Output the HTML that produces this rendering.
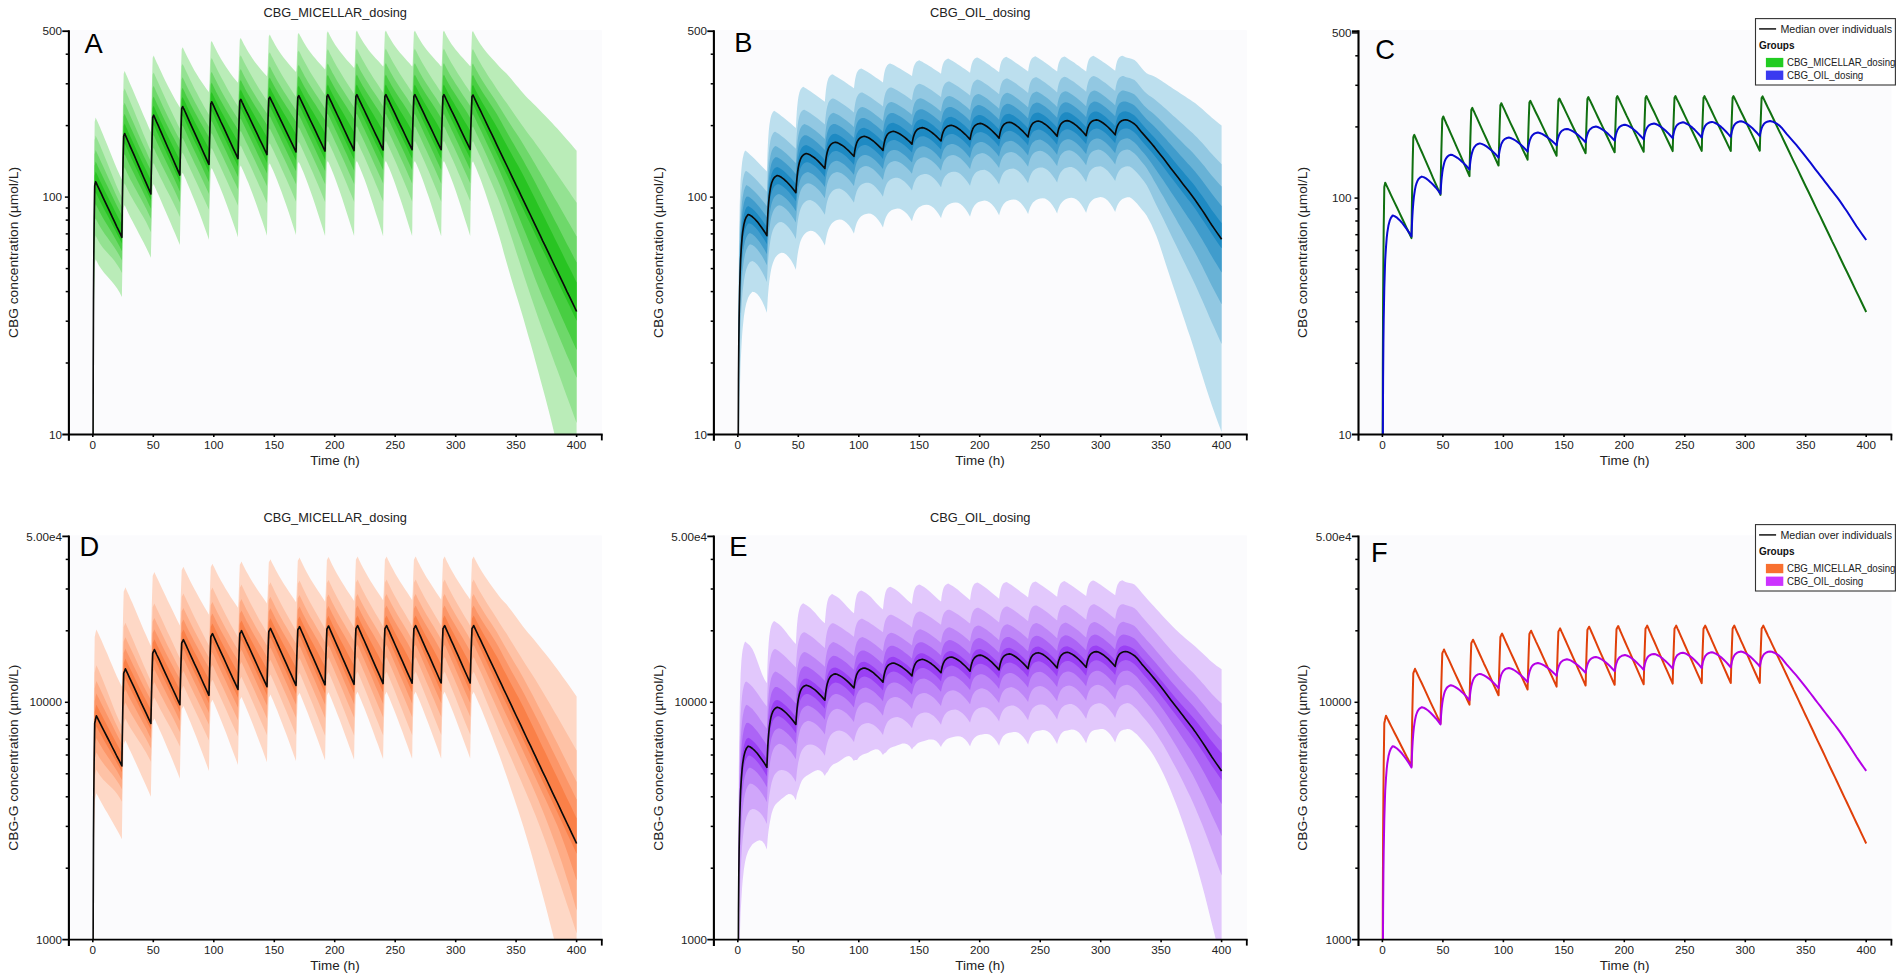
<!DOCTYPE html>
<html><head><meta charset="utf-8"><title>CBG dosing simulation</title>
<style>html,body{margin:0;padding:0;background:#fff;}body{width:1902px;height:979px;overflow:hidden;font-family:"Liberation Sans", sans-serif;}svg{display:block}</style>
</head><body>
<svg width="1902" height="979" viewBox="0 0 1902 979" font-family='"Liberation Sans", sans-serif'>
<g transform="translate(0,0)">
<rect x="68.9" y="30.2" width="532.9" height="404.3" fill="#fbfbfd"/>
<clipPath id="cp00"><rect x="68.9" y="30.2" width="533.9" height="404.3"/></clipPath>
<g clip-path="url(#cp00)">
<path d="M92.9,548.5 L93,386 L93.2,298 L93.5,234.2 L93.8,193.3 L94.1,163.6 L94.7,121.8 L95.3,119.2 L95.6,117.6 L96.4,119.2 L97.1,120.7 L97.7,122.1 L98.9,124.8 L100.1,127.6 L101.3,130.4 L103.1,134.8 L104.9,139.2 L107.4,145.2 L109.8,151.3 L112.2,157.3 L114.6,163.2 L117,169 L119.5,174.5 L121.9,179.8 L121.9,179.8 L122,167.8 L122.2,151.7 L122.5,129.5 L122.8,112.3 L123.1,97.7 L123.7,73.7 L124.3,72 L124.7,71 L125.4,72.7 L126.1,74.4 L126.7,75.8 L127.9,78.6 L129.1,81.4 L130.3,84.2 L132.2,88.4 L134,92.7 L136.4,98.4 L138.8,104 L141.2,109.7 L143.6,115.4 L146.1,121 L148.5,126.7 L150.9,132.2 L150.9,132.2 L151,125.4 L151.2,116 L151.5,102 L151.8,89.1 L152.1,77.6 L152.7,57.8 L153.3,56.4 L153.7,55.6 L154.4,57.2 L155.1,58.9 L155.7,60.2 L156.9,62.9 L158.2,65.6 L159.4,68.2 L161.2,72.1 L163,76 L165.4,80.9 L167.8,85.8 L170.3,90.5 L172.7,95 L175.1,99.4 L177.5,103.6 L179.9,107.6 L179.9,107.6 L180,103.4 L180.2,97.6 L180.5,88.2 L180.8,77.2 L181.1,67 L181.7,49.2 L182.3,48 L182.7,47.2 L183.4,48.8 L184.2,50.4 L184.8,51.7 L186,54.2 L187.2,56.7 L188.4,59.1 L190.2,62.6 L192,66 L194.4,70.4 L196.9,74.5 L199.3,78.4 L201.7,82.1 L204.1,85.6 L206.5,88.9 L208.9,92 L209,92 L209.1,89.2 L209.3,85.5 L209.6,78.6 L209.9,68.8 L210.2,59.4 L210.8,42.8 L211.4,41.6 L211.7,40.9 L212.5,42.5 L213.2,44 L213.8,45.2 L215,47.7 L216.2,50.1 L217.4,52.4 L219.2,55.7 L221,58.9 L223.5,62.9 L225.9,66.7 L228.3,70.3 L230.7,73.7 L233.1,76.9 L235.6,79.9 L238,82.8 L238,82.8 L238.1,80.9 L238.3,78.6 L238.6,73.6 L238.9,64.4 L239.2,55.5 L239.8,39.7 L240.4,38.5 L240.8,37.9 L241.5,39.4 L242.2,40.8 L242.8,42.1 L244,44.4 L245.2,46.6 L246.4,48.8 L248.3,51.9 L250.1,54.8 L252.5,58.5 L254.9,61.9 L257.3,65.1 L259.7,68.1 L262.2,70.9 L264.6,73.7 L267,76.3 L267,76.3 L267.1,74.9 L267.3,73.4 L267.6,69.3 L267.9,60.5 L268.2,51.8 L268.8,36.4 L269.4,35.3 L269.8,34.6 L270.5,36.1 L271.2,37.6 L271.8,38.8 L273.1,41.1 L274.3,43.3 L275.5,45.4 L277.3,48.4 L279.1,51.2 L281.5,54.7 L283.9,58 L286.4,61.1 L288.8,64 L291.2,66.7 L293.6,69.4 L296,72 L296,72 L296.2,71.1 L296.3,70.2 L296.6,66.9 L296.9,58.3 L297.2,49.8 L297.8,34.6 L298.4,33.5 L298.8,32.9 L299.5,34.4 L300.3,35.9 L300.9,37 L302.1,39.3 L303.3,41.5 L304.5,43.6 L306.3,46.5 L308.1,49.2 L310.5,52.6 L313,55.7 L315.4,58.6 L317.8,61.4 L320.2,64.1 L322.6,66.8 L325,69.4 L325.1,69.4 L325.2,68.7 L325.4,68.2 L325.7,65.2 L326,56.7 L326.3,48.2 L326.9,33 L327.5,31.9 L327.8,31.2 L328.6,32.8 L329.3,34.2 L329.9,35.4 L331.1,37.7 L332.3,39.9 L333.5,42 L335.3,44.9 L337.1,47.6 L339.6,51 L342,54.1 L344.4,57 L346.8,59.9 L349.2,62.6 L351.7,65.3 L354.1,68.1 L354.1,68.1 L354.2,67.5 L354.4,67.1 L354.7,64.3 L355,55.9 L355.3,47.4 L355.9,32.3 L356.5,31.3 L356.9,30.6 L357.6,32.1 L358.3,33.6 L358.9,34.7 L360.1,37 L361.3,39.1 L362.5,41.1 L364.4,44 L366.2,46.6 L368.6,49.9 L371,52.9 L373.4,55.7 L375.8,58.4 L378.3,61.1 L380.7,63.8 L383.1,66.6 L383.1,66.6 L383.2,66.2 L383.4,66.2 L383.7,63.9 L384,55.6 L384.3,47.3 L384.9,32.3 L385.5,31.2 L385.9,30.6 L386.6,32.1 L387.3,33.5 L387.9,34.7 L389.2,37 L390.4,39.1 L391.6,41.1 L393.4,43.9 L395.2,46.5 L397.6,49.8 L400,52.7 L402.5,55.6 L404.9,58.3 L407.3,60.9 L409.7,63.6 L412.1,66.4 L412.1,66.4 L412.3,66.1 L412.4,66 L412.7,63.8 L413,55.6 L413.3,47.2 L413.9,32.3 L414.6,31.2 L414.9,30.6 L415.6,32.1 L416.4,33.5 L417,34.7 L418.2,37 L419.4,39.1 L420.6,41.1 L422.4,43.9 L424.2,46.5 L426.6,49.8 L429.1,52.7 L431.5,55.6 L433.9,58.3 L436.3,60.9 L438.7,63.6 L441.1,66.4 L441.2,66.4 L441.3,66.1 L441.5,66 L441.8,63.8 L442.1,55.6 L442.4,47.2 L443,32.3 L443.6,31.2 L443.9,30.6 L444.7,32.1 L445.4,33.5 L446,34.7 L447.2,36.9 L448.4,39 L449.6,41 L451.4,43.9 L453.3,46.5 L455.7,49.7 L458.1,52.6 L460.5,55.4 L462.9,58.1 L465.3,60.7 L467.8,63.4 L470.2,66.2 L470.2,66.2 L470.3,65.9 L470.5,65.9 L470.8,63.8 L471.1,55.7 L471.4,47.4 L472,32.6 L472.6,31.5 L473,30.9 L473.7,32.4 L474.4,33.8 L475,35 L476.2,37.2 L477.4,39.3 L478.6,41.3 L480.5,44.2 L482.3,46.8 L484.7,50 L487.1,52.9 L489.5,55.7 L492,58.4 L494.4,61.1 L496.8,63.7 L499.2,66.5 L501.6,69 L504,71.2 L506.5,73.6 L508.9,76.3 L511.3,79.1 L513.7,82 L516.1,84.9 L518.6,87.8 L521,90.7 L523.4,93.5 L525.8,96.2 L528.2,98.7 L530.7,101.1 L533.1,103.4 L535.5,105.8 L537.9,108.3 L540.3,110.8 L542.7,113.2 L545.2,115.7 L547.6,118.2 L550,120.8 L552.4,123.3 L554.8,126 L557.3,128.6 L559.7,131.3 L562.1,134 L564.5,136.7 L566.9,139.5 L569.4,142.3 L571.8,145.1 L574.2,147.9 L576.6,150.8 L576.6,541.8 L574.2,528.7 L571.8,516 L569.4,503.5 L566.9,491.3 L564.5,479.5 L562.1,467.9 L559.7,456.8 L557.3,446 L554.8,435.5 L552.4,425.5 L550,415.8 L547.6,406.4 L545.2,397.2 L542.7,388.1 L540.3,379.2 L537.9,370.3 L535.5,361.4 L533.1,352.6 L530.7,343.9 L528.2,335.4 L525.8,326.9 L523.4,318.6 L521,310.5 L518.6,302.5 L516.1,294.6 L513.7,286.7 L511.3,278.7 L508.9,270.6 L506.5,262.3 L504,253.5 L501.6,244.5 L499.2,236.2 L496.8,228.5 L494.4,220.8 L492,213.2 L489.5,205.6 L487.1,198.3 L484.7,191.1 L482.3,184.2 L480.5,179.2 L478.6,174.5 L477.4,171.5 L476.2,168.5 L475,165.7 L474.4,164.4 L473.7,162.8 L473,161.2 L472.6,161.9 L472,162.9 L471.4,177.7 L471.1,186 L470.8,195.9 L470.5,213.8 L470.3,227 L470.2,235.9 L470.2,235.9 L467.8,228.2 L465.3,220.5 L462.9,212.9 L460.5,205.3 L458.1,197.9 L455.7,190.8 L453.3,183.9 L451.4,178.9 L449.6,174.2 L448.4,171.2 L447.2,168.2 L446,165.4 L445.4,164.1 L444.7,162.5 L443.9,160.9 L443.6,161.6 L443,162.7 L442.4,177.5 L442.1,185.9 L441.8,195.9 L441.5,213.9 L441.3,227.1 L441.2,236.1 L441.1,236.1 L438.7,228.4 L436.3,220.7 L433.9,213 L431.5,205.5 L429.1,198.1 L426.6,190.9 L424.2,184 L422.4,179 L420.6,174.2 L419.4,171.2 L418.2,168.3 L417,165.4 L416.4,164.1 L415.6,162.5 L414.9,160.9 L414.6,161.6 L413.9,162.7 L413.3,177.5 L413,185.9 L412.7,195.9 L412.4,213.9 L412.3,227.1 L412.1,236.1 L412.1,236.1 L409.7,228.4 L407.3,220.7 L404.9,213 L402.5,205.5 L400,198.1 L397.6,190.9 L395.2,184 L393.4,179 L391.6,174.2 L390.4,171.2 L389.2,168.3 L387.9,165.4 L387.3,164.1 L386.6,162.5 L385.9,160.9 L385.5,161.6 L384.9,162.7 L384.3,177.6 L384,186 L383.7,196 L383.4,214.1 L383.2,227.3 L383.1,236.3 L383.1,236.3 L380.7,228.6 L378.3,220.8 L375.8,213.2 L373.4,205.6 L371,198.2 L368.6,191 L366.2,184 L364.4,179 L362.5,174.3 L361.3,171.2 L360.1,168.3 L358.9,165.5 L358.3,164.1 L357.6,162.5 L356.9,160.9 L356.5,161.6 L355.9,162.7 L355.3,177.8 L355,186.2 L354.7,196.3 L354.4,214.2 L354.2,227.3 L354.1,236.1 L354.1,236.1 L351.7,228.4 L349.2,220.6 L346.8,212.9 L344.4,205.4 L342,198 L339.6,190.9 L337.1,184 L335.3,179.1 L333.5,174.3 L332.3,171.3 L331.1,168.3 L329.9,165.5 L329.3,164.1 L328.6,162.5 L327.8,160.9 L327.5,161.6 L326.9,162.7 L326.3,177.9 L326,186.4 L325.7,196.6 L325.4,214.2 L325.2,227 L325.1,235.8 L325,235.7 L322.6,228.1 L320.2,220.4 L317.8,212.9 L315.4,205.5 L313,198.3 L310.5,191.3 L308.1,184.6 L306.3,179.8 L304.5,175.1 L303.3,172.1 L302.1,169.2 L300.9,166.4 L300.3,165.1 L299.5,163.5 L298.8,161.9 L298.4,162.6 L297.8,163.7 L297.2,178.9 L296.9,187.4 L296.6,197.4 L296.3,214.3 L296.2,226.6 L296,235 L296,234.9 L293.6,227.4 L291.2,219.9 L288.8,212.6 L286.4,205.5 L283.9,198.5 L281.5,191.8 L279.1,185.4 L277.3,180.7 L275.5,176.2 L274.3,173.3 L273.1,170.5 L271.8,167.8 L271.2,166.4 L270.5,164.9 L269.8,163.3 L269.4,164 L268.8,165.1 L268.2,180.6 L267.9,189.3 L267.6,199.4 L267.3,215.9 L267.1,227.7 L267,235.8 L267,235.8 L264.6,228.3 L262.2,221 L259.7,213.9 L257.3,206.9 L254.9,200.2 L252.5,193.7 L250.1,187.4 L248.3,182.8 L246.4,178.4 L245.2,175.6 L244,172.8 L242.8,170.1 L242.2,168.7 L241.5,167.2 L240.8,165.6 L240.4,166.3 L239.8,167.5 L239.2,183.3 L238.9,192.2 L238.6,202.5 L238.3,218.3 L238.1,229.5 L238,237.2 L238,237.2 L235.6,229.9 L233.1,222.7 L230.7,215.7 L228.3,208.9 L225.9,202.4 L223.5,196 L221,189.8 L219.2,185.3 L217.4,180.9 L216.2,178.1 L215,175.3 L213.8,172.6 L213.2,171.2 L212.5,169.6 L211.7,168 L211.4,168.7 L210.8,169.9 L210.2,186.5 L209.9,195.9 L209.6,206.7 L209.3,221.8 L209.1,232.3 L209,239.7 L208.9,239.6 L206.5,232.7 L204.1,225.9 L201.7,219.2 L199.3,212.8 L196.9,206.5 L194.4,200.3 L192,194.4 L190.2,190 L188.4,185.7 L187.2,182.9 L186,180.1 L184.8,177.3 L184.2,176 L183.4,174.3 L182.7,172.7 L182.3,173.5 L181.7,174.8 L181.1,192.6 L180.8,202.8 L180.5,214.3 L180.2,228.5 L180,238.2 L179.9,245.1 L179.9,245.1 L177.5,239.3 L175.1,233.6 L172.7,227.9 L170.3,222.3 L167.8,216.6 L165.4,211 L163,205.4 L161.2,201.3 L159.4,197.1 L158.2,194.3 L156.9,191.5 L155.7,188.8 L155.1,187.4 L154.4,185.7 L153.7,184.1 L153.3,184.9 L152.7,186.3 L152.1,206.1 L151.8,217.6 L151.5,230.4 L151.2,243.2 L151,251.6 L150.9,257.8 L150.9,257.8 L148.5,252.5 L146.1,247.4 L143.6,242.6 L141.2,237.9 L138.8,233.4 L136.4,228.8 L134,224.3 L132.2,220.8 L130.3,217.2 L129.1,214.7 L127.9,212.2 L126.7,209.6 L126.1,208.3 L125.4,206.7 L124.7,205 L124.3,206 L123.7,207.7 L123.1,231.8 L122.8,246.3 L122.5,262.7 L122.2,278.3 L122,288.7 L121.9,296.9 L121.9,296.9 L119.5,292.2 L117,288.3 L114.6,284.9 L112.2,281.9 L109.8,279.2 L107.4,276.5 L104.9,273.8 L103.1,271.5 L101.3,269.1 L100.1,267.3 L98.9,265.4 L97.7,263.2 L97.1,262.1 L96.4,260.7 L95.6,259.2 L95.3,260.8 L94.7,263.4 L94.1,305.2 L93.8,334.9 L93.5,377.1 L93.2,452.1 L93,549.6 L92.9,700Z" fill="#baecb8"/>
<path d="M92.9,574.3 L93,410.4 L93.2,319.6 L93.5,252.6 L93.8,211.3 L94.1,181.7 L94.7,139.9 L95.3,137.2 L95.6,135.6 L96.4,137.2 L97.1,138.8 L97.7,140.1 L98.9,142.8 L100.1,145.6 L101.3,148.5 L103.1,152.8 L104.9,157.3 L107.4,163.3 L109.8,169.3 L112.2,175.3 L114.6,181.2 L117,187 L119.5,192.5 L121.9,197.8 L121.9,197.8 L122,185.8 L122.2,169.5 L122.5,147.1 L122.8,129.9 L123.1,115.3 L123.7,91.2 L124.3,89.6 L124.7,88.6 L125.4,90.3 L126.1,92 L126.7,93.4 L127.9,96.2 L129.1,99.1 L130.3,102 L132.2,106.4 L134,110.8 L136.4,116.7 L138.8,122.6 L141.2,128.5 L143.6,134.4 L146.1,140.2 L148.5,145.9 L150.9,151.5 L150.9,151.6 L151,144.2 L151.2,133.9 L151.5,118.9 L151.8,105.9 L152.1,94.4 L152.7,74.6 L153.3,73.2 L153.7,72.4 L154.4,74 L155.1,75.7 L155.7,77 L156.9,79.8 L158.2,82.5 L159.4,85.2 L161.2,89.2 L163,93.3 L165.4,98.5 L167.8,103.8 L170.3,108.9 L172.7,114 L175.1,119 L177.5,123.9 L179.9,128.7 L179.9,128.8 L180,123.5 L180.2,116.3 L180.5,105.1 L180.8,93.9 L181.1,83.7 L181.7,65.9 L182.3,64.7 L182.7,63.9 L183.4,65.5 L184.2,67.1 L184.8,68.4 L186,71 L187.2,73.6 L188.4,76.1 L190.2,79.9 L192,83.6 L194.4,88.4 L196.9,93.1 L199.3,97.7 L201.7,102.1 L204.1,106.4 L206.5,110.6 L208.9,114.7 L209,114.7 L209.1,110.7 L209.3,105.1 L209.6,96 L209.9,85.9 L210.2,76.5 L210.8,59.9 L211.4,58.8 L211.7,58 L212.5,59.6 L213.2,61.2 L213.8,62.4 L215,65 L216.2,67.5 L217.4,69.9 L219.2,73.5 L221,77.1 L223.5,81.6 L225.9,86.1 L228.3,90.4 L230.7,94.6 L233.1,98.7 L235.6,102.7 L238,106.5 L238,106.5 L238.1,103.3 L238.3,98.8 L238.6,91.2 L238.9,81.8 L239.2,72.8 L239.8,57 L240.4,55.9 L240.8,55.2 L241.5,56.7 L242.2,58.2 L242.8,59.4 L244,61.9 L245.2,64.2 L246.4,66.6 L248.3,70 L250.1,73.3 L252.5,77.6 L254.9,81.8 L257.3,85.8 L259.7,89.7 L262.2,93.5 L264.6,97.2 L267,100.8 L267,100.8 L267.1,98 L267.3,94.1 L267.6,87.2 L267.9,78.1 L268.2,69.4 L268.8,54 L269.4,52.9 L269.8,52.2 L270.5,53.7 L271.2,55.2 L271.8,56.4 L273.1,58.8 L274.3,61.2 L275.5,63.5 L277.3,66.8 L279.1,70.1 L281.5,74.3 L283.9,78.3 L286.4,82.2 L288.8,86.1 L291.2,89.8 L293.6,93.5 L296,97.1 L296,97.1 L296.2,94.5 L296.3,91.2 L296.6,84.9 L296.9,76 L297.2,67.5 L297.8,52.3 L298.4,51.2 L298.8,50.6 L299.5,52.1 L300.3,53.6 L300.9,54.8 L302.1,57.2 L303.3,59.5 L304.5,61.8 L306.3,65.1 L308.1,68.3 L310.5,72.5 L313,76.4 L315.4,80.3 L317.8,84 L320.2,87.7 L322.6,91.4 L325,95 L325.1,95 L325.2,92.6 L325.4,89.5 L325.7,83.4 L326,74.6 L326.3,66.1 L326.9,50.9 L327.5,49.8 L327.8,49.1 L328.6,50.6 L329.3,52.1 L329.9,53.4 L331.1,55.8 L332.3,58.1 L333.5,60.4 L335.3,63.8 L337.1,67 L339.6,71.1 L342,75.1 L344.4,79 L346.8,82.8 L349.2,86.5 L351.7,90.2 L354.1,93.9 L354.1,94 L354.2,91.6 L354.4,88.6 L354.7,82.7 L355,73.9 L355.3,65.5 L355.9,50.4 L356.5,49.3 L356.9,48.6 L357.6,50.2 L358.3,51.6 L358.9,52.9 L360.1,55.2 L361.3,57.5 L362.5,59.8 L364.4,63 L366.2,66.2 L368.6,70.2 L371,74.1 L373.4,77.9 L375.8,81.6 L378.3,85.3 L380.7,89 L383.1,92.7 L383.1,92.7 L383.2,90.6 L383.4,87.8 L383.7,82.3 L384,73.7 L384.3,65.3 L384.9,50.4 L385.5,49.3 L385.9,48.6 L386.6,50.2 L387.3,51.6 L387.9,52.8 L389.2,55.2 L390.4,57.5 L391.6,59.7 L393.4,63 L395.2,66.1 L397.6,70.1 L400,74 L402.5,77.8 L404.9,81.5 L407.3,85.1 L409.7,88.8 L412.1,92.5 L412.1,92.5 L412.3,90.4 L412.4,87.7 L412.7,82.2 L413,73.6 L413.3,65.3 L413.9,50.4 L414.6,49.3 L414.9,48.6 L415.6,50.2 L416.4,51.6 L417,52.8 L418.2,55.2 L419.4,57.5 L420.6,59.7 L422.4,63 L424.2,66.1 L426.6,70.1 L429.1,74 L431.5,77.8 L433.9,81.5 L436.3,85.1 L438.7,88.8 L441.1,92.5 L441.2,92.5 L441.3,90.4 L441.5,87.7 L441.8,82.2 L442.1,73.6 L442.4,65.3 L443,50.4 L443.6,49.3 L443.9,48.6 L444.7,50.1 L445.4,51.6 L446,52.8 L447.2,55.2 L448.4,57.5 L449.6,59.7 L451.4,62.9 L453.3,66 L455.7,70 L458.1,73.9 L460.5,77.6 L462.9,81.3 L465.3,85 L467.8,88.6 L470.2,92.3 L470.2,92.3 L470.3,90.2 L470.5,87.6 L470.8,82.2 L471.1,73.7 L471.4,65.4 L472,50.7 L472.6,49.6 L473,48.9 L473.7,50.4 L474.4,51.9 L475,53.1 L476.2,55.5 L477.4,57.8 L478.6,60 L480.5,63.2 L482.3,66.4 L484.7,70.3 L487.1,74.2 L489.5,77.9 L492,81.6 L494.4,85.3 L496.8,88.9 L499.2,92.6 L501.6,96.1 L504,99.4 L506.5,102.8 L508.9,106.2 L511.3,109.7 L513.7,113.2 L516.1,116.7 L518.6,120.2 L521,123.7 L523.4,127.1 L525.8,130.5 L528.2,133.7 L530.7,136.9 L533.1,140.1 L535.5,143.4 L537.9,146.7 L540.3,150.1 L542.7,153.6 L545.2,157.1 L547.6,160.5 L550,164.1 L552.4,167.6 L554.8,171.1 L557.3,174.6 L559.7,178.1 L562.1,181.6 L564.5,185.1 L566.9,188.6 L569.4,192.1 L571.8,195.7 L574.2,199.2 L576.6,202.8 L576.6,423.1 L574.2,416.4 L571.8,409.8 L569.4,403.2 L566.9,396.5 L564.5,389.9 L562.1,383.3 L559.7,376.6 L557.3,370 L554.8,363.4 L552.4,356.8 L550,350.2 L547.6,343.6 L545.2,337.1 L542.7,330.5 L540.3,323.8 L537.9,317 L535.5,310.1 L533.1,303.1 L530.7,295.9 L528.2,288.6 L525.8,281.3 L523.4,274 L521,266.6 L518.6,259.1 L516.1,251.6 L513.7,244.1 L511.3,236.7 L508.9,229.4 L506.5,222.2 L504,215 L501.6,208 L499.2,201.6 L496.8,195.6 L494.4,189.7 L492,183.9 L489.5,178.2 L487.1,172.5 L484.7,166.9 L482.3,161.3 L480.5,157.3 L478.6,153.3 L477.4,150.6 L476.2,148 L475,145.4 L474.4,144.1 L473.7,142.6 L473,141.1 L472.6,141.7 L472,142.8 L471.4,157.5 L471.1,165.8 L470.8,175.1 L470.5,187.2 L470.3,195.5 L470.2,201.3 L470.2,201.2 L467.8,195.3 L465.3,189.4 L462.9,183.6 L460.5,177.8 L458.1,172.2 L455.7,166.6 L453.3,161 L451.4,157 L449.6,152.9 L448.4,150.3 L447.2,147.7 L446,145.1 L445.4,143.8 L444.7,142.3 L443.9,140.8 L443.6,141.4 L443,142.5 L442.4,157.4 L442.1,165.7 L441.8,175 L441.5,187.3 L441.3,195.7 L441.2,201.5 L441.1,201.4 L438.7,195.5 L436.3,189.6 L433.9,183.8 L431.5,178 L429.1,172.3 L426.6,166.6 L424.2,161.1 L422.4,157 L420.6,153 L419.4,150.3 L418.2,147.7 L417,145.1 L416.4,143.8 L415.6,142.3 L414.9,140.8 L414.6,141.4 L413.9,142.5 L413.3,157.4 L413,165.7 L412.7,175 L412.4,187.3 L412.3,195.7 L412.1,201.5 L412.1,201.4 L409.7,195.5 L407.3,189.6 L404.9,183.8 L402.5,178 L400,172.3 L397.6,166.6 L395.2,161.1 L393.4,157 L391.6,153 L390.4,150.3 L389.2,147.7 L387.9,145.1 L387.3,143.8 L386.6,142.3 L385.9,140.8 L385.5,141.4 L384.9,142.5 L384.3,157.4 L384,165.8 L383.7,175.2 L383.4,187.4 L383.2,195.8 L383.1,201.7 L383.1,201.6 L380.7,195.7 L378.3,189.8 L375.8,183.9 L373.4,178.1 L371,172.4 L368.6,166.7 L366.2,161.2 L364.4,157.1 L362.5,153 L361.3,150.4 L360.1,147.7 L358.9,145.1 L358.3,143.8 L357.6,142.3 L356.9,140.8 L356.5,141.4 L355.9,142.5 L355.3,157.6 L355,166.1 L354.7,175.5 L354.4,187.7 L354.2,196.1 L354.1,201.8 L354.1,201.8 L351.7,195.8 L349.2,189.9 L346.8,184 L344.4,178.2 L342,172.5 L339.6,166.9 L337.1,161.3 L335.3,157.2 L333.5,153.1 L332.3,150.5 L331.1,147.8 L329.9,145.2 L329.3,143.9 L328.6,142.3 L327.8,140.8 L327.5,141.4 L326.9,142.5 L326.3,157.7 L326,166.3 L325.7,175.8 L325.4,187.9 L325.2,196.1 L325.1,201.8 L325,201.8 L322.6,195.9 L320.2,190.1 L317.8,184.3 L315.4,178.7 L313,173 L310.5,167.5 L308.1,162 L306.3,158 L304.5,154 L303.3,151.3 L302.1,148.7 L300.9,146.1 L300.3,144.8 L299.5,143.3 L298.8,141.8 L298.4,142.4 L297.8,143.5 L297.2,158.7 L296.9,167.2 L296.6,176.7 L296.3,188.3 L296.2,196.2 L296,201.7 L296,201.7 L293.6,196 L291.2,190.3 L288.8,184.7 L286.4,179.2 L283.9,173.8 L281.5,168.4 L279.1,163.1 L277.3,159.1 L275.5,155.2 L274.3,152.6 L273.1,150 L271.8,147.5 L271.2,146.2 L270.5,144.7 L269.8,143.2 L269.4,143.8 L268.8,144.9 L268.2,160.4 L267.9,169.1 L267.6,178.7 L267.3,190.2 L267.1,197.9 L267,203.2 L267,203.2 L264.6,197.7 L262.2,192.1 L259.7,186.7 L257.3,181.3 L254.9,175.9 L252.5,170.6 L250.1,165.3 L248.3,161.4 L246.4,157.5 L245.2,154.9 L244,152.4 L242.8,149.8 L242.2,148.5 L241.5,147 L240.8,145.5 L240.4,146.1 L239.8,147.3 L239.2,163.1 L238.9,172 L238.6,181.8 L238.3,193.1 L238.1,200.5 L238,205.7 L238,205.7 L235.6,200.2 L233.1,194.8 L230.7,189.4 L228.3,184.1 L225.9,178.7 L223.5,173.4 L221,168.1 L219.2,164.1 L217.4,160.2 L216.2,157.6 L215,154.9 L213.8,152.3 L213.2,151 L212.5,149.4 L211.7,147.9 L211.4,148.6 L210.8,149.8 L210.2,166.3 L209.9,175.7 L209.6,186 L209.3,197.1 L209.1,204.4 L209,209.5 L208.9,209.5 L206.5,204.2 L204.1,198.9 L201.7,193.7 L199.3,188.5 L196.9,183.3 L194.4,178 L192,172.8 L190.2,168.9 L188.4,165 L187.2,162.4 L186,159.7 L184.8,157.1 L184.2,155.8 L183.4,154.2 L182.7,152.6 L182.3,153.3 L181.7,154.6 L181.1,172.4 L180.8,182.6 L180.5,193.7 L180.2,204.8 L180,211.9 L179.9,217 L179.9,217 L177.5,211.6 L175.1,206.5 L172.7,201.6 L170.3,196.8 L167.8,192.1 L165.4,187.4 L163,182.6 L161.2,179 L159.4,175.4 L158.2,172.8 L156.9,170.3 L155.7,167.7 L155.1,166.4 L154.4,164.7 L153.7,163.1 L153.3,163.9 L152.7,165.3 L152.1,185.1 L151.8,196.6 L151.5,209.2 L151.2,220.2 L151,227 L150.9,232.2 L150.9,232.2 L148.5,226.9 L146.1,222.1 L143.6,217.6 L141.2,213.4 L138.8,209.4 L136.4,205.4 L134,201.4 L132.2,198.2 L130.3,194.9 L129.1,192.7 L127.9,190.3 L126.7,187.8 L126.1,186.5 L125.4,184.9 L124.7,183.2 L124.3,184.2 L123.7,185.9 L123.1,210 L122.8,224.5 L122.5,240.8 L122.2,255.5 L122,265.2 L121.9,273 L121.9,273 L119.5,268.3 L117,264.4 L114.6,261 L112.2,258.1 L109.8,255.4 L107.4,252.8 L104.9,250.1 L103.1,247.9 L101.3,245.4 L100.1,243.7 L98.9,241.7 L97.7,239.6 L97.1,238.5 L96.4,237.1 L95.6,235.6 L95.3,237.1 L94.7,239.8 L94.1,281.6 L93.8,311.3 L93.5,353 L93.2,423.6 L93,517.3 L92.9,682.9Z" fill="#94e292"/>
<path d="M92.9,588.1 L93,424.3 L93.2,333.8 L93.5,267.1 L93.8,225.8 L94.1,196.1 L94.7,154.3 L95.3,151.7 L95.6,150.1 L96.4,151.7 L97.1,153.2 L97.7,154.5 L98.9,157.1 L100.1,159.7 L101.3,162.4 L103.1,166.3 L104.9,170.3 L107.4,175.7 L109.8,181 L112.2,186.3 L114.6,191.7 L117,196.9 L119.5,202.2 L121.9,207.3 L121.9,207.3 L122,196.3 L122.2,181.6 L122.5,161 L122.8,144 L123.1,129.5 L123.7,105.4 L124.3,103.7 L124.7,102.7 L125.4,104.4 L126.1,106.1 L126.7,107.4 L127.9,110.2 L129.1,113 L130.3,115.8 L132.2,119.9 L134,124 L136.4,129.5 L138.8,135 L141.2,140.4 L143.6,145.8 L146.1,151.1 L148.5,156.5 L150.9,161.7 L150.9,161.8 L151,155.1 L151.2,145.9 L151.5,132.2 L151.8,119.4 L152.1,107.8 L152.7,88.1 L153.3,86.7 L153.7,85.8 L154.4,87.5 L155.1,89.1 L155.7,90.5 L156.9,93.2 L158.2,95.9 L159.4,98.5 L161.2,102.5 L163,106.4 L165.4,111.5 L167.8,116.5 L170.3,121.4 L172.7,126.2 L175.1,130.9 L177.5,135.4 L179.9,139.9 L179.9,139.9 L180,135.2 L180.2,128.7 L180.5,118.4 L180.8,107.3 L181.1,97.1 L181.7,79.3 L182.3,78 L182.7,77.3 L183.4,78.9 L184.2,80.5 L184.8,81.8 L186,84.4 L187.2,86.9 L188.4,89.4 L190.2,93.1 L192,96.6 L194.4,101.3 L196.9,105.8 L199.3,110.2 L201.7,114.5 L204.1,118.7 L206.5,122.7 L208.9,126.7 L209,126.7 L209.1,123 L209.3,118.1 L209.6,109.7 L209.9,99.7 L210.2,90.3 L210.8,73.7 L211.4,72.5 L211.7,71.8 L212.5,73.4 L213.2,74.9 L213.8,76.2 L215,78.7 L216.2,81.1 L217.4,83.5 L219.2,87 L221,90.5 L223.5,94.9 L225.9,99.2 L228.3,103.3 L230.7,107.4 L233.1,111.3 L235.6,115.2 L238,119 L238,119.1 L238.1,116.1 L238.3,112.1 L238.6,105 L238.9,95.7 L239.2,86.7 L239.8,70.9 L240.4,69.8 L240.8,69.1 L241.5,70.6 L242.2,72.1 L242.8,73.3 L244,75.7 L245.2,78.1 L246.4,80.3 L248.3,83.7 L250.1,86.9 L252.5,91 L254.9,95 L257.3,98.9 L259.7,102.7 L262.2,106.4 L264.6,110.1 L267,113.7 L267,113.8 L267.1,111.2 L267.3,107.7 L267.6,101.3 L267.9,92.2 L268.2,83.5 L268.8,68.1 L269.4,67 L269.8,66.3 L270.5,67.8 L271.2,69.3 L271.8,70.5 L273.1,72.9 L274.3,75.2 L275.5,77.4 L277.3,80.7 L279.1,83.8 L281.5,87.8 L283.9,91.7 L286.4,95.5 L288.8,99.2 L291.2,102.9 L293.6,106.6 L296,110.3 L296,110.3 L296.2,108 L296.3,104.9 L296.6,99 L296.9,90.2 L297.2,81.7 L297.8,66.5 L298.4,65.4 L298.8,64.8 L299.5,66.3 L300.3,67.8 L300.9,69 L302.1,71.3 L303.3,73.6 L304.5,75.9 L306.3,79.1 L308.1,82.2 L310.5,86.1 L313,89.9 L315.4,93.7 L317.8,97.3 L320.2,101 L322.6,104.7 L325,108.5 L325.1,108.5 L325.2,106.3 L325.4,103.4 L325.7,97.7 L326,88.9 L326.3,80.4 L326.9,65.2 L327.5,64.1 L327.8,63.4 L328.6,65 L329.3,66.5 L329.9,67.7 L331.1,70.1 L332.3,72.4 L333.5,74.6 L335.3,77.8 L337.1,80.9 L339.6,84.9 L342,88.7 L344.4,92.5 L346.8,96.2 L349.2,99.9 L351.7,103.7 L354.1,107.6 L354.1,107.6 L354.2,105.5 L354.4,102.7 L354.7,97.1 L355,88.4 L355.3,80 L355.9,64.9 L356.5,63.8 L356.9,63.1 L357.6,64.6 L358.3,66.1 L358.9,67.3 L360.1,69.7 L361.3,71.9 L362.5,74.1 L364.4,77.2 L366.2,80.3 L368.6,84.1 L371,87.9 L373.4,91.5 L375.8,95.1 L378.3,98.8 L380.7,102.6 L383.1,106.4 L383.1,106.5 L383.2,104.5 L383.4,102 L383.7,96.7 L384,88.2 L384.3,79.8 L384.9,64.8 L385.5,63.8 L385.9,63.1 L386.6,64.6 L387.3,66.1 L387.9,67.3 L389.2,69.6 L390.4,71.9 L391.6,74 L393.4,77.2 L395.2,80.2 L397.6,84 L400,87.8 L402.5,91.4 L404.9,95 L407.3,98.6 L409.7,102.4 L412.1,106.2 L412.1,106.3 L412.3,104.3 L412.4,101.8 L412.7,96.6 L413,88.1 L413.3,79.7 L413.9,64.8 L414.6,63.8 L414.9,63.1 L415.6,64.6 L416.4,66.1 L417,67.3 L418.2,69.6 L419.4,71.9 L420.6,74 L422.4,77.2 L424.2,80.2 L426.6,84 L429.1,87.8 L431.5,91.4 L433.9,95 L436.3,98.6 L438.7,102.4 L441.1,106.2 L441.2,106.3 L441.3,104.3 L441.5,101.8 L441.8,96.6 L442.1,88.1 L442.4,79.7 L443,64.8 L443.6,63.8 L443.9,63.1 L444.7,64.6 L445.4,66.1 L446,67.3 L447.2,69.6 L448.4,71.8 L449.6,74 L451.4,77.1 L453.3,80.1 L455.7,83.9 L458.1,87.6 L460.5,91.3 L462.9,94.9 L465.3,98.5 L467.8,102.2 L470.2,106 L470.2,106.1 L470.3,104.2 L470.5,101.7 L470.8,96.6 L471.1,88.2 L471.4,79.9 L472,65.1 L472.6,64.1 L473,63.4 L473.7,64.9 L474.4,66.4 L475,67.6 L476.2,69.9 L477.4,72.1 L478.6,74.3 L480.5,77.4 L482.3,80.4 L484.7,84.3 L487.1,88 L489.5,91.6 L492,95.2 L494.4,98.8 L496.8,102.5 L499.2,106.4 L501.6,110.3 L504,114.3 L506.5,118.2 L508.9,122 L511.3,125.8 L513.7,129.4 L516.1,133.1 L518.6,136.8 L521,140.6 L523.4,144.4 L525.8,148.4 L528.2,152.4 L530.7,156.5 L533.1,160.7 L535.5,164.8 L537.9,169 L540.3,173.1 L542.7,177.3 L545.2,181.5 L547.6,185.7 L550,189.9 L552.4,194.2 L554.8,198.4 L557.3,202.6 L559.7,206.8 L562.1,211 L564.5,215.3 L566.9,219.5 L569.4,223.7 L571.8,228 L574.2,232.2 L576.6,236.5 L576.6,377.7 L574.2,372.1 L571.8,366.5 L569.4,360.8 L566.9,355.2 L564.5,349.5 L562.1,343.8 L559.7,338.1 L557.3,332.3 L554.8,326.6 L552.4,320.8 L550,315.1 L547.6,309.3 L545.2,303.5 L542.7,297.7 L540.3,291.8 L537.9,285.8 L535.5,279.7 L533.1,273.3 L530.7,266.8 L528.2,260.2 L525.8,253.6 L523.4,247.1 L521,240.6 L518.6,234 L516.1,227.5 L513.7,220.9 L511.3,214.5 L508.9,208.1 L506.5,201.8 L504,195.5 L501.6,189.3 L499.2,183.5 L496.8,178.1 L494.4,172.7 L492,167.3 L489.5,161.9 L487.1,156.6 L484.7,151.3 L482.3,146.1 L480.5,142.2 L478.6,138.3 L477.4,135.8 L476.2,133.2 L475,130.6 L474.4,129.4 L473.7,127.9 L473,126.3 L472.6,127 L472,128 L471.4,142.8 L471.1,151.1 L470.8,160.2 L470.5,171 L470.3,178.2 L470.2,183.2 L470.2,183.2 L467.8,177.8 L465.3,172.3 L462.9,167 L460.5,161.6 L458.1,156.3 L455.7,151 L453.3,145.8 L451.4,141.9 L449.6,138 L448.4,135.5 L447.2,132.9 L446,130.3 L445.4,129.1 L444.7,127.6 L443.9,126 L443.6,126.7 L443,127.8 L442.4,142.7 L442.1,151 L441.8,160.2 L441.5,171.1 L441.3,178.3 L441.2,183.4 L441.1,183.4 L438.7,177.9 L436.3,172.5 L433.9,167.1 L431.5,161.7 L429.1,156.4 L426.6,151.1 L424.2,145.9 L422.4,142 L420.6,138.1 L419.4,135.5 L418.2,132.9 L417,130.4 L416.4,129.1 L415.6,127.6 L414.9,126 L414.6,126.7 L413.9,127.8 L413.3,142.7 L413,151 L412.7,160.2 L412.4,171.1 L412.3,178.3 L412.1,183.4 L412.1,183.4 L409.7,177.9 L407.3,172.5 L404.9,167.1 L402.5,161.7 L400,156.4 L397.6,151.1 L395.2,145.9 L393.4,142 L391.6,138.1 L390.4,135.5 L389.2,132.9 L387.9,130.4 L387.3,129.1 L386.6,127.6 L385.9,126 L385.5,126.7 L384.9,127.8 L384.3,142.7 L384,151.1 L383.7,160.3 L383.4,171.2 L383.2,178.5 L383.1,183.6 L383.1,183.6 L380.7,178.1 L378.3,172.7 L375.8,167.3 L373.4,161.9 L371,156.5 L368.6,151.2 L366.2,145.9 L364.4,142 L362.5,138.1 L361.3,135.5 L360.1,132.9 L358.9,130.4 L358.3,129.1 L357.6,127.6 L356.9,126 L356.5,126.7 L355.9,127.8 L355.3,142.9 L355,151.3 L354.7,160.7 L354.4,171.6 L354.2,178.9 L354.1,184 L354.1,183.9 L351.7,178.5 L349.2,173 L346.8,167.6 L344.4,162.1 L342,156.8 L339.6,151.4 L337.1,146.1 L335.3,142.2 L333.5,138.2 L332.3,135.6 L331.1,133 L329.9,130.4 L329.3,129.1 L328.6,127.6 L327.8,126 L327.5,126.7 L326.9,127.8 L326.3,143 L326,151.5 L325.7,160.9 L325.4,171.8 L325.2,179.1 L325.1,184.1 L325,184.1 L322.6,178.7 L320.2,173.3 L317.8,168 L315.4,162.7 L313,157.4 L310.5,152.1 L308.1,146.9 L306.3,143 L304.5,139.1 L303.3,136.5 L302.1,134 L300.9,131.4 L300.3,130.1 L299.5,128.6 L298.8,127 L298.4,127.7 L297.8,128.8 L297.2,144 L296.9,152.5 L296.6,161.8 L296.3,172.5 L296.2,179.5 L296,184.4 L296,184.3 L293.6,179.1 L291.2,173.9 L288.8,168.7 L286.4,163.5 L283.9,158.3 L281.5,153.2 L279.1,148 L277.3,144.2 L275.5,140.4 L274.3,137.8 L273.1,135.3 L271.8,132.7 L271.2,131.5 L270.5,130 L269.8,128.4 L269.4,129.1 L268.8,130.2 L268.2,145.7 L267.9,154.4 L267.6,163.9 L267.3,174.5 L267.1,181.4 L267,186.3 L267,186.3 L264.6,181.1 L262.2,176 L259.7,170.8 L257.3,165.7 L254.9,160.6 L252.5,155.5 L250.1,150.4 L248.3,146.5 L246.4,142.7 L245.2,140.2 L244,137.6 L242.8,135.1 L242.2,133.8 L241.5,132.3 L240.8,130.7 L240.4,131.4 L239.8,132.6 L239.2,148.4 L238.9,157.3 L238.6,167 L238.3,177.6 L238.1,184.4 L238,189.3 L238,189.3 L235.6,184.1 L233.1,178.9 L230.7,173.7 L228.3,168.5 L225.9,163.4 L223.5,158.2 L221,153.1 L219.2,149.2 L217.4,145.4 L216.2,142.8 L215,140.2 L213.8,137.6 L213.2,136.3 L212.5,134.7 L211.7,133.1 L211.4,133.8 L210.8,135 L210.2,151.6 L209.9,161 L209.6,171.3 L209.3,182 L209.1,188.9 L209,193.8 L208.9,193.8 L206.5,188.5 L204.1,183.3 L201.7,178.2 L199.3,173.1 L196.9,168 L194.4,162.9 L192,157.8 L190.2,154 L188.4,150.2 L187.2,147.6 L186,145 L184.8,142.3 L184.2,141 L183.4,139.4 L182.7,137.8 L182.3,138.6 L181.7,139.9 L181.1,157.7 L180.8,167.9 L180.5,179 L180.2,190.1 L180,197.2 L179.9,202.4 L179.9,202.4 L177.5,197 L175.1,191.8 L172.7,186.8 L170.3,181.9 L167.8,177.1 L165.4,172.3 L163,167.5 L161.2,163.9 L159.4,160.1 L158.2,157.6 L156.9,155 L155.7,152.4 L155.1,151.1 L154.4,149.4 L153.7,147.8 L153.3,148.6 L152.7,150 L152.1,169.8 L151.8,181.3 L151.5,194 L151.2,205.7 L151,213.2 L150.9,218.8 L150.9,218.8 L148.5,213.5 L146.1,208.5 L143.6,203.8 L141.2,199.3 L138.8,194.9 L136.4,190.6 L134,186.2 L132.2,182.8 L130.3,179.4 L129.1,177 L127.9,174.5 L126.7,171.9 L126.1,170.6 L125.4,169 L124.7,167.3 L124.3,168.3 L123.7,170 L123.1,194.1 L122.8,208.6 L122.5,225.1 L122.2,241.2 L122,252 L121.9,260.6 L121.9,260.5 L119.5,255.8 L117,251.5 L114.6,247.7 L112.2,244.2 L109.8,240.9 L107.4,237.6 L104.9,234.2 L103.1,231.6 L101.3,228.8 L100.1,226.8 L98.9,224.7 L97.7,222.5 L97.1,221.3 L96.4,219.9 L95.6,218.4 L95.3,219.9 L94.7,222.6 L94.1,264.4 L93.8,294 L93.5,335.7 L93.2,406 L93,499.5 L92.9,664.9Z" fill="#6ed86a"/>
<path d="M92.9,600 L93,436 L93.2,345.4 L93.5,278.5 L93.8,237.2 L94.1,207.5 L94.7,165.7 L95.3,163.1 L95.6,161.5 L96.4,163.1 L97.1,164.6 L97.7,165.9 L98.9,168.4 L100.1,171 L101.3,173.5 L103.1,177.3 L104.9,181.1 L107.4,186.1 L109.8,191.1 L112.2,196.1 L114.6,201 L117,205.9 L119.5,210.7 L121.9,215.5 L121.9,215.5 L122,205.1 L122.2,191.4 L122.5,172 L122.8,155.1 L123.1,140.6 L123.7,116.5 L124.3,114.8 L124.7,113.8 L125.4,115.5 L126.1,117.2 L126.7,118.5 L127.9,121.3 L129.1,124 L130.3,126.8 L132.2,130.8 L134,134.8 L136.4,140.1 L138.8,145.4 L141.2,150.6 L143.6,155.7 L146.1,160.7 L148.5,165.7 L150.9,170.5 L150.9,170.5 L151,164.3 L151.2,155.7 L151.5,142.7 L151.8,130 L152.1,118.4 L152.7,98.7 L153.3,97.3 L153.7,96.4 L154.4,98.1 L155.1,99.7 L155.7,101.1 L156.9,103.8 L158.2,106.4 L159.4,109 L161.2,112.9 L163,116.7 L165.4,121.7 L167.8,126.6 L170.3,131.4 L172.7,136 L175.1,140.6 L177.5,145.1 L179.9,149.5 L179.9,149.5 L180,145 L180.2,138.8 L180.5,128.9 L180.8,117.9 L181.1,107.7 L181.7,89.9 L182.3,88.6 L182.7,87.8 L183.4,89.4 L184.2,91 L184.8,92.3 L186,94.9 L187.2,97.4 L188.4,99.8 L190.2,103.5 L192,107 L194.4,111.6 L196.9,116 L199.3,120.4 L201.7,124.6 L204.1,128.8 L206.5,132.9 L208.9,137 L209,137 L209.1,133.5 L209.3,128.7 L209.6,120.5 L209.9,110.5 L210.2,101.1 L210.8,84.5 L211.4,83.3 L211.7,82.6 L212.5,84.2 L213.2,85.7 L213.8,87 L215,89.5 L216.2,91.9 L217.4,94.3 L219.2,97.7 L221,101.1 L223.5,105.4 L225.9,109.7 L228.3,113.8 L230.7,117.8 L233.1,121.8 L235.6,125.8 L238,129.8 L238,129.9 L238.1,126.9 L238.3,123 L238.6,115.9 L238.9,106.6 L239.2,97.7 L239.8,81.8 L240.4,80.7 L240.8,80 L241.5,81.5 L242.2,83 L242.8,84.2 L244,86.6 L245.2,88.9 L246.4,91.2 L248.3,94.5 L250.1,97.6 L252.5,101.7 L254.9,105.7 L257.3,109.5 L259.7,113.3 L262.2,117.2 L264.6,121 L267,124.9 L267,124.9 L267.1,122.3 L267.3,118.8 L267.6,112.4 L267.9,103.3 L268.2,94.7 L268.8,79.2 L269.4,78.1 L269.8,77.4 L270.5,78.9 L271.2,80.4 L271.8,81.6 L273.1,84 L274.3,86.2 L275.5,88.4 L277.3,91.6 L279.1,94.7 L281.5,98.7 L283.9,102.6 L286.4,106.4 L288.8,110.1 L291.2,113.9 L293.6,117.7 L296,121.7 L296,121.7 L296.2,119.3 L296.3,116.2 L296.6,110.2 L296.9,101.4 L297.2,92.9 L297.8,77.7 L298.4,76.6 L298.8,75.9 L299.5,77.4 L300.3,78.9 L300.9,80.1 L302.1,82.5 L303.3,84.7 L304.5,86.9 L306.3,90.1 L308.1,93.2 L310.5,97.1 L313,100.9 L315.4,104.6 L317.8,108.4 L320.2,112.2 L322.6,116.1 L325,120.1 L325.1,120.2 L325.2,117.9 L325.4,114.9 L325.7,109 L326,100.2 L326.3,91.7 L326.9,76.5 L327.5,75.4 L327.8,74.7 L328.6,76.2 L329.3,77.7 L329.9,79 L331.1,81.3 L332.3,83.6 L333.5,85.8 L335.3,89 L337.1,92 L339.6,96 L342,99.8 L344.4,103.5 L346.8,107.3 L349.2,111.2 L351.7,115.1 L354.1,119.3 L354.1,119.3 L354.2,117.1 L354.4,114.3 L354.7,108.6 L355,99.8 L355.3,91.4 L355.9,76.3 L356.5,75.2 L356.9,74.5 L357.6,76 L358.3,77.5 L358.9,78.7 L360.1,81 L361.3,83.2 L362.5,85.4 L364.4,88.5 L366.2,91.5 L368.6,95.3 L371,99 L373.4,102.7 L375.8,106.4 L378.3,110.2 L380.7,114.1 L383.1,118.3 L383.1,118.3 L383.2,116.3 L383.4,113.6 L383.7,108.2 L384,99.6 L384.3,91.2 L384.9,76.2 L385.5,75.2 L385.9,74.5 L386.6,76 L387.3,77.5 L387.9,78.7 L389.2,81 L390.4,83.2 L391.6,85.4 L393.4,88.5 L395.2,91.4 L397.6,95.2 L400,98.9 L402.5,102.6 L404.9,106.2 L407.3,110 L409.7,114 L412.1,118.1 L412.1,118.1 L412.3,116.1 L412.4,113.4 L412.7,108 L413,99.5 L413.3,91.1 L413.9,76.2 L414.6,75.2 L414.9,74.5 L415.6,76 L416.4,77.5 L417,78.7 L418.2,81 L419.4,83.2 L420.6,85.4 L422.4,88.5 L424.2,91.4 L426.6,95.2 L429.1,98.9 L431.5,102.6 L433.9,106.2 L436.3,110 L438.7,114 L441.1,118.1 L441.2,118.1 L441.3,116.1 L441.5,113.4 L441.8,108 L442.1,99.5 L442.4,91.1 L443,76.2 L443.6,75.2 L443.9,74.5 L444.7,76 L445.4,77.5 L446,78.7 L447.2,81 L448.4,83.2 L449.6,85.3 L451.4,88.4 L453.3,91.3 L455.7,95.1 L458.1,98.8 L460.5,102.4 L462.9,106.1 L465.3,109.8 L467.8,113.8 L470.2,117.9 L470.2,117.9 L470.3,115.9 L470.5,113.4 L470.8,108.1 L471.1,99.6 L471.4,91.3 L472,76.5 L472.6,75.5 L473,74.8 L473.7,76.3 L474.4,77.8 L475,79 L476.2,81.3 L477.4,83.5 L478.6,85.6 L480.5,88.7 L482.3,91.7 L484.7,95.4 L487.1,99.1 L489.5,102.7 L492,106.4 L494.4,110.2 L496.8,114.1 L499.2,118.2 L501.6,122.6 L504,127.1 L506.5,131.5 L508.9,135.8 L511.3,140 L513.7,144.1 L516.1,148.2 L518.6,152.4 L521,156.6 L523.4,160.8 L525.8,165.2 L528.2,169.6 L530.7,174.1 L533.1,178.6 L535.5,183.1 L537.9,187.7 L540.3,192.3 L542.7,197 L545.2,201.7 L547.6,206.4 L550,211.1 L552.4,215.8 L554.8,220.4 L557.3,225.1 L559.7,229.8 L562.1,234.5 L564.5,239.2 L566.9,243.9 L569.4,248.5 L571.8,253.2 L574.2,257.9 L576.6,262.6 L576.6,350.1 L574.2,344.8 L571.8,339.4 L569.4,334.1 L566.9,328.7 L564.5,323.3 L562.1,317.9 L559.7,312.5 L557.3,307.1 L554.8,301.6 L552.4,296.2 L550,290.7 L547.6,285.2 L545.2,279.7 L542.7,274.2 L540.3,268.6 L537.9,263 L535.5,257.3 L533.1,251.5 L530.7,245.7 L528.2,239.7 L525.8,233.8 L523.4,227.9 L521,222 L518.6,216.1 L516.1,210.2 L513.7,204.3 L511.3,198.4 L508.9,192.6 L506.5,186.8 L504,181.1 L501.6,175.4 L499.2,170 L496.8,164.7 L494.4,159.5 L492,154.3 L489.5,149.1 L487.1,143.9 L484.7,138.7 L482.3,133.6 L480.5,129.8 L478.6,125.9 L477.4,123.4 L476.2,120.8 L475,118.3 L474.4,117 L473.7,115.5 L473,114 L472.6,114.6 L472,115.7 L471.4,130.5 L471.1,138.8 L470.8,147.8 L470.5,158.1 L470.3,164.9 L470.2,169.7 L470.2,169.7 L467.8,164.4 L465.3,159.2 L462.9,154 L460.5,148.8 L458.1,143.6 L455.7,138.4 L453.3,133.3 L451.4,129.5 L449.6,125.6 L448.4,123.1 L447.2,120.5 L446,118 L445.4,116.7 L444.7,115.2 L443.9,113.7 L443.6,114.3 L443,115.4 L442.4,130.3 L442.1,138.6 L441.8,147.8 L441.5,158.2 L441.3,165.1 L441.2,169.9 L441.1,169.9 L438.7,164.6 L436.3,159.4 L433.9,154.1 L431.5,148.9 L429.1,143.7 L426.6,138.5 L424.2,133.4 L422.4,129.5 L420.6,125.7 L419.4,123.1 L418.2,120.6 L417,118 L416.4,116.7 L415.6,115.2 L414.9,113.7 L414.6,114.3 L413.9,115.4 L413.3,130.3 L413,138.6 L412.7,147.8 L412.4,158.2 L412.3,165.1 L412.1,169.9 L412.1,169.9 L409.7,164.6 L407.3,159.4 L404.9,154.1 L402.5,148.9 L400,143.7 L397.6,138.5 L395.2,133.4 L393.4,129.5 L391.6,125.7 L390.4,123.1 L389.2,120.6 L387.9,118 L387.3,116.7 L386.6,115.2 L385.9,113.7 L385.5,114.3 L384.9,115.4 L384.3,130.4 L384,138.7 L383.7,147.9 L383.4,158.4 L383.2,165.2 L383.1,170.1 L383.1,170.1 L380.7,164.8 L378.3,159.5 L375.8,154.3 L373.4,149 L371,143.8 L368.6,138.6 L366.2,133.4 L364.4,129.6 L362.5,125.7 L361.3,123.1 L360.1,120.6 L358.9,118 L358.3,116.7 L357.6,115.2 L356.9,113.7 L356.5,114.3 L355.9,115.4 L355.3,130.5 L355,139 L354.7,148.3 L354.4,158.8 L354.2,165.7 L354.1,170.6 L354.1,170.6 L351.7,165.2 L349.2,159.9 L346.8,154.6 L344.4,149.4 L342,144.1 L339.6,138.9 L337.1,133.6 L335.3,129.7 L333.5,125.8 L332.3,123.3 L331.1,120.7 L329.9,118.1 L329.3,116.8 L328.6,115.2 L327.8,113.7 L327.5,114.3 L326.9,115.4 L326.3,130.7 L326,139.2 L325.7,148.5 L325.4,159.1 L325.2,166 L325.1,170.9 L325,170.8 L322.6,165.6 L320.2,160.4 L317.8,155.2 L315.4,150 L313,144.8 L310.5,139.6 L308.1,134.4 L306.3,130.6 L304.5,126.7 L303.3,124.2 L302.1,121.6 L300.9,119 L300.3,117.8 L299.5,116.2 L298.8,114.7 L298.4,115.3 L297.8,116.4 L297.2,131.6 L296.9,140.2 L296.6,149.5 L296.3,159.8 L296.2,166.6 L296,171.4 L296,171.3 L293.6,166.2 L291.2,161.1 L288.8,156 L286.4,150.9 L283.9,145.8 L281.5,140.7 L279.1,135.6 L277.3,131.8 L275.5,128 L274.3,125.5 L273.1,122.9 L271.8,120.4 L271.2,119.1 L270.5,117.6 L269.8,116.1 L269.4,116.8 L268.8,117.9 L268.2,133.3 L267.9,142 L267.6,151.5 L267.3,161.9 L267.1,168.8 L267,173.6 L267,173.5 L264.6,168.5 L262.2,163.4 L259.7,158.3 L257.3,153.2 L254.9,148.1 L252.5,143.1 L250.1,138 L248.3,134.2 L246.4,130.3 L245.2,127.8 L244,125.3 L242.8,122.7 L242.2,121.4 L241.5,119.9 L240.8,118.4 L240.4,119.1 L239.8,120.2 L239.2,136 L238.9,145 L238.6,154.7 L238.3,165.2 L238.1,172.1 L238,177 L238,176.9 L235.6,171.7 L233.1,166.5 L230.7,161.4 L228.3,156.2 L225.9,151.1 L223.5,145.9 L221,140.8 L219.2,136.9 L217.4,133 L216.2,130.4 L215,127.8 L213.8,125.2 L213.2,123.9 L212.5,122.4 L211.7,120.8 L211.4,121.5 L210.8,122.7 L210.2,139.3 L209.9,148.7 L209.6,159 L209.3,169.9 L209.1,177 L209,182.1 L208.9,182 L206.5,176.7 L204.1,171.5 L201.7,166.3 L199.3,161.1 L196.9,156 L194.4,150.8 L192,145.7 L190.2,141.8 L188.4,137.9 L187.2,135.3 L186,132.6 L184.8,130 L184.2,128.7 L183.4,127.1 L182.7,125.5 L182.3,126.2 L181.7,127.5 L181.1,145.3 L180.8,155.5 L180.5,166.7 L180.2,178.4 L180,186 L179.9,191.4 L179.9,191.4 L177.5,186 L175.1,180.7 L172.7,175.5 L170.3,170.4 L167.8,165.3 L165.4,160.3 L163,155.2 L161.2,151.4 L159.4,147.5 L158.2,144.9 L156.9,142.3 L155.7,139.6 L155.1,138.2 L154.4,136.6 L153.7,135 L153.3,135.8 L152.7,137.2 L152.1,157 L151.8,168.5 L151.5,181.2 L151.2,194.2 L151,202.6 L150.9,208.8 L150.9,208.8 L148.5,203.4 L146.1,198.2 L143.6,193.2 L141.2,188.3 L138.8,183.5 L136.4,178.7 L134,173.8 L132.2,170.2 L130.3,166.4 L129.1,163.9 L127.9,161.3 L126.7,158.6 L126.1,157.3 L125.4,155.7 L124.7,154 L124.3,155 L123.7,156.7 L123.1,180.8 L122.8,195.3 L122.5,211.9 L122.2,229.6 L122,241.8 L121.9,251.2 L121.9,251.2 L119.5,246.3 L117,241.7 L114.6,237.4 L112.2,233.3 L109.8,229.3 L107.4,225.3 L104.9,221.3 L103.1,218.2 L101.3,215 L100.1,212.8 L98.9,210.5 L97.7,208.1 L97.1,206.9 L96.4,205.4 L95.6,203.9 L95.3,205.5 L94.7,208.1 L94.1,249.9 L93.8,279.6 L93.5,321.3 L93.2,392 L93,485.7 L92.9,651.3Z" fill="#48ce42"/>
<path d="M92.9,612.9 L93,448.4 L93.2,356.7 L93.5,288.6 L93.8,247.2 L94.1,217.5 L94.7,175.7 L95.3,173.1 L95.6,171.5 L96.4,173 L97.1,174.6 L97.7,175.8 L98.9,178.4 L100.1,180.9 L101.3,183.4 L103.1,187.2 L104.9,190.9 L107.4,195.9 L109.8,200.8 L112.2,205.6 L114.6,210.4 L117,215.2 L119.5,219.9 L121.9,224.5 L121.9,224.5 L122,214.3 L122.2,200.8 L122.5,181.7 L122.8,164.8 L123.1,150.3 L123.7,126.2 L124.3,124.5 L124.7,123.5 L125.4,125.2 L126.1,126.9 L126.7,128.3 L127.9,131 L129.1,133.7 L130.3,136.5 L132.2,140.5 L134,144.5 L136.4,149.8 L138.8,155 L141.2,160.2 L143.6,165.3 L146.1,170.3 L148.5,175.3 L150.9,180.2 L150.9,180.2 L151,173.8 L151.2,165.2 L151.5,152 L151.8,139.2 L152.1,127.7 L152.7,107.9 L153.3,106.5 L153.7,105.7 L154.4,107.4 L155.1,109 L155.7,110.4 L156.9,113.1 L158.2,115.7 L159.4,118.4 L161.2,122.3 L163,126.1 L165.4,131.2 L167.8,136.2 L170.3,141.1 L172.7,145.9 L175.1,150.7 L177.5,155.4 L179.9,160.1 L179.9,160.1 L180,155.3 L180.2,148.7 L180.5,138.2 L180.8,127.1 L181.1,116.9 L181.7,99.1 L182.3,97.8 L182.7,97.1 L183.4,98.7 L184.2,100.2 L184.8,101.5 L186,104.1 L187.2,106.7 L188.4,109.2 L190.2,112.9 L192,116.5 L194.4,121.3 L196.9,125.9 L199.3,130.5 L201.7,135 L204.1,139.5 L206.5,144 L208.9,148.4 L209,148.4 L209.1,144.4 L209.3,139 L209.6,130 L209.9,120 L210.2,110.6 L210.8,94 L211.4,92.8 L211.7,92.1 L212.5,93.7 L213.2,95.2 L213.8,96.5 L215,99 L216.2,101.5 L217.4,103.9 L219.2,107.5 L221,111 L223.5,115.5 L225.9,120 L228.3,124.4 L230.7,128.7 L233.1,133.1 L235.6,137.4 L238,141.7 L238,141.7 L238.1,138.3 L238.3,133.6 L238.6,125.6 L238.9,116.2 L239.2,107.2 L239.8,91.4 L240.4,90.3 L240.8,89.6 L241.5,91.1 L242.2,92.6 L242.8,93.8 L244,96.3 L245.2,98.6 L246.4,101 L248.3,104.4 L250.1,107.7 L252.5,112.1 L254.9,116.3 L257.3,120.5 L259.7,124.6 L262.2,128.8 L264.6,133 L267,137.2 L267,137.2 L267.1,134 L267.3,129.7 L267.6,122.2 L267.9,113.1 L268.2,104.4 L268.8,88.9 L269.4,87.8 L269.8,87.1 L270.5,88.7 L271.2,90.1 L271.8,91.4 L273.1,93.8 L274.3,96.1 L275.5,98.4 L277.3,101.8 L279.1,105 L281.5,109.3 L283.9,113.5 L286.4,117.6 L288.8,121.7 L291.2,125.8 L293.6,130 L296,134.2 L296,134.2 L296.2,131.2 L296.3,127.2 L296.6,120.1 L296.9,111.2 L297.2,102.6 L297.8,87.4 L298.4,86.3 L298.8,85.7 L299.5,87.2 L300.3,88.7 L300.9,89.9 L302.1,92.3 L303.3,94.7 L304.5,97 L306.3,100.4 L308.1,103.6 L310.5,107.9 L313,112 L315.4,116.2 L317.8,120.3 L320.2,124.4 L322.6,128.6 L325,132.9 L325.1,133 L325.2,130 L325.4,126.1 L325.7,119 L326,110.1 L326.3,101.6 L326.9,86.3 L327.5,85.2 L327.8,84.6 L328.6,86.1 L329.3,87.6 L329.9,88.9 L331.1,91.3 L332.3,93.7 L333.5,96 L335.3,99.4 L337.1,102.6 L339.6,106.9 L342,111.1 L344.4,115.3 L346.8,119.4 L349.2,123.6 L351.7,127.9 L354.1,132.2 L354.1,132.3 L354.2,129.4 L354.4,125.5 L354.7,118.7 L355,109.8 L355.3,101.3 L355.9,86.2 L356.5,85.1 L356.9,84.5 L357.6,86 L358.3,87.5 L358.9,88.7 L360.1,91.1 L361.3,93.4 L362.5,95.7 L364.4,99 L366.2,102.2 L368.6,106.4 L371,110.5 L373.4,114.6 L375.8,118.7 L378.3,122.8 L380.7,127 L383.1,131.4 L383.1,131.4 L383.2,128.6 L383.4,124.9 L383.7,118.3 L384,109.5 L384.3,101.2 L384.9,86.2 L385.5,85.1 L385.9,84.5 L386.6,86 L387.3,87.5 L387.9,88.7 L389.2,91.1 L390.4,93.4 L391.6,95.7 L393.4,99 L395.2,102.2 L397.6,106.3 L400,110.4 L402.5,114.5 L404.9,118.5 L407.3,122.6 L409.7,126.8 L412.1,131.2 L412.1,131.2 L412.3,128.5 L412.4,124.8 L412.7,118.1 L413,109.4 L413.3,101.1 L413.9,86.2 L414.6,85.1 L414.9,84.5 L415.6,86 L416.4,87.5 L417,88.7 L418.2,91.1 L419.4,93.4 L420.6,95.7 L422.4,99 L424.2,102.2 L426.6,106.3 L429.1,110.4 L431.5,114.5 L433.9,118.5 L436.3,122.6 L438.7,126.8 L441.1,131.2 L441.2,131.2 L441.3,128.5 L441.5,124.8 L441.8,118.1 L442.1,109.4 L442.4,101.1 L443,86.2 L443.6,85.1 L443.9,84.5 L444.7,86 L445.4,87.5 L446,88.7 L447.2,91 L448.4,93.4 L449.6,95.6 L451.4,98.9 L453.3,102.1 L455.7,106.2 L458.1,110.3 L460.5,114.3 L462.9,118.4 L465.3,122.5 L467.8,126.6 L470.2,131 L470.2,131 L470.3,128.3 L470.5,124.7 L470.8,118.2 L471.1,109.6 L471.4,101.3 L472,86.5 L472.6,85.4 L473,84.8 L473.7,86.3 L474.4,87.8 L475,89 L476.2,91.4 L477.4,93.7 L478.6,95.9 L480.5,99.2 L482.3,102.4 L484.7,106.5 L487.1,110.6 L489.5,114.6 L492,118.7 L494.4,122.8 L496.8,127 L499.2,131.3 L501.6,135.8 L504,140.3 L506.5,144.8 L508.9,149.2 L511.3,153.6 L513.7,157.9 L516.1,162.2 L518.6,166.6 L521,171 L523.4,175.6 L525.8,180.3 L528.2,185.1 L530.7,189.9 L533.1,194.7 L535.5,199.6 L537.9,204.4 L540.3,209.3 L542.7,214.1 L545.2,219 L547.6,223.9 L550,228.7 L552.4,233.6 L554.8,238.5 L557.3,243.4 L559.7,248.2 L562.1,253.1 L564.5,258 L566.9,262.9 L569.4,267.8 L571.8,272.6 L574.2,277.5 L576.6,282.4 L576.6,320.8 L574.2,315.7 L571.8,310.7 L569.4,305.6 L566.9,300.5 L564.5,295.5 L562.1,290.4 L559.7,285.4 L557.3,280.3 L554.8,275.3 L552.4,270.2 L550,265.2 L547.6,260.1 L545.2,255.1 L542.7,250 L540.3,245 L537.9,239.9 L535.5,234.9 L533.1,229.8 L530.7,224.8 L528.2,219.7 L525.8,214.7 L523.4,209.6 L521,204.5 L518.6,199.4 L516.1,194.3 L513.7,189.2 L511.3,184.1 L508.9,179.1 L506.5,174 L504,168.9 L501.6,163.9 L499.2,158.8 L496.8,153.8 L494.4,148.7 L492,143.7 L489.5,138.6 L487.1,133.6 L484.7,128.5 L482.3,123.5 L480.5,119.7 L478.6,115.9 L477.4,113.4 L476.2,110.8 L475,108.3 L474.4,107.1 L473.7,105.5 L473,104 L472.6,104.7 L472,105.7 L471.4,120.5 L471.1,128.8 L470.8,137.8 L470.5,147.6 L470.3,154 L470.2,158.5 L470.2,158.5 L467.8,153.5 L465.3,148.4 L462.9,143.4 L460.5,138.3 L458.1,133.3 L455.7,128.2 L453.3,123.2 L451.4,119.4 L449.6,115.6 L448.4,113.1 L447.2,110.5 L446,108 L445.4,106.8 L444.7,105.2 L443.9,103.7 L443.6,104.4 L443,105.4 L442.4,120.3 L442.1,128.7 L441.8,137.8 L441.5,147.7 L441.3,154.2 L441.2,158.7 L441.1,158.7 L438.7,153.7 L436.3,148.6 L433.9,143.5 L431.5,138.4 L429.1,133.4 L426.6,128.3 L424.2,123.2 L422.4,119.4 L420.6,115.6 L419.4,113.1 L418.2,110.6 L417,108 L416.4,106.8 L415.6,105.2 L414.9,103.7 L414.6,104.4 L413.9,105.4 L413.3,120.3 L413,128.7 L412.7,137.8 L412.4,147.7 L412.3,154.2 L412.1,158.7 L412.1,158.7 L409.7,153.7 L407.3,148.6 L404.9,143.5 L402.5,138.4 L400,133.4 L397.6,128.3 L395.2,123.2 L393.4,119.4 L391.6,115.6 L390.4,113.1 L389.2,110.6 L387.9,108 L387.3,106.8 L386.6,105.2 L385.9,103.7 L385.5,104.4 L384.9,105.4 L384.3,120.4 L384,128.8 L383.7,137.9 L383.4,147.9 L383.2,154.4 L383.1,158.9 L383.1,158.9 L380.7,153.8 L378.3,148.7 L375.8,143.7 L373.4,138.6 L371,133.5 L368.6,128.4 L366.2,123.3 L364.4,119.5 L362.5,115.7 L361.3,113.1 L360.1,110.6 L358.9,108 L358.3,106.8 L357.6,105.2 L356.9,103.7 L356.5,104.4 L355.9,105.5 L355.3,120.6 L355,129 L354.7,138.2 L354.4,148.3 L354.2,154.9 L354.1,159.5 L354.1,159.5 L351.7,154.4 L349.2,149.2 L346.8,144.1 L344.4,139 L342,133.8 L339.6,128.7 L337.1,123.5 L335.3,119.7 L333.5,115.8 L332.3,113.2 L331.1,110.7 L329.9,108.1 L329.3,106.8 L328.6,105.3 L327.8,103.7 L327.5,104.4 L326.9,105.5 L326.3,120.7 L326,129.2 L325.7,138.5 L325.4,148.7 L325.2,155.3 L325.1,159.9 L325,159.9 L322.6,154.8 L320.2,149.7 L317.8,144.7 L315.4,139.6 L313,134.5 L310.5,129.4 L308.1,124.3 L306.3,120.5 L304.5,116.7 L303.3,114.2 L302.1,111.6 L300.9,109.1 L300.3,107.8 L299.5,106.3 L298.8,104.7 L298.4,105.4 L297.8,106.5 L297.2,121.7 L296.9,130.2 L296.6,139.5 L296.3,149.5 L296.2,156.1 L296,160.7 L296,160.6 L293.6,155.6 L291.2,150.6 L288.8,145.5 L286.4,140.5 L283.9,135.5 L281.5,130.5 L279.1,125.5 L277.3,121.7 L275.5,118 L274.3,115.5 L273.1,112.9 L271.8,110.4 L271.2,109.2 L270.5,107.6 L269.8,106.1 L269.4,106.8 L268.8,107.9 L268.2,123.4 L267.9,132 L267.6,141.5 L267.3,151.7 L267.1,158.4 L267,163.1 L267,163.1 L264.6,158 L262.2,153 L259.7,147.9 L257.3,142.9 L254.9,137.9 L252.5,132.9 L250.1,127.9 L248.3,124.1 L246.4,120.3 L245.2,117.8 L244,115.3 L242.8,112.7 L242.2,111.5 L241.5,109.9 L240.8,108.4 L240.4,109.1 L239.8,110.2 L239.2,126.1 L238.9,135 L238.6,144.7 L238.3,155.2 L238.1,162 L238,166.8 L238,166.8 L235.6,161.6 L233.1,156.4 L230.7,151.3 L228.3,146.1 L225.9,141 L223.5,135.9 L221,130.7 L219.2,126.9 L217.4,123 L216.2,120.4 L215,117.9 L213.8,115.3 L213.2,114 L212.5,112.4 L211.7,110.8 L211.4,111.5 L210.8,112.7 L210.2,129.3 L209.9,138.7 L209.6,149 L209.3,160 L209.1,167.2 L209,172.3 L208.9,172.3 L206.5,167 L204.1,161.8 L201.7,156.5 L199.3,151.3 L196.9,146.1 L194.4,141 L192,135.8 L190.2,131.9 L188.4,127.9 L187.2,125.3 L186,122.7 L184.8,120 L184.2,118.7 L183.4,117.1 L182.7,115.5 L182.3,116.3 L181.7,117.5 L181.1,135.3 L180.8,145.6 L180.5,156.8 L180.2,168.8 L180,176.7 L179.9,182.4 L179.9,182.4 L177.5,176.9 L175.1,171.6 L172.7,166.2 L170.3,161 L167.8,155.7 L165.4,150.5 L163,145.2 L161.2,141.3 L159.4,137.3 L158.2,134.6 L156.9,131.9 L155.7,129.2 L155.1,127.9 L154.4,126.2 L153.7,124.6 L153.3,125.4 L152.7,126.8 L152.1,146.6 L151.8,158.1 L151.5,171 L151.2,184.7 L151,193.9 L150.9,200.6 L150.9,200.5 L148.5,195.1 L146.1,189.7 L143.6,184.4 L141.2,179.3 L138.8,174.1 L136.4,169 L134,163.8 L132.2,159.9 L130.3,156 L129.1,153.3 L127.9,150.6 L126.7,147.9 L126.1,146.6 L125.4,144.9 L124.7,143.2 L124.3,144.2 L123.7,145.9 L123.1,170 L122.8,184.5 L122.5,201.3 L122.2,220.2 L122,233.4 L121.9,243.5 L121.9,243.5 L119.5,238.5 L117,233.7 L114.6,229 L112.2,224.4 L109.8,219.8 L107.4,215.3 L104.9,210.7 L103.1,207.3 L101.3,203.8 L100.1,201.4 L98.9,199 L97.7,196.5 L97.1,195.3 L96.4,193.8 L95.6,192.3 L95.3,193.8 L94.7,196.5 L94.1,238.3 L93.8,267.9 L93.5,309.7 L93.2,380.5 L93,474.5 L92.9,640.1Z" fill="#28c422"/>
<path d="M92.9,631 L93,465.1 L93.2,370.6 L93.5,299.2 L93.8,257.4 L94.1,227.7 L94.7,185.9 L95.3,183.3 L95.6,181.7 L96.4,183.2 L97.1,184.8 L97.7,186.1 L98.9,188.6 L100.1,191.2 L101.3,193.7 L103.1,197.6 L104.9,201.4 L107.4,206.6 L109.8,211.7 L112.2,216.8 L114.6,221.9 L117,227.1 L119.5,232.2 L121.9,237.3 L121.9,237.3 L122,226.4 L122.2,212 L122.5,191.7 L122.8,174.8 L123.1,160.2 L123.7,136.2 L124.3,134.5 L124.7,133.5 L125.4,135.2 L126.1,136.8 L126.7,138.2 L127.9,141 L129.1,143.8 L130.3,146.6 L132.2,150.8 L134,154.9 L136.4,160.5 L138.8,166.1 L141.2,171.6 L143.6,177.2 L146.1,182.8 L148.5,188.3 L150.9,193.9 L150.9,193.9 L151,186.6 L151.2,176.6 L151.5,161.7 L151.8,148.7 L152.1,137.2 L152.7,117.4 L153.3,116 L153.7,115.2 L154.4,116.9 L155.1,118.5 L155.7,119.9 L156.9,122.7 L158.2,125.4 L159.4,128.2 L161.2,132.3 L163,136.5 L165.4,142 L167.8,147.5 L170.3,153 L172.7,158.5 L175.1,164.1 L177.5,169.6 L179.9,175.1 L179.9,175.1 L180,169 L180.2,160.6 L180.5,147.9 L180.8,136.5 L181.1,126.3 L181.7,108.5 L182.3,107.3 L182.7,106.5 L183.4,108.1 L184.2,109.7 L184.8,111 L186,113.7 L187.2,116.4 L188.4,119.1 L190.2,123.1 L192,127.1 L194.4,132.4 L196.9,137.8 L199.3,143.1 L201.7,148.5 L204.1,153.8 L206.5,159.2 L208.9,164.5 L209,164.5 L209.1,159.1 L209.3,151.5 L209.6,140 L209.9,129.7 L210.2,120.3 L210.8,103.7 L211.4,102.5 L211.7,101.8 L212.5,103.4 L213.2,104.9 L213.8,106.2 L215,108.9 L216.2,111.5 L217.4,114.1 L219.2,118 L221,122 L223.5,127.2 L225.9,132.4 L228.3,137.7 L230.7,142.9 L233.1,148.1 L235.6,153.4 L238,158.6 L238,158.6 L238.1,153.6 L238.3,146.5 L238.6,135.7 L238.9,126 L239.2,117 L239.8,101.2 L240.4,100.1 L240.8,99.4 L241.5,100.9 L242.2,102.5 L242.8,103.7 L244,106.3 L245.2,108.8 L246.4,111.4 L248.3,115.2 L250.1,119 L252.5,124.1 L254.9,129.2 L257.3,134.2 L259.7,139.3 L262.2,144.4 L264.6,149.5 L267,154.6 L267,154.6 L267.1,149.8 L267.3,143 L267.6,132.5 L267.9,123 L268.2,114.3 L268.8,98.9 L269.4,97.8 L269.8,97.1 L270.5,98.6 L271.2,100.1 L271.8,101.4 L273.1,103.9 L274.3,106.5 L275.5,109 L277.3,112.8 L279.1,116.6 L281.5,121.6 L283.9,126.7 L286.4,131.8 L288.8,136.8 L291.2,141.9 L293.6,146.9 L296,152 L296,152 L296.2,147.3 L296.3,140.7 L296.6,130.5 L296.9,121.2 L297.2,112.6 L297.8,97.5 L298.4,96.4 L298.8,95.7 L299.5,97.2 L300.3,98.8 L300.9,100 L302.1,102.6 L303.3,105.1 L304.5,107.7 L306.3,111.5 L308.1,115.4 L310.5,120.5 L313,125.6 L315.4,130.7 L317.8,135.8 L320.2,140.9 L322.6,146 L325,151.1 L325.1,151.1 L325.2,146.4 L325.4,139.7 L325.7,129.5 L326,120.2 L326.3,111.7 L326.9,96.5 L327.5,95.4 L327.8,94.7 L328.6,96.2 L329.3,97.8 L329.9,99.1 L331.1,101.7 L332.3,104.2 L333.5,106.8 L335.3,110.7 L337.1,114.5 L339.6,119.7 L342,124.8 L344.4,130 L346.8,135.1 L349.2,140.3 L351.7,145.4 L354.1,150.6 L354.1,150.6 L354.2,146 L354.4,139.4 L354.7,129.2 L355,120 L355.3,111.5 L355.9,96.4 L356.5,95.3 L356.9,94.7 L357.6,96.2 L358.3,97.8 L358.9,99 L360.1,101.6 L361.3,104.1 L362.5,106.7 L364.4,110.5 L366.2,114.3 L368.6,119.4 L371,124.5 L373.4,129.5 L375.8,134.6 L378.3,139.7 L380.7,144.8 L383.1,149.9 L383.1,149.9 L383.2,145.3 L383.4,138.8 L383.7,128.8 L384,119.7 L384.3,111.4 L384.9,96.4 L385.5,95.3 L385.9,94.7 L386.6,96.2 L387.3,97.7 L387.9,99 L389.2,101.5 L390.4,104.1 L391.6,106.6 L393.4,110.4 L395.2,114.2 L397.6,119.3 L400,124.4 L402.5,129.4 L404.9,134.5 L407.3,139.6 L409.7,144.6 L412.1,149.7 L412.1,149.7 L412.3,145.2 L412.4,138.7 L412.7,128.7 L413,119.7 L413.3,111.3 L413.9,96.4 L414.6,95.3 L414.9,94.7 L415.6,96.2 L416.4,97.7 L417,99 L418.2,101.5 L419.4,104.1 L420.6,106.6 L422.4,110.4 L424.2,114.2 L426.6,119.3 L429.1,124.4 L431.5,129.4 L433.9,134.5 L436.3,139.6 L438.7,144.6 L441.1,149.7 L441.2,149.7 L441.3,145.2 L441.5,138.7 L441.8,128.7 L442.1,119.7 L442.4,111.3 L443,96.4 L443.6,95.3 L443.9,94.7 L444.7,96.2 L445.4,97.7 L446,99 L447.2,101.5 L448.4,104 L449.6,106.6 L451.4,110.4 L453.3,114.1 L455.7,119.2 L458.1,124.2 L460.5,129.3 L462.9,134.3 L465.3,139.4 L467.8,144.4 L470.2,149.5 L470.2,149.5 L470.3,145 L470.5,138.6 L470.8,128.8 L471.1,119.8 L471.4,111.5 L472,96.7 L472.6,95.6 L473,95 L473.7,96.5 L474.4,98 L475,99.3 L476.2,101.8 L477.4,104.3 L478.6,106.9 L480.5,110.7 L482.3,114.5 L484.7,119.5 L487.1,124.6 L489.5,129.6 L492,134.7 L494.4,139.7 L496.8,144.8 L499.2,149.8 L501.6,154.9 L504,159.9 L506.5,165 L508.9,170 L511.3,175.1 L513.7,180.1 L516.1,185.2 L518.6,190.2 L521,195.3 L523.4,200.3 L525.8,205.4 L528.2,210.4 L530.7,215.5 L533.1,220.6 L535.5,225.6 L537.9,230.7 L540.3,235.7 L542.7,240.8 L545.2,245.8 L547.6,250.9 L550,255.9 L552.4,261 L554.8,266 L557.3,271.1 L559.7,276.1 L562.1,281.2 L564.5,286.2 L566.9,291.3 L569.4,296.3 L571.8,301.4 L574.2,306.4 L576.6,311.5" fill="none" stroke="#0a0a0a" stroke-width="1.65" stroke-linejoin="round"/>
</g>
<line x1="68.9" y1="30.3" x2="68.9" y2="440.8" stroke="#000" stroke-width="2.1"/>
<line x1="62.3" y1="434.5" x2="602.7" y2="434.5" stroke="#000" stroke-width="1.8"/>
<line x1="601.8" y1="434.5" x2="601.8" y2="440.4" stroke="#000" stroke-width="1.8"/>
<line x1="62.3" y1="31.2" x2="68.9" y2="31.2" stroke="#000" stroke-width="1.8"/>
<line x1="65.7" y1="363" x2="68.9" y2="363" stroke="#000" stroke-width="1.5"/>
<line x1="65.7" y1="321.2" x2="68.9" y2="321.2" stroke="#000" stroke-width="1.5"/>
<line x1="65.7" y1="291.6" x2="68.9" y2="291.6" stroke="#000" stroke-width="1.5"/>
<line x1="65.7" y1="268.6" x2="68.9" y2="268.6" stroke="#000" stroke-width="1.5"/>
<line x1="65.7" y1="249.8" x2="68.9" y2="249.8" stroke="#000" stroke-width="1.5"/>
<line x1="65.7" y1="233.9" x2="68.9" y2="233.9" stroke="#000" stroke-width="1.5"/>
<line x1="65.7" y1="220.1" x2="68.9" y2="220.1" stroke="#000" stroke-width="1.5"/>
<line x1="65.7" y1="208" x2="68.9" y2="208" stroke="#000" stroke-width="1.5"/>
<line x1="64.9" y1="197.1" x2="68.9" y2="197.1" stroke="#000" stroke-width="1.5"/>
<line x1="65.7" y1="125.6" x2="68.9" y2="125.6" stroke="#000" stroke-width="1.5"/>
<line x1="65.7" y1="83.8" x2="68.9" y2="83.8" stroke="#000" stroke-width="1.5"/>
<line x1="65.7" y1="54.2" x2="68.9" y2="54.2" stroke="#000" stroke-width="1.5"/>
<line x1="92.8" y1="434.5" x2="92.8" y2="437" stroke="#000" stroke-width="1.6"/>
<text x="92.8" y="449.2" font-size="11.7" text-anchor="middle" fill="#222">0</text>
<line x1="153.3" y1="434.5" x2="153.3" y2="437" stroke="#000" stroke-width="1.6"/>
<text x="153.3" y="449.2" font-size="11.7" text-anchor="middle" fill="#222">50</text>
<line x1="213.8" y1="434.5" x2="213.8" y2="437" stroke="#000" stroke-width="1.6"/>
<text x="213.8" y="449.2" font-size="11.7" text-anchor="middle" fill="#222">100</text>
<line x1="274.3" y1="434.5" x2="274.3" y2="437" stroke="#000" stroke-width="1.6"/>
<text x="274.3" y="449.2" font-size="11.7" text-anchor="middle" fill="#222">150</text>
<line x1="334.7" y1="434.5" x2="334.7" y2="437" stroke="#000" stroke-width="1.6"/>
<text x="334.7" y="449.2" font-size="11.7" text-anchor="middle" fill="#222">200</text>
<line x1="395.2" y1="434.5" x2="395.2" y2="437" stroke="#000" stroke-width="1.6"/>
<text x="395.2" y="449.2" font-size="11.7" text-anchor="middle" fill="#222">250</text>
<line x1="455.7" y1="434.5" x2="455.7" y2="437" stroke="#000" stroke-width="1.6"/>
<text x="455.7" y="449.2" font-size="11.7" text-anchor="middle" fill="#222">300</text>
<line x1="516.1" y1="434.5" x2="516.1" y2="437" stroke="#000" stroke-width="1.6"/>
<text x="516.1" y="449.2" font-size="11.7" text-anchor="middle" fill="#222">350</text>
<line x1="576.6" y1="434.5" x2="576.6" y2="437" stroke="#000" stroke-width="1.6"/>
<text x="576.6" y="449.2" font-size="11.7" text-anchor="middle" fill="#222">400</text>
<text x="61.9" y="35.4" font-size="11.7" text-anchor="end" fill="#222">500</text>
<text x="61.9" y="201.3" font-size="11.7" text-anchor="end" fill="#222">100</text>
<text x="61.9" y="438.7" font-size="11.7" text-anchor="end" fill="#222">10</text>
<text x="335" y="465" font-size="13.3" text-anchor="middle" fill="#222" textLength="49.5" lengthAdjust="spacingAndGlyphs">Time (h)</text>
<text transform="translate(17.8,252.5) rotate(-90)" font-size="13.5" text-anchor="middle" fill="#222" textLength="171" lengthAdjust="spacingAndGlyphs">CBG concentration (µmol/L)</text>
<text x="335.2" y="16.5" font-size="13.3" text-anchor="middle" fill="#222" textLength="143.6" lengthAdjust="spacingAndGlyphs">CBG_MICELLAR_dosing</text>
<text x="84.6" y="52.6" font-size="27.3" fill="#000">A</text>
</g>
<g transform="translate(645,0)">
<rect x="68.9" y="30.2" width="532.9" height="404.3" fill="#fbfbfd"/>
<clipPath id="cp10"><rect x="68.9" y="30.2" width="533.9" height="404.3"/></clipPath>
<g clip-path="url(#cp10)">
<path d="M92.9,611.2 L93,447.5 L93.2,357.3 L93.5,292.7 L93.8,257.7 L94.1,234.6 L94.7,205.4 L95.3,187.8 L95.6,180.3 L96.4,169.6 L97.1,162.6 L97.7,158.5 L98.9,153.3 L100.1,150.4 L101.3,151.3 L103.1,152.8 L104.9,154.5 L107.4,156.7 L109.8,159.1 L112.2,161.5 L114.6,164 L117,166.5 L119.5,169 L121.9,171.6 L121.9,171.6 L122,167.1 L122.2,161.1 L122.5,152.7 L122.8,145.9 L123.1,140.3 L123.7,131.8 L124.3,125.8 L124.7,123 L125.4,118.8 L126.1,116 L126.7,114.3 L127.9,112 L129.1,110.8 L130.3,111.5 L132.2,112.7 L134,114 L136.4,115.9 L138.8,117.8 L141.2,119.8 L143.6,121.8 L146.1,123.8 L148.5,125.9 L150.9,128 L150.9,128 L151,125.2 L151.2,121.5 L151.5,116.2 L151.8,111.7 L152.1,107.9 L152.7,101.9 L153.3,97.6 L153.7,95.6 L154.4,92.5 L155.1,90.5 L155.7,89.3 L156.9,87.7 L158.2,86.8 L159.4,87.5 L161.2,88.5 L163,89.7 L165.4,91.3 L167.8,93 L170.3,94.7 L172.7,96.4 L175.1,98.2 L177.5,100 L179.9,101.8 L179.9,101.8 L180,100.1 L180.2,97.7 L180.5,94.3 L180.8,91.3 L181.1,88.8 L181.7,84.8 L182.3,81.8 L182.7,80.4 L183.4,78.3 L184.2,76.9 L184.8,76 L186,74.9 L187.2,74.3 L188.4,74.8 L190.2,75.9 L192,77 L194.4,78.5 L196.9,80 L199.3,81.6 L201.7,83.3 L204.1,85 L206.5,86.6 L208.9,88.3 L209,88.4 L209.1,87.1 L209.3,85.4 L209.6,82.9 L209.9,80.8 L210.2,79 L210.8,76.2 L211.4,74 L211.7,73 L212.5,71.5 L213.2,70.4 L213.8,69.7 L215,68.9 L216.2,68.4 L217.4,68.9 L219.2,70 L221,71.1 L223.5,72.6 L225.9,74.1 L228.3,75.7 L230.7,77.4 L233.1,79.1 L235.6,80.7 L238,82.4 L238,82.5 L238.1,81.3 L238.3,79.7 L238.6,77.3 L238.9,75.3 L239.2,73.6 L239.8,70.8 L240.4,68.8 L240.8,67.8 L241.5,66.4 L242.2,65.3 L242.8,64.7 L244,63.8 L245.2,63.4 L246.4,63.9 L248.3,64.8 L250.1,65.8 L252.5,67.2 L254.9,68.6 L257.3,70.1 L259.7,71.6 L262.2,73.1 L264.6,74.6 L267,76.1 L267,76.2 L267.1,75.2 L267.3,73.8 L267.6,71.9 L267.9,70.2 L268.2,68.8 L268.8,66.6 L269.4,64.9 L269.8,64.2 L270.5,62.9 L271.2,62 L271.8,61.5 L273.1,60.7 L274.3,60.3 L275.5,60.9 L277.3,61.8 L279.1,62.9 L281.5,64.3 L283.9,65.8 L286.4,67.3 L288.8,68.9 L291.2,70.5 L293.6,72.1 L296,73.7 L296,73.7 L296.2,72.8 L296.3,71.5 L296.6,69.7 L296.9,68.1 L297.2,66.8 L297.8,64.6 L298.4,63.1 L298.8,62.3 L299.5,61.1 L300.3,60.3 L300.9,59.7 L302.1,59 L303.3,58.6 L304.5,59.2 L306.3,60.2 L308.1,61.3 L310.5,62.8 L313,64.4 L315.4,66 L317.8,67.7 L320.2,69.3 L322.6,71 L325,72.7 L325.1,72.7 L325.2,71.8 L325.4,70.5 L325.7,68.6 L326,67 L326.3,65.6 L326.9,63.5 L327.5,61.9 L327.8,61.1 L328.6,59.9 L329.3,59 L329.9,58.5 L331.1,57.8 L332.3,57.4 L333.5,58 L335.3,59.1 L337.1,60.2 L339.6,61.8 L342,63.4 L344.4,65.1 L346.8,66.9 L349.2,68.6 L351.7,70.4 L354.1,72.2 L354.1,72.2 L354.2,71.2 L354.4,69.9 L354.7,68.1 L355,66.5 L355.3,65.1 L355.9,62.9 L356.5,61.3 L356.9,60.6 L357.6,59.4 L358.3,58.5 L358.9,57.9 L360.1,57.2 L361.3,56.8 L362.5,57.4 L364.4,58.5 L366.2,59.6 L368.6,61.2 L371,62.9 L373.4,64.6 L375.8,66.3 L378.3,68 L380.7,69.8 L383.1,71.6 L383.1,71.6 L383.2,70.7 L383.4,69.4 L383.7,67.5 L384,65.9 L384.3,64.5 L384.9,62.4 L385.5,60.8 L385.9,60 L386.6,58.8 L387.3,57.9 L387.9,57.4 L389.2,56.7 L390.4,56.3 L391.6,56.9 L393.4,58 L395.2,59.2 L397.6,60.8 L400,62.5 L402.5,64.3 L404.9,66.1 L407.3,67.9 L409.7,69.7 L412.1,71.6 L412.1,71.6 L412.3,70.6 L412.4,69.4 L412.7,67.5 L413,66 L413.3,64.6 L413.9,62.5 L414.6,60.9 L414.9,60.2 L415.6,59 L416.4,58.1 L417,57.6 L418.2,56.9 L419.4,56.5 L420.6,57.1 L422.4,58.2 L424.2,59.4 L426.6,61 L429.1,62.6 L431.5,64.4 L433.9,66.1 L436.3,67.9 L438.7,69.7 L441.1,71.5 L441.2,71.5 L441.3,70.6 L441.5,69.2 L441.8,67.3 L442.1,65.7 L442.4,64.3 L443,62 L443.6,60.3 L443.9,59.5 L444.7,58.3 L445.4,57.4 L446,56.9 L447.2,56.2 L448.4,55.8 L449.6,56.4 L451.4,57.5 L453.3,58.7 L455.7,60.3 L458.1,61.9 L460.5,63.6 L462.9,65.3 L465.3,67.1 L467.8,68.9 L470.2,70.7 L470.2,70.7 L470.3,69.8 L470.5,68.6 L470.8,66.7 L471.1,65.1 L471.4,63.8 L472,61.6 L472.6,60 L473,59.3 L473.7,58.1 L474.4,57.3 L475,56.8 L476.2,56.1 L477.4,55.7 L478.6,56.3 L480.5,57.3 L482.3,57.8 L484.7,58.3 L487.1,59 L489.5,59.9 L492,62.3 L494.4,65.3 L496.8,68.3 L499.2,71 L501.6,73.2 L504,74.4 L506.5,75.3 L508.9,76.3 L511.3,77.6 L513.7,79.1 L516.1,80.6 L518.6,82.2 L521,83.8 L523.4,85.5 L525.8,87.1 L528.2,88.7 L530.7,90.3 L533.1,91.8 L535.5,93.4 L537.9,95 L540.3,96.6 L542.7,98.2 L545.2,99.8 L547.6,101.4 L550,103.1 L552.4,105 L554.8,107 L557.3,109 L559.7,111.2 L562.1,113.4 L564.5,115.6 L566.9,117.8 L569.4,119.8 L571.8,121.8 L574.2,123.7 L576.6,125.5 L576.6,432 L574.2,425.7 L571.8,419.2 L569.4,412.5 L566.9,405.5 L564.5,398.3 L562.1,390.9 L559.7,383.4 L557.3,375.7 L554.8,367.9 L552.4,359.9 L550,352.1 L547.6,344.4 L545.2,337.1 L542.7,329.9 L540.3,322.6 L537.9,315.4 L535.5,308.2 L533.1,301 L530.7,293.7 L528.2,286.5 L525.8,279.2 L523.4,272 L521,264.7 L518.6,257.2 L516.1,249.5 L513.7,242.2 L511.3,235.7 L508.9,230.2 L506.5,224.8 L504,219.9 L501.6,215.6 L499.2,212.3 L496.8,209.5 L494.4,206.5 L492,203.6 L489.5,201.1 L487.1,198.8 L484.7,197.3 L482.3,197.2 L480.5,197.7 L478.6,198.5 L477.4,199.1 L476.2,200 L475,201.2 L474.4,201.9 L473.7,203 L473,204.2 L472.6,204.9 L472,206.3 L471.4,207.9 L471.1,208.8 L470.8,209.8 L470.5,210.8 L470.3,211.5 L470.2,212 L470.2,211.9 L467.8,207.4 L465.3,203.7 L462.9,200.8 L460.5,198.7 L458.1,197.5 L455.7,197.1 L453.3,197.4 L451.4,197.9 L449.6,198.6 L448.4,199.3 L447.2,200.2 L446,201.5 L445.4,202.2 L444.7,203.3 L443.9,204.6 L443.6,205.4 L443,206.8 L442.4,208.5 L442.1,209.4 L441.8,210.4 L441.5,211.6 L441.3,212.3 L441.2,212.8 L441.1,212.7 L438.7,208.2 L436.3,204.4 L433.9,201.5 L431.5,199.4 L429.1,198.2 L426.6,197.8 L424.2,198.1 L422.4,198.6 L420.6,199.3 L419.4,200 L418.2,200.9 L417,202.2 L416.4,202.9 L415.6,204 L414.9,205.3 L414.6,206.1 L413.9,207.5 L413.3,209.2 L413,210.1 L412.7,211.1 L412.4,212.3 L412.3,213 L412.1,213.5 L412.1,213.4 L409.7,208.8 L407.3,205 L404.9,202 L402.5,199.9 L400,198.6 L397.6,198.2 L395.2,198.5 L393.4,199 L391.6,199.7 L390.4,200.4 L389.2,201.4 L387.9,202.6 L387.3,203.4 L386.6,204.5 L385.9,205.9 L385.5,206.6 L384.9,208.1 L384.3,209.8 L384,210.8 L383.7,211.8 L383.4,212.9 L383.2,213.7 L383.1,214.2 L383.1,214.1 L380.7,209.6 L378.3,205.9 L375.8,203.1 L373.4,201 L371,199.8 L368.6,199.4 L366.2,199.7 L364.4,200.2 L362.5,200.9 L361.3,201.6 L360.1,202.6 L358.9,203.8 L358.3,204.6 L357.6,205.7 L356.9,207.1 L356.5,207.8 L355.9,209.3 L355.3,211 L355,212 L354.7,213 L354.4,214.1 L354.2,214.9 L354.1,215.4 L354.1,215.3 L351.7,210.8 L349.2,207.1 L346.8,204.3 L344.4,202.2 L342,201 L339.6,200.6 L337.1,200.9 L335.3,201.4 L333.5,202.1 L332.3,202.8 L331.1,203.8 L329.9,205 L329.3,205.8 L328.6,206.9 L327.8,208.3 L327.5,209 L326.9,210.5 L326.3,212.2 L326,213.2 L325.7,214.2 L325.4,215.3 L325.2,216.1 L325.1,216.6 L325,216.5 L322.6,212.2 L320.2,208.7 L317.8,206 L315.4,204 L313,202.8 L310.5,202.5 L308.1,202.8 L306.3,203.3 L304.5,204 L303.3,204.7 L302.1,205.6 L300.9,206.9 L300.3,207.6 L299.5,208.7 L298.8,210 L298.4,210.8 L297.8,212.2 L297.2,213.9 L296.9,214.8 L296.6,215.8 L296.3,217 L296.2,217.7 L296,218.2 L296,218.1 L293.6,214.1 L291.2,210.7 L288.8,208.1 L286.4,206.2 L283.9,205.1 L281.5,204.8 L279.1,205.1 L277.3,205.6 L275.5,206.4 L274.3,207.1 L273.1,208.1 L271.8,209.4 L271.2,210.2 L270.5,211.3 L269.8,212.7 L269.4,213.5 L268.8,215 L268.2,216.8 L267.9,217.7 L267.6,218.8 L267.3,220 L267.1,220.7 L267,221.3 L267,221.2 L264.6,217.3 L262.2,214.1 L259.7,211.7 L257.3,209.9 L254.9,208.8 L252.5,208.5 L250.1,208.9 L248.3,209.5 L246.4,210.3 L245.2,211.2 L244,212.3 L242.8,213.8 L242.2,214.7 L241.5,216 L240.8,217.6 L240.4,218.5 L239.8,220.3 L239.2,222.3 L238.9,223.5 L238.6,224.7 L238.3,226.1 L238.1,226.9 L238,227.6 L238,227.5 L235.6,223.2 L233.1,219.7 L230.7,217 L228.3,215 L225.9,213.8 L223.5,213.5 L221,213.9 L219.2,214.5 L217.4,215.4 L216.2,216.3 L215,217.4 L213.8,219 L213.2,220 L212.5,221.3 L211.7,223 L211.4,224 L210.8,225.8 L210.2,227.9 L209.9,229.1 L209.6,230.5 L209.3,231.9 L209.1,232.8 L209,233.5 L208.9,233.4 L206.5,229.1 L204.1,225.6 L201.7,222.9 L199.3,220.9 L196.9,219.7 L194.4,219.4 L192,220 L190.2,220.7 L188.4,221.9 L187.2,223 L186,224.5 L184.8,226.5 L184.2,227.7 L183.4,229.5 L182.7,231.7 L182.3,233 L181.7,235.4 L181.1,238.2 L180.8,239.8 L180.5,241.6 L180.2,243.5 L180,244.8 L179.9,245.7 L179.9,245.6 L177.5,241.1 L175.1,237.3 L172.7,234.4 L170.3,232.3 L167.8,231.1 L165.4,230.7 L163,231.5 L161.2,232.6 L159.4,234.2 L158.2,235.8 L156.9,237.9 L155.7,240.8 L155.1,242.6 L154.4,245.3 L153.7,248.5 L153.3,250.4 L152.7,254 L152.1,258.3 L151.8,260.8 L151.5,263.5 L151.2,266.5 L151,268.5 L150.9,269.9 L150.9,269.8 L148.5,264.6 L146.1,260.3 L143.6,257 L141.2,254.6 L138.8,253.1 L136.4,252.7 L134,253.8 L132.2,255.3 L130.3,257.6 L129.1,259.9 L127.9,262.9 L126.7,267.1 L126.1,269.8 L125.4,273.7 L124.7,278.6 L124.3,281.4 L123.7,286.9 L123.1,293.7 L122.8,297.7 L122.5,302.2 L122.2,307.2 L122,310.5 L121.9,312.9 L121.9,312.8 L119.5,306.4 L117,301.1 L114.6,297 L112.2,294 L109.8,292.2 L107.4,291.7 L104.9,294.4 L103.1,297.8 L101.3,303.2 L100.1,308.7 L98.9,316.5 L97.7,327.9 L97.1,335.5 L96.4,347.4 L95.6,363.6 L95.3,374 L94.7,396.9 L94.1,431.8 L93.8,457.9 L93.5,496.2 L93.2,564 L93,656.3 L92.9,700Z" fill="#bcdfee"/>
<path d="M92.9,637.2 L93,473.4 L93.2,383 L93.5,318.1 L93.8,282.7 L94.1,259.3 L94.7,229.6 L95.3,211.4 L95.6,203.6 L96.4,192.4 L97.1,184.9 L97.7,180.5 L98.9,174.9 L100.1,171.6 L101.3,170.9 L103.1,172.2 L104.9,173.7 L107.4,175.9 L109.8,178.3 L112.2,180.8 L114.6,183.4 L117,186.1 L119.5,188.9 L121.9,191.8 L121.9,191.8 L122,187.5 L122.2,181.9 L122.5,173.9 L122.8,167.4 L123.1,162 L123.7,153.6 L124.3,147.7 L124.7,144.9 L125.4,140.7 L126.1,137.7 L126.7,135.9 L127.9,133.4 L129.1,132 L130.3,131.8 L132.2,132.9 L134,134.1 L136.4,135.9 L138.8,137.8 L141.2,139.8 L143.6,142 L146.1,144.2 L148.5,146.4 L150.9,148.8 L150.9,148.8 L151,146.3 L151.2,142.9 L151.5,138 L151.8,133.8 L152.1,130.4 L152.7,124.9 L153.3,120.8 L153.7,118.9 L154.4,116 L155.1,113.9 L155.7,112.6 L156.9,110.9 L158.2,109.9 L159.4,109.8 L161.2,110.7 L163,111.8 L165.4,113.3 L167.8,115 L170.3,116.8 L172.7,118.6 L175.1,120.6 L177.5,122.5 L179.9,124.6 L179.9,124.6 L180,123 L180.2,120.8 L180.5,117.7 L180.8,114.9 L181.1,112.6 L181.7,108.9 L182.3,106.2 L182.7,104.9 L183.4,102.8 L184.2,101.3 L184.8,100.4 L186,99.2 L187.2,98.5 L188.4,98.5 L190.2,99.3 L192,100.3 L194.4,101.8 L196.9,103.4 L199.3,105.1 L201.7,106.8 L204.1,108.6 L206.5,110.5 L208.9,112.4 L209,112.4 L209.1,111.2 L209.3,109.6 L209.6,107.2 L209.9,105.2 L210.2,103.4 L210.8,100.6 L211.4,98.5 L211.7,97.5 L212.5,95.9 L213.2,94.8 L213.8,94.1 L215,93.1 L216.2,92.6 L217.4,92.6 L219.2,93.4 L221,94.4 L223.5,95.9 L225.9,97.5 L228.3,99.2 L230.7,100.9 L233.1,102.7 L235.6,104.6 L238,106.5 L238,106.5 L238.1,105.4 L238.3,103.8 L238.6,101.6 L238.9,99.6 L239.2,98 L239.8,95.3 L240.4,93.2 L240.8,92.3 L241.5,90.8 L242.2,89.7 L242.8,89 L244,88.1 L245.2,87.6 L246.4,87.6 L248.3,88.3 L250.1,89.2 L252.5,90.6 L254.9,92 L257.3,93.5 L259.7,95.1 L262.2,96.8 L264.6,98.4 L267,100.2 L267,100.2 L267.1,99.2 L267.3,97.9 L267.6,96 L267.9,94.3 L268.2,92.9 L268.8,90.5 L269.4,88.8 L269.8,88 L270.5,86.6 L271.2,85.7 L271.8,85.1 L273.1,84.3 L274.3,83.8 L275.5,83.9 L277.3,84.7 L279.1,85.6 L281.5,87 L283.9,88.5 L286.4,90.1 L288.8,91.8 L291.2,93.5 L293.6,95.3 L296,97.1 L296,97.1 L296.2,96.2 L296.3,94.9 L296.6,93.1 L296.9,91.5 L297.2,90.1 L297.8,87.9 L298.4,86.3 L298.8,85.5 L299.5,84.2 L300.3,83.3 L300.9,82.7 L302.1,82 L303.3,81.5 L304.5,81.6 L306.3,82.4 L308.1,83.4 L310.5,84.9 L313,86.5 L315.4,88.2 L317.8,89.9 L320.2,91.7 L322.6,93.6 L325,95.5 L325.1,95.5 L325.2,94.6 L325.4,93.3 L325.7,91.4 L326,89.8 L326.3,88.4 L326.9,86.1 L327.5,84.4 L327.8,83.6 L328.6,82.3 L329.3,81.4 L329.9,80.9 L331.1,80.1 L332.3,79.6 L333.5,79.7 L335.3,80.6 L337.1,81.6 L339.6,83.2 L342,84.8 L344.4,86.6 L346.8,88.4 L349.2,90.3 L351.7,92.3 L354.1,94.3 L354.1,94.3 L354.2,93.4 L354.4,92.1 L354.7,90.2 L355,88.6 L355.3,87.2 L355.9,84.9 L356.5,83.2 L356.9,82.4 L357.6,81.1 L358.3,80.2 L358.9,79.7 L360.1,78.9 L361.3,78.4 L362.5,78.5 L364.4,79.4 L366.2,80.4 L368.6,82 L371,83.6 L373.4,85.4 L375.8,87.2 L378.3,89.1 L380.7,91.1 L383.1,93.1 L383.1,93.1 L383.2,92.2 L383.4,90.9 L383.7,89 L384,87.4 L384.3,86 L384.9,83.7 L385.5,82 L385.9,81.2 L386.6,79.9 L387.3,79 L387.9,78.5 L389.2,77.7 L390.4,77.2 L391.6,77.3 L393.4,78.2 L395.2,79.3 L397.6,80.9 L400,82.6 L402.5,84.4 L404.9,86.3 L407.3,88.3 L409.7,90.3 L412.1,92.4 L412.1,92.4 L412.3,91.5 L412.4,90.2 L412.7,88.4 L413,86.8 L413.3,85.4 L413.9,83.2 L414.6,81.6 L414.9,80.8 L415.6,79.5 L416.4,78.6 L417,78 L418.2,77.3 L419.4,76.8 L420.6,76.9 L422.4,77.8 L424.2,78.9 L426.6,80.4 L429.1,82.1 L431.5,83.9 L433.9,85.7 L436.3,87.7 L438.7,89.6 L441.1,91.7 L441.2,91.7 L441.3,90.8 L441.5,89.5 L441.8,87.7 L442.1,86.1 L442.4,84.7 L443,82.5 L443.6,80.9 L443.9,80.1 L444.7,78.8 L445.4,77.9 L446,77.3 L447.2,76.6 L448.4,76.1 L449.6,76.2 L451.4,77.1 L453.3,78.1 L455.7,79.7 L458.1,81.4 L460.5,83.1 L462.9,85 L465.3,86.9 L467.8,88.9 L470.2,90.9 L470.2,90.9 L470.3,90 L470.5,88.8 L470.8,87.1 L471.1,85.6 L471.4,84.3 L472,82.1 L472.6,80.6 L473,79.8 L473.7,78.6 L474.4,77.7 L475,77.2 L476.2,76.4 L477.4,76 L478.6,76.1 L480.5,76.9 L482.3,77.5 L484.7,78.1 L487.1,79 L489.5,80 L492,82.5 L494.4,85.4 L496.8,88.4 L499.2,91.2 L501.6,93.6 L504,95.4 L506.5,97.1 L508.9,98.7 L511.3,100.7 L513.7,102.7 L516.1,104.8 L518.6,106.9 L521,109.1 L523.4,111.3 L525.8,113.5 L528.2,115.7 L530.7,117.8 L533.1,120 L535.5,122.2 L537.9,124.3 L540.3,126.5 L542.7,128.7 L545.2,130.9 L547.6,133.1 L550,135.4 L552.4,137.8 L554.8,140.4 L557.3,143.1 L559.7,145.8 L562.1,148.6 L564.5,151.4 L566.9,154.1 L569.4,156.7 L571.8,159.3 L574.2,161.8 L576.6,164.2 L576.6,343.9 L574.2,338.7 L571.8,333.5 L569.4,328.1 L566.9,322.7 L564.5,317.2 L562.1,311.6 L559.7,306 L557.3,300.5 L554.8,295 L552.4,289.6 L550,284.3 L547.6,279.2 L545.2,274.2 L542.7,269.3 L540.3,264.3 L537.9,259.4 L535.5,254.5 L533.1,249.5 L530.7,244.5 L528.2,239.5 L525.8,234.5 L523.4,229.5 L521,224.5 L518.6,219.5 L516.1,214.5 L513.7,209.7 L511.3,204.9 L508.9,200 L506.5,194.7 L504,189.5 L501.6,184.9 L499.2,181.4 L496.8,178.6 L494.4,175.6 L492,172.7 L489.5,170.3 L487.1,168.1 L484.7,166.5 L482.3,166.2 L480.5,166.6 L478.6,167.2 L477.4,167.8 L476.2,168.6 L475,169.7 L474.4,170.4 L473.7,171.5 L473,172.7 L472.6,173.5 L472,174.9 L471.4,176.6 L471.1,177.6 L470.8,178.6 L470.5,179.8 L470.3,180.6 L470.2,181.1 L470.2,181.1 L467.8,177.2 L465.3,173.9 L462.9,171.1 L460.5,168.9 L458.1,167.3 L455.7,166.3 L453.3,166.4 L451.4,166.7 L449.6,167.3 L448.4,167.9 L447.2,168.8 L446,170 L445.4,170.7 L444.7,171.8 L443.9,173.1 L443.6,173.9 L443,175.4 L442.4,177.2 L442.1,178.2 L441.8,179.3 L441.5,180.5 L441.3,181.3 L441.2,181.9 L441.1,181.9 L438.7,178 L436.3,174.6 L433.9,171.8 L431.5,169.6 L429.1,168 L426.6,167 L424.2,167.1 L422.4,167.4 L420.6,168 L419.4,168.6 L418.2,169.5 L417,170.7 L416.4,171.4 L415.6,172.5 L414.9,173.8 L414.6,174.6 L413.9,176.1 L413.3,177.9 L413,178.9 L412.7,180 L412.4,181.2 L412.3,182 L412.1,182.6 L412.1,182.6 L409.7,178.6 L407.3,175.2 L404.9,172.3 L402.5,170 L400,168.4 L397.6,167.4 L395.2,167.5 L393.4,167.8 L391.6,168.5 L390.4,169.1 L389.2,169.9 L387.9,171.1 L387.3,171.9 L386.6,173 L385.9,174.4 L385.5,175.2 L384.9,176.7 L384.3,178.5 L384,179.5 L383.7,180.7 L383.4,181.9 L383.2,182.7 L383.1,183.3 L383.1,183.3 L380.7,179.4 L378.3,176.1 L375.8,173.3 L373.4,171.1 L371,169.5 L368.6,168.6 L366.2,168.7 L364.4,169 L362.5,169.7 L361.3,170.3 L360.1,171.1 L358.9,172.3 L358.3,173.1 L357.6,174.2 L356.9,175.6 L356.5,176.4 L355.9,177.9 L355.3,179.7 L355,180.7 L354.7,181.9 L354.4,183.1 L354.2,183.9 L354.1,184.5 L354.1,184.5 L351.7,180.6 L349.2,177.3 L346.8,174.5 L344.4,172.3 L342,170.7 L339.6,169.8 L337.1,169.9 L335.3,170.2 L333.5,170.9 L332.3,171.5 L331.1,172.3 L329.9,173.5 L329.3,174.3 L328.6,175.4 L327.8,176.8 L327.5,177.6 L326.9,179.1 L326.3,180.9 L326,181.9 L325.7,183.1 L325.4,184.3 L325.2,185.1 L325.1,185.7 L325,185.7 L322.6,182 L320.2,178.9 L317.8,176.2 L315.4,174.1 L313,172.6 L310.5,171.7 L308.1,171.8 L306.3,172.1 L304.5,172.7 L303.3,173.3 L302.1,174.2 L300.9,175.4 L300.3,176.1 L299.5,177.2 L298.8,178.5 L298.4,179.3 L297.8,180.8 L297.2,182.6 L296.9,183.6 L296.6,184.7 L296.3,185.9 L296.2,186.7 L296,187.3 L296,187.3 L293.6,183.8 L291.2,180.8 L288.8,178.3 L286.4,176.3 L283.9,174.8 L281.5,174 L279.1,174.1 L277.3,174.5 L275.5,175.1 L274.3,175.7 L273.1,176.6 L271.8,177.8 L271.2,178.6 L270.5,179.8 L269.8,181.2 L269.4,182 L268.8,183.6 L268.2,185.4 L267.9,186.5 L267.6,187.7 L267.3,189 L267.1,189.8 L267,190.4 L267,190.4 L264.6,187.1 L262.2,184.2 L259.7,181.8 L257.3,179.9 L254.9,178.5 L252.5,177.7 L250.1,177.8 L248.3,178.2 L246.4,179 L245.2,179.7 L244,180.7 L242.8,182.1 L242.2,183 L241.5,184.3 L240.8,186 L240.4,186.9 L239.8,188.7 L239.2,190.9 L238.9,192.2 L238.6,193.5 L238.3,195 L238.1,196 L238,196.7 L238,196.7 L235.6,193 L233.1,189.9 L230.7,187.2 L228.3,185.1 L225.9,183.6 L223.5,182.7 L221,182.8 L219.2,183.3 L217.4,184 L216.2,184.8 L215,185.8 L213.8,187.3 L213.2,188.3 L212.5,189.6 L211.7,191.3 L211.4,192.3 L210.8,194.2 L210.2,196.5 L209.9,197.8 L209.6,199.3 L209.3,200.8 L209.1,201.9 L209,202.6 L208.9,202.6 L206.5,198.9 L204.1,195.8 L201.7,193.1 L199.3,191 L196.9,189.5 L194.4,188.6 L192,188.8 L190.2,189.3 L188.4,190.3 L187.2,191.3 L186,192.7 L184.8,194.6 L184.2,195.8 L183.4,197.6 L182.7,199.8 L182.3,201.1 L181.7,203.6 L181.1,206.6 L180.8,208.4 L180.5,210.3 L180.2,212.4 L180,213.8 L179.9,214.8 L179.9,214.8 L177.5,210.9 L175.1,207.5 L172.7,204.7 L170.3,202.5 L167.8,200.9 L165.4,199.9 L163,200.2 L161.2,201 L159.4,202.4 L158.2,203.7 L156.9,205.7 L155.7,208.4 L155.1,210.2 L154.4,212.8 L153.7,216 L153.3,217.9 L152.7,221.7 L152.1,226.3 L151.8,228.9 L151.5,231.9 L151.2,235.3 L151,237.4 L150.9,239 L150.9,239 L148.5,234.5 L146.1,230.7 L143.6,227.4 L141.2,224.9 L138.8,223 L136.4,222 L134,222.3 L132.2,223.5 L130.3,225.4 L129.1,227.4 L127.9,230.1 L126.7,234.1 L126.1,236.6 L125.4,240.5 L124.7,245.3 L124.3,248.2 L123.7,253.9 L123.1,261.1 L122.8,265.3 L122.5,270.2 L122.2,275.7 L122,279.4 L121.9,282 L121.9,282 L119.5,276.5 L117,271.7 L114.6,267.7 L112.2,264.6 L109.8,262.3 L107.4,261 L104.9,262 L103.1,264.7 L101.3,269.2 L100.1,273.9 L98.9,280.7 L97.7,291 L97.1,298.1 L96.4,309.2 L95.6,324.5 L95.3,334.4 L94.7,356.6 L94.1,390.6 L93.8,416.3 L93.5,454.1 L93.2,521.5 L93,613.5 L92.9,700Z" fill="#92c8e2"/>
<path d="M92.9,657.2 L93,493.3 L93.2,402.7 L93.5,337.4 L93.8,301.8 L94.1,278.1 L94.7,247.8 L95.3,229.2 L95.6,221.2 L96.4,209.5 L97.1,201.6 L97.7,196.9 L98.9,190.7 L100.1,187.2 L101.3,185.1 L103.1,186 L104.9,187.3 L107.4,189.4 L109.8,191.8 L112.2,194.3 L114.6,197.1 L117,200 L119.5,203.1 L121.9,206.2 L121.9,206.3 L122,202.2 L122.2,196.8 L122.5,189.1 L122.8,182.8 L123.1,177.5 L123.7,169.3 L124.3,163.3 L124.7,160.5 L125.4,156.1 L126.1,153 L126.7,151.1 L127.9,148.5 L129.1,147 L130.3,146.1 L132.2,146.8 L134,147.9 L136.4,149.6 L138.8,151.5 L141.2,153.6 L143.6,155.8 L146.1,158.2 L148.5,160.7 L150.9,163.2 L150.9,163.3 L151,160.9 L151.2,157.6 L151.5,152.9 L151.8,148.9 L152.1,145.5 L152.7,140.1 L153.3,136.1 L153.7,134.2 L154.4,131.2 L155.1,129 L155.7,127.7 L156.9,125.8 L158.2,124.7 L159.4,124.1 L161.2,124.7 L163,125.6 L165.4,127.1 L167.8,128.8 L170.3,130.6 L172.7,132.6 L175.1,134.6 L177.5,136.8 L179.9,139.1 L179.9,139.1 L180,137.6 L180.2,135.5 L180.5,132.4 L180.8,129.8 L181.1,127.6 L181.7,123.9 L182.3,121.2 L182.7,119.9 L183.4,117.8 L184.2,116.3 L184.8,115.3 L186,114 L187.2,113.2 L188.4,112.8 L190.2,113.4 L192,114.2 L194.4,115.6 L196.9,117.2 L199.3,118.9 L201.7,120.8 L204.1,122.7 L206.5,124.7 L208.9,126.9 L209,126.9 L209.1,125.8 L209.3,124.2 L209.6,121.9 L209.9,120 L210.2,118.3 L210.8,115.5 L211.4,113.4 L211.7,112.4 L212.5,110.8 L213.2,109.6 L213.8,108.9 L215,107.8 L216.2,107.2 L217.4,106.9 L219.2,107.5 L221,108.3 L223.5,109.7 L225.9,111.3 L228.3,113 L230.7,114.9 L233.1,116.8 L235.6,118.8 L238,121 L238,121 L238.1,119.9 L238.3,118.5 L238.6,116.3 L238.9,114.4 L239.2,112.8 L239.8,110.1 L240.4,108.1 L240.8,107.1 L241.5,105.6 L242.2,104.5 L242.8,103.8 L244,102.8 L245.2,102.2 L246.4,101.9 L248.3,102.4 L250.1,103.2 L252.5,104.5 L254.9,105.9 L257.3,107.5 L259.7,109.1 L262.2,110.9 L264.6,112.7 L267,114.7 L267,114.7 L267.1,113.8 L267.3,112.5 L267.6,110.7 L267.9,109 L268.2,107.6 L268.8,105.4 L269.4,103.6 L269.8,102.8 L270.5,101.4 L271.2,100.4 L271.8,99.8 L273.1,99 L274.3,98.5 L275.5,98.2 L277.3,98.7 L279.1,99.6 L281.5,100.9 L283.9,102.4 L286.4,104 L288.8,105.8 L291.2,107.6 L293.6,109.6 L296,111.6 L296,111.6 L296.2,110.7 L296.3,109.5 L296.6,107.8 L296.9,106.2 L297.2,104.9 L297.8,102.7 L298.4,101.1 L298.8,100.3 L299.5,99 L300.3,98 L300.9,97.5 L302.1,96.6 L303.3,96.2 L304.5,95.9 L306.3,96.5 L308.1,97.3 L310.5,98.7 L313,100.3 L315.4,102 L317.8,103.9 L320.2,105.8 L322.6,107.8 L325,110 L325.1,110 L325.2,109.1 L325.4,107.9 L325.7,106.1 L326,104.5 L326.3,103.2 L326.9,101 L327.5,99.3 L327.8,98.4 L328.6,97.1 L329.3,96.2 L329.9,95.6 L331.1,94.8 L332.3,94.3 L333.5,94 L335.3,94.6 L337.1,95.5 L339.6,97 L342,98.6 L344.4,100.4 L346.8,102.4 L349.2,104.4 L351.7,106.5 L354.1,108.8 L354.1,108.8 L354.2,107.9 L354.4,106.7 L354.7,104.9 L355,103.3 L355.3,102 L355.9,99.8 L356.5,98.1 L356.9,97.2 L357.6,95.9 L358.3,95 L358.9,94.4 L360.1,93.6 L361.3,93.1 L362.5,92.8 L364.4,93.4 L366.2,94.3 L368.6,95.8 L371,97.4 L373.4,99.2 L375.8,101.2 L378.3,103.2 L380.7,105.3 L383.1,107.6 L383.1,107.6 L383.2,106.7 L383.4,105.5 L383.7,103.7 L384,102.1 L384.3,100.8 L384.9,98.6 L385.5,96.9 L385.9,96 L386.6,94.7 L387.3,93.8 L387.9,93.2 L389.2,92.4 L390.4,91.9 L391.6,91.6 L393.4,92.2 L395.2,93.2 L397.6,94.7 L400,96.4 L402.5,98.3 L404.9,100.3 L407.3,102.4 L409.7,104.6 L412.1,106.9 L412.1,106.9 L412.3,106 L412.4,104.8 L412.7,103.1 L413,101.5 L413.3,100.2 L413.9,98 L414.6,96.4 L414.9,95.6 L415.6,94.3 L416.4,93.3 L417,92.8 L418.2,91.9 L419.4,91.5 L420.6,91.2 L422.4,91.8 L424.2,92.7 L426.6,94.2 L429.1,95.9 L431.5,97.7 L433.9,99.7 L436.3,101.7 L438.7,103.9 L441.1,106.2 L441.2,106.2 L441.3,105.3 L441.5,104.1 L441.8,102.4 L442.1,100.8 L442.4,99.5 L443,97.3 L443.6,95.7 L443.9,94.9 L444.7,93.6 L445.4,92.6 L446,92.1 L447.2,91.2 L448.4,90.8 L449.6,90.5 L451.4,91.1 L453.3,92 L455.7,93.5 L458.1,95.2 L460.5,97 L462.9,98.9 L465.3,101 L467.8,103.1 L470.2,105.4 L470.2,105.4 L470.3,104.6 L470.5,103.4 L470.8,101.7 L471.1,100.3 L471.4,99 L472,96.9 L472.6,95.3 L473,94.6 L473.7,93.3 L474.4,92.5 L475,91.9 L476.2,91.1 L477.4,90.6 L478.6,90.4 L480.5,91 L482.3,91.5 L484.7,92.3 L487.1,93.3 L489.5,94.5 L492,97 L494.4,99.9 L496.8,102.9 L499.2,105.7 L501.6,108.1 L504,110.2 L506.5,112.1 L508.9,114 L511.3,116.2 L513.7,118.6 L516.1,120.9 L518.6,123.4 L521,125.9 L523.4,128.4 L525.8,130.8 L528.2,133.3 L530.7,135.7 L533.1,138.2 L535.5,140.6 L537.9,143 L540.3,145.4 L542.7,147.8 L545.2,150.1 L547.6,152.6 L550,155.2 L552.4,157.9 L554.8,160.8 L557.3,163.7 L559.7,166.6 L562.1,169.7 L564.5,172.7 L566.9,175.7 L569.4,178.5 L571.8,181.2 L574.2,183.9 L576.6,186.5 L576.6,304.2 L574.2,299.8 L571.8,295.3 L569.4,290.7 L566.9,286 L564.5,281.2 L562.1,276.3 L559.7,271.4 L557.3,266.6 L554.8,261.8 L552.4,257.1 L550,252.6 L547.6,248.2 L545.2,243.9 L542.7,239.7 L540.3,235.5 L537.9,231.3 L535.5,227.1 L533.1,222.9 L530.7,218.6 L528.2,214.3 L525.8,210 L523.4,205.7 L521,201.4 L518.6,197.1 L516.1,192.9 L513.7,188.7 L511.3,184.6 L508.9,180.4 L506.5,176.1 L504,171.9 L501.6,168 L499.2,164.8 L496.8,162 L494.4,159 L492,156.1 L489.5,153.6 L487.1,151.7 L484.7,150.1 L482.3,149.5 L480.5,149.7 L478.6,150.3 L477.4,150.8 L476.2,151.5 L475,152.6 L474.4,153.3 L473.7,154.3 L473,155.6 L472.6,156.3 L472,157.8 L471.4,159.6 L471.1,160.6 L470.8,161.8 L470.5,163.1 L470.3,163.9 L470.2,164.5 L470.2,164.5 L467.8,161 L465.3,158 L462.9,155.3 L460.5,153.1 L458.1,151.3 L455.7,150.1 L453.3,149.6 L451.4,149.9 L449.6,150.4 L448.4,150.9 L447.2,151.7 L446,152.8 L445.4,153.5 L444.7,154.6 L443.9,155.9 L443.6,156.7 L443,158.3 L442.4,160.2 L442.1,161.3 L441.8,162.5 L441.5,163.8 L441.3,164.7 L441.2,165.3 L441.1,165.3 L438.7,161.8 L436.3,158.7 L433.9,156.1 L431.5,153.8 L429.1,152.1 L426.6,150.8 L424.2,150.3 L422.4,150.6 L420.6,151.1 L419.4,151.6 L418.2,152.4 L417,153.5 L416.4,154.2 L415.6,155.3 L414.9,156.6 L414.6,157.4 L413.9,159 L413.3,160.9 L413,162 L412.7,163.2 L412.4,164.5 L412.3,165.4 L412.1,166 L412.1,166 L409.7,162.4 L407.3,159.3 L404.9,156.6 L402.5,154.3 L400,152.5 L397.6,151.2 L395.2,150.7 L393.4,151 L391.6,151.5 L390.4,152 L389.2,152.8 L387.9,154 L387.3,154.7 L386.6,155.8 L385.9,157.2 L385.5,158 L384.9,159.5 L384.3,161.5 L384,162.6 L383.7,163.8 L383.4,165.2 L383.2,166.1 L383.1,166.7 L383.1,166.7 L380.7,163.3 L378.3,160.2 L375.8,157.6 L373.4,155.4 L371,153.6 L368.6,152.4 L366.2,151.9 L364.4,152.2 L362.5,152.7 L361.3,153.2 L360.1,154 L358.9,155.2 L358.3,155.9 L357.6,157 L356.9,158.4 L356.5,159.2 L355.9,160.7 L355.3,162.7 L355,163.8 L354.7,165 L354.4,166.4 L354.2,167.3 L354.1,167.9 L354.1,167.9 L351.7,164.5 L349.2,161.4 L346.8,158.8 L344.4,156.6 L342,154.8 L339.6,153.6 L337.1,153.1 L335.3,153.4 L333.5,153.9 L332.3,154.4 L331.1,155.2 L329.9,156.4 L329.3,157.1 L328.6,158.2 L327.8,159.6 L327.5,160.4 L326.9,161.9 L326.3,163.9 L326,165 L325.7,166.2 L325.4,167.6 L325.2,168.5 L325.1,169.1 L325,169.1 L322.6,165.8 L320.2,162.9 L317.8,160.4 L315.4,158.3 L313,156.7 L310.5,155.5 L308.1,155 L306.3,155.3 L304.5,155.8 L303.3,156.3 L302.1,157.1 L300.9,158.2 L300.3,158.9 L299.5,160 L298.8,161.3 L298.4,162.1 L297.8,163.7 L297.2,165.6 L296.9,166.7 L296.6,167.9 L296.3,169.2 L296.2,170.1 L296,170.7 L296,170.7 L293.6,167.6 L291.2,164.8 L288.8,162.5 L286.4,160.4 L283.9,158.9 L281.5,157.8 L279.1,157.3 L277.3,157.6 L275.5,158.1 L274.3,158.7 L273.1,159.5 L271.8,160.6 L271.2,161.4 L270.5,162.5 L269.8,163.9 L269.4,164.8 L268.8,166.4 L268.2,168.4 L267.9,169.5 L267.6,170.8 L267.3,172.2 L267.1,173.1 L267,173.8 L267,173.8 L264.6,170.8 L262.2,168.2 L259.7,165.9 L257.3,164 L254.9,162.5 L252.5,161.4 L250.1,161 L248.3,161.3 L246.4,161.9 L245.2,162.6 L244,163.5 L242.8,164.8 L242.2,165.7 L241.5,167 L240.8,168.6 L240.4,169.6 L239.8,171.5 L239.2,173.8 L238.9,175.1 L238.6,176.6 L238.3,178.2 L238.1,179.3 L238,180.1 L238,180.1 L235.6,176.8 L233.1,173.9 L230.7,171.4 L228.3,169.3 L225.9,167.7 L223.5,166.5 L221,166 L219.2,166.3 L217.4,167 L216.2,167.7 L215,168.6 L213.8,170 L213.2,170.9 L212.5,172.3 L211.7,174 L211.4,175 L210.8,177 L210.2,179.4 L209.9,180.8 L209.6,182.3 L209.3,184.1 L209.1,185.2 L209,186 L208.9,186 L206.5,182.7 L204.1,179.8 L201.7,177.3 L199.3,175.2 L196.9,173.6 L194.4,172.4 L192,171.9 L190.2,172.4 L188.4,173.2 L187.2,174 L186,175.3 L184.8,177.1 L184.2,178.2 L183.4,180 L182.7,182.2 L182.3,183.5 L181.7,186.1 L181.1,189.3 L180.8,191.2 L180.5,193.3 L180.2,195.6 L180,197.1 L179.9,198.2 L179.9,198.2 L177.5,194.7 L175.1,191.6 L172.7,189 L170.3,186.7 L167.8,185 L165.4,183.7 L163,183.2 L161.2,183.8 L159.4,185 L158.2,186.2 L156.9,188 L155.7,190.5 L155.1,192.2 L154.4,194.8 L153.7,198 L153.3,200 L152.7,203.8 L152.1,208.6 L151.8,211.4 L151.5,214.6 L151.2,218.3 L151,220.7 L150.9,222.4 L150.9,222.4 L148.5,218.4 L146.1,214.9 L143.6,211.8 L141.2,209.2 L138.8,207.2 L136.4,205.8 L134,205.2 L132.2,206.1 L130.3,207.7 L129.1,209.4 L127.9,211.9 L126.7,215.6 L126.1,218.1 L125.4,221.8 L124.7,226.6 L124.3,229.5 L123.7,235.3 L123.1,242.8 L122.8,247.3 L122.5,252.5 L122.2,258.4 L122,262.5 L121.9,265.4 L121.9,265.3 L119.5,260.5 L117,256.1 L114.6,252.4 L112.2,249.2 L109.8,246.7 L107.4,245 L104.9,244.2 L103.1,246.3 L101.3,250.1 L100.1,254.1 L98.9,260.2 L97.7,269.5 L97.1,276 L96.4,286.4 L95.6,301 L95.3,310.6 L94.7,332 L94.1,365.3 L93.8,390.6 L93.5,427.9 L93.2,494.9 L93,586.6 L92.9,700Z" fill="#68b2d6"/>
<path d="M92.9,673.4 L93,509.4 L93.2,418.5 L93.5,353 L93.8,317.1 L94.1,293.1 L94.7,262.4 L95.3,243.3 L95.6,235 L96.4,222.9 L97.1,214.6 L97.7,209.7 L98.9,203 L100.1,199.1 L101.3,196.8 L103.1,196.4 L104.9,197.5 L107.4,199.4 L109.8,201.7 L112.2,204.4 L114.6,207.2 L117,210.4 L119.5,213.7 L121.9,217.2 L121.9,217.2 L122,213.3 L122.2,208.1 L122.5,200.7 L122.8,194.6 L123.1,189.4 L123.7,181.3 L124.3,175.3 L124.7,172.5 L125.4,168 L126.1,164.8 L126.7,162.8 L127.9,160 L129.1,158.4 L130.3,157.3 L132.2,157.3 L134,158.2 L136.4,159.8 L138.8,161.7 L141.2,163.8 L143.6,166.1 L146.1,168.6 L148.5,171.3 L150.9,174.2 L150.9,174.2 L151,171.9 L151.2,168.8 L151.5,164.3 L151.8,160.4 L152.1,157.1 L152.7,151.8 L153.3,147.7 L153.7,145.8 L154.4,142.8 L155.1,140.5 L155.7,139.1 L156.9,137.2 L158.2,136 L159.4,135.2 L161.2,135.3 L163,136.1 L165.4,137.4 L167.8,139.1 L170.3,140.9 L172.7,142.9 L175.1,145.2 L177.5,147.5 L179.9,150 L179.9,150 L180,148.6 L180.2,146.6 L180.5,143.7 L180.8,141.1 L181.1,138.9 L181.7,135.3 L182.3,132.6 L182.7,131.3 L183.4,129.2 L184.2,127.6 L184.8,126.6 L186,125.2 L187.2,124.4 L188.4,123.9 L190.2,124 L192,124.7 L194.4,126 L196.9,127.5 L199.3,129.3 L201.7,131.2 L204.1,133.2 L206.5,135.4 L208.9,137.8 L209,137.8 L209.1,136.7 L209.3,135.3 L209.6,133.1 L209.9,131.2 L210.2,129.5 L210.8,126.8 L211.4,124.7 L211.7,123.7 L212.5,122 L213.2,120.8 L213.8,120.1 L215,119 L216.2,118.3 L217.4,117.9 L219.2,118.1 L221,118.8 L223.5,120.1 L225.9,121.6 L228.3,123.4 L230.7,125.3 L233.1,127.3 L235.6,129.5 L238,131.9 L238,131.9 L238.1,130.9 L238.3,129.5 L238.6,127.4 L238.9,125.6 L239.2,124 L239.8,121.4 L240.4,119.4 L240.8,118.4 L241.5,116.9 L242.2,115.7 L242.8,115 L244,113.9 L245.2,113.3 L246.4,112.9 L248.3,113 L250.1,113.7 L252.5,114.9 L254.9,116.3 L257.3,117.8 L259.7,119.6 L262.2,121.5 L264.6,123.5 L267,125.6 L267,125.6 L267.1,124.7 L267.3,123.5 L267.6,121.8 L267.9,120.2 L268.2,118.8 L268.8,116.6 L269.4,114.9 L269.8,114 L270.5,112.6 L271.2,111.6 L271.8,111 L273.1,110.1 L274.3,109.5 L275.5,109.2 L277.3,109.3 L279.1,110 L281.5,111.3 L283.9,112.7 L286.4,114.4 L288.8,116.2 L291.2,118.2 L293.6,120.3 L296,122.5 L296,122.5 L296.2,121.7 L296.3,120.5 L296.6,118.9 L296.9,117.4 L297.2,116.1 L297.8,113.9 L298.4,112.3 L298.8,111.5 L299.5,110.2 L300.3,109.2 L300.9,108.6 L302.1,107.8 L303.3,107.2 L304.5,106.9 L306.3,107.1 L308.1,107.8 L310.5,109.1 L313,110.6 L315.4,112.4 L317.8,114.3 L320.2,116.3 L322.6,118.5 L325,120.9 L325.1,120.9 L325.2,120.1 L325.4,118.9 L325.7,117.2 L326,115.7 L326.3,114.3 L326.9,112.2 L327.5,110.5 L327.8,109.7 L328.6,108.3 L329.3,107.4 L329.9,106.7 L331.1,105.9 L332.3,105.3 L333.5,105 L335.3,105.2 L337.1,105.9 L339.6,107.3 L342,108.9 L344.4,110.7 L346.8,112.7 L349.2,114.9 L351.7,117.2 L354.1,119.7 L354.1,119.7 L354.2,118.9 L354.4,117.7 L354.7,116 L355,114.5 L355.3,113.1 L355.9,111 L356.5,109.3 L356.9,108.5 L357.6,107.1 L358.3,106.2 L358.9,105.5 L360.1,104.7 L361.3,104.1 L362.5,103.8 L364.4,104 L366.2,104.7 L368.6,106.1 L371,107.7 L373.4,109.5 L375.8,111.5 L378.3,113.7 L380.7,116 L383.1,118.5 L383.1,118.5 L383.2,117.7 L383.4,116.5 L383.7,114.8 L384,113.3 L384.3,111.9 L384.9,109.8 L385.5,108.1 L385.9,107.3 L386.6,105.9 L387.3,105 L387.9,104.3 L389.2,103.5 L390.4,102.9 L391.6,102.6 L393.4,102.8 L395.2,103.6 L397.6,105 L400,106.6 L402.5,108.5 L404.9,110.6 L407.3,112.9 L409.7,115.3 L412.1,117.8 L412.1,117.8 L412.3,117 L412.4,115.8 L412.7,114.2 L413,112.7 L413.3,111.4 L413.9,109.2 L414.6,107.6 L414.9,106.8 L415.6,105.5 L416.4,104.5 L417,103.9 L418.2,103.1 L419.4,102.5 L420.6,102.2 L422.4,102.4 L424.2,103.2 L426.6,104.5 L429.1,106.2 L431.5,108 L433.9,110 L436.3,112.3 L438.7,114.6 L441.1,117.1 L441.2,117.1 L441.3,116.3 L441.5,115.1 L441.8,113.5 L442.1,112 L442.4,110.7 L443,108.5 L443.6,106.9 L443.9,106.1 L444.7,104.8 L445.4,103.8 L446,103.2 L447.2,102.4 L448.4,101.8 L449.6,101.5 L451.4,101.7 L453.3,102.4 L455.7,103.8 L458.1,105.4 L460.5,107.3 L462.9,109.3 L465.3,111.5 L467.8,113.8 L470.2,116.3 L470.2,116.3 L470.3,115.5 L470.5,114.4 L470.8,112.8 L471.1,111.4 L471.4,110.2 L472,108.1 L472.6,106.6 L473,105.8 L473.7,104.5 L474.4,103.6 L475,103 L476.2,102.2 L477.4,101.7 L478.6,101.4 L480.5,101.6 L482.3,102.1 L484.7,102.9 L487.1,104.1 L489.5,105.4 L492,107.9 L494.4,110.8 L496.8,113.8 L499.2,116.6 L501.6,119.2 L504,121.5 L506.5,123.7 L508.9,126 L511.3,128.5 L513.7,131 L516.1,133.7 L518.6,136.4 L521,139.1 L523.4,141.9 L525.8,144.6 L528.2,147.3 L530.7,150 L533.1,152.7 L535.5,155.4 L537.9,158.1 L540.3,160.8 L542.7,163.4 L545.2,166.1 L547.6,168.8 L550,171.6 L552.4,174.5 L554.8,177.6 L557.3,180.7 L559.7,183.9 L562.1,187.2 L564.5,190.6 L566.9,193.8 L569.4,197 L571.8,200 L574.2,203 L576.6,206 L576.6,272.4 L574.2,268.6 L571.8,264.6 L569.4,260.7 L566.9,256.6 L564.5,252.4 L562.1,248.1 L559.7,243.9 L557.3,239.8 L554.8,235.7 L552.4,231.7 L550,227.8 L547.6,224 L545.2,220.4 L542.7,216.9 L540.3,213.3 L537.9,209.7 L535.5,206.1 L533.1,202.6 L530.7,199 L528.2,195.3 L525.8,191.7 L523.4,188.1 L521,184.5 L518.6,180.8 L516.1,177.2 L513.7,173.7 L511.3,170.2 L508.9,166.8 L506.5,163.3 L504,159.8 L501.6,156.6 L499.2,153.6 L496.8,150.9 L494.4,147.9 L492,144.9 L489.5,142.5 L487.1,140.7 L484.7,139.1 L482.3,138.3 L480.5,138.5 L478.6,138.9 L477.4,139.4 L476.2,140.1 L475,141.1 L474.4,141.7 L473.7,142.7 L473,144 L472.6,144.8 L472,146.3 L471.4,148.2 L471.1,149.2 L470.8,150.5 L470.5,151.8 L470.3,152.7 L470.2,153.3 L470.2,153.3 L467.8,150.2 L465.3,147.3 L462.9,144.8 L460.5,142.5 L458.1,140.7 L455.7,139.3 L453.3,138.5 L451.4,138.6 L449.6,139 L448.4,139.5 L447.2,140.2 L446,141.3 L445.4,142 L444.7,143 L443.9,144.4 L443.6,145.2 L443,146.8 L442.4,148.7 L442.1,149.8 L441.8,151.1 L441.5,152.5 L441.3,153.5 L441.2,154.1 L441.1,154.1 L438.7,150.9 L436.3,148.1 L433.9,145.5 L431.5,143.3 L429.1,141.4 L426.6,140 L424.2,139.2 L422.4,139.3 L420.6,139.7 L419.4,140.2 L418.2,140.9 L417,142 L416.4,142.7 L415.6,143.7 L414.9,145.1 L414.6,145.9 L413.9,147.5 L413.3,149.4 L413,150.5 L412.7,151.8 L412.4,153.2 L412.3,154.2 L412.1,154.8 L412.1,154.8 L409.7,151.6 L407.3,148.6 L404.9,146 L402.5,143.8 L400,141.9 L397.6,140.4 L395.2,139.6 L393.4,139.7 L391.6,140.2 L390.4,140.6 L389.2,141.4 L387.9,142.4 L387.3,143.1 L386.6,144.2 L385.9,145.6 L385.5,146.4 L384.9,148 L384.3,150 L384,151.2 L383.7,152.5 L383.4,153.9 L383.2,154.8 L383.1,155.5 L383.1,155.5 L380.7,152.4 L378.3,149.5 L375.8,147 L373.4,144.8 L371,143 L368.6,141.6 L366.2,140.8 L364.4,140.9 L362.5,141.4 L361.3,141.8 L360.1,142.6 L358.9,143.6 L358.3,144.3 L357.6,145.4 L356.9,146.8 L356.5,147.6 L355.9,149.2 L355.3,151.2 L355,152.4 L354.7,153.7 L354.4,155.1 L354.2,156 L354.1,156.7 L354.1,156.7 L351.7,153.6 L349.2,150.7 L346.8,148.2 L344.4,146 L342,144.2 L339.6,142.8 L337.1,142 L335.3,142.1 L333.5,142.6 L332.3,143 L331.1,143.8 L329.9,144.8 L329.3,145.5 L328.6,146.6 L327.8,148 L327.5,148.8 L326.9,150.4 L326.3,152.4 L326,153.6 L325.7,154.9 L325.4,156.3 L325.2,157.2 L325.1,157.9 L325,157.9 L322.6,154.9 L320.2,152.2 L317.8,149.8 L315.4,147.7 L313,146 L310.5,144.7 L308.1,143.9 L306.3,144 L304.5,144.4 L303.3,144.9 L302.1,145.6 L300.9,146.7 L300.3,147.4 L299.5,148.4 L298.8,149.8 L298.4,150.6 L297.8,152.2 L297.2,154.1 L296.9,155.2 L296.6,156.5 L296.3,157.9 L296.2,158.9 L296,159.5 L296,159.5 L293.6,156.7 L291.2,154.1 L288.8,151.8 L286.4,149.8 L283.9,148.2 L281.5,146.9 L279.1,146.2 L277.3,146.3 L275.5,146.8 L274.3,147.3 L273.1,148 L271.8,149.1 L271.2,149.9 L270.5,151 L269.8,152.4 L269.4,153.2 L268.8,154.9 L268.2,156.9 L267.9,158.1 L267.6,159.5 L267.3,160.9 L267.1,161.9 L267,162.6 L267,162.6 L264.6,159.9 L262.2,157.5 L259.7,155.3 L257.3,153.4 L254.9,151.8 L252.5,150.6 L250.1,149.9 L248.3,150 L246.4,150.6 L245.2,151.1 L244,152 L242.8,153.3 L242.2,154.1 L241.5,155.4 L240.8,157 L240.4,158 L239.8,159.9 L239.2,162.3 L238.9,163.7 L238.6,165.2 L238.3,167 L238.1,168.1 L238,168.9 L238,168.9 L235.6,165.9 L233.1,163.2 L230.7,160.8 L228.3,158.7 L225.9,157 L223.5,155.7 L221,154.9 L219.2,155 L217.4,155.6 L216.2,156.2 L215,157.1 L213.8,158.4 L213.2,159.3 L212.5,160.6 L211.7,162.3 L211.4,163.3 L210.8,165.3 L210.2,167.8 L209.9,169.3 L209.6,170.9 L209.3,172.8 L209.1,174 L209,174.8 L208.9,174.8 L206.5,171.8 L204.1,169.1 L201.7,166.7 L199.3,164.6 L196.9,162.9 L194.4,161.6 L192,160.8 L190.2,161 L188.4,161.7 L187.2,162.5 L186,163.6 L184.8,165.3 L184.2,166.5 L183.4,168.2 L182.7,170.4 L182.3,171.7 L181.7,174.3 L181.1,177.6 L180.8,179.6 L180.5,181.8 L180.2,184.2 L180,185.9 L179.9,187 L179.9,187 L177.5,183.8 L175.1,181 L172.7,178.4 L170.3,176.2 L167.8,174.3 L165.4,172.9 L163,172.1 L161.2,172.4 L159.4,173.4 L158.2,174.5 L156.9,176.1 L155.7,178.5 L155.1,180.2 L154.4,182.7 L153.7,185.9 L153.3,187.8 L152.7,191.7 L152.1,196.7 L151.8,199.6 L151.5,203 L151.2,206.8 L151,209.4 L150.9,211.2 L150.9,211.2 L148.5,207.6 L146.1,204.3 L143.6,201.3 L141.2,198.8 L138.8,196.7 L136.4,195.1 L134,194.1 L132.2,194.6 L130.3,196 L129.1,197.5 L127.9,199.8 L126.7,203.3 L126.1,205.6 L125.4,209.2 L124.7,213.9 L124.3,216.8 L123.7,222.8 L123.1,230.4 L122.8,235.1 L122.5,240.5 L122.2,246.8 L122,251.1 L121.9,254.2 L121.9,254.2 L119.5,249.7 L117,245.7 L114.6,242 L112.2,238.9 L109.8,236.3 L107.4,234.3 L104.9,233.1 L103.1,234.3 L101.3,237.5 L100.1,241.1 L98.9,246.6 L97.7,255.2 L97.1,261.4 L96.4,271.3 L95.6,285.2 L95.3,294.5 L94.7,315.3 L94.1,348 L93.8,373 L93.5,410 L93.2,476.7 L93,568.2 L92.9,700Z" fill="#409ccc"/>
<path d="M92.9,688.3 L93,524.2 L93.2,433.2 L93.5,367.5 L93.8,331.2 L94.1,307 L94.7,275.8 L95.3,256.4 L95.6,247.9 L96.4,235.3 L97.1,226.7 L97.7,221.5 L98.9,214.4 L100.1,210.2 L101.3,207.6 L103.1,206.1 L104.9,207 L107.4,208.8 L109.8,211.1 L112.2,213.7 L114.6,216.7 L117,219.9 L119.5,223.4 L121.9,227.1 L121.9,227.2 L122,223.5 L122.2,218.5 L122.5,211.4 L122.8,205.4 L123.1,200.3 L123.7,192.3 L124.3,186.3 L124.7,183.4 L125.4,178.9 L126.1,175.6 L126.7,173.5 L127.9,170.6 L129.1,168.8 L130.3,167.7 L132.2,167.1 L134,167.8 L136.4,169.3 L138.8,171.1 L141.2,173.2 L143.6,175.7 L146.1,178.3 L148.5,181.1 L150.9,184.1 L150.9,184.2 L151,182 L151.2,179 L151.5,174.6 L151.8,170.9 L152.1,167.7 L152.7,162.4 L153.3,158.4 L153.7,156.5 L154.4,153.4 L155.1,151.1 L155.7,149.6 L156.9,147.6 L158.2,146.3 L159.4,145.5 L161.2,145.1 L163,145.7 L165.4,147 L167.8,148.6 L170.3,150.4 L172.7,152.5 L175.1,154.8 L177.5,157.3 L179.9,159.9 L179.9,160 L180,158.6 L180.2,156.7 L180.5,153.9 L180.8,151.4 L181.1,149.3 L181.7,145.8 L182.3,143 L182.7,141.7 L183.4,139.6 L184.2,138 L184.8,136.9 L186,135.5 L187.2,134.6 L188.4,134 L190.2,133.7 L192,134.3 L194.4,135.5 L196.9,137.1 L199.3,138.8 L201.7,140.8 L204.1,142.9 L206.5,145.3 L208.9,147.7 L209,147.8 L209.1,146.8 L209.3,145.3 L209.6,143.2 L209.9,141.4 L210.2,139.8 L210.8,137.1 L211.4,135 L211.7,134 L212.5,132.4 L213.2,131.1 L213.8,130.3 L215,129.2 L216.2,128.5 L217.4,128 L219.2,127.8 L221,128.4 L223.5,129.6 L225.9,131.2 L228.3,132.9 L230.7,134.9 L233.1,137 L235.6,139.4 L238,141.8 L238,141.9 L238.1,140.9 L238.3,139.6 L238.6,137.6 L238.9,135.8 L239.2,134.3 L239.8,131.7 L240.4,129.7 L240.8,128.7 L241.5,127.2 L242.2,126 L242.8,125.2 L244,124.1 L245.2,123.5 L246.4,123 L248.3,122.8 L250.1,123.4 L252.5,124.5 L254.9,125.8 L257.3,127.4 L259.7,129.2 L262.2,131.2 L264.6,133.3 L267,135.5 L267,135.6 L267.1,134.7 L267.3,133.6 L267.6,131.9 L267.9,130.4 L268.2,129.1 L268.8,126.8 L269.4,125.1 L269.8,124.3 L270.5,122.9 L271.2,121.9 L271.8,121.2 L273.1,120.3 L274.3,119.7 L275.5,119.3 L277.3,119.1 L279.1,119.7 L281.5,120.8 L283.9,122.3 L286.4,124 L288.8,125.8 L291.2,127.9 L293.6,130.1 L296,132.4 L296,132.5 L296.2,131.7 L296.3,130.6 L296.6,129 L296.9,127.5 L297.2,126.3 L297.8,124.2 L298.4,122.5 L298.8,121.7 L299.5,120.4 L300.3,119.4 L300.9,118.8 L302.1,117.9 L303.3,117.3 L304.5,117 L306.3,116.8 L308.1,117.4 L310.5,118.6 L313,120.2 L315.4,121.9 L317.8,123.9 L320.2,126 L322.6,128.4 L325,130.8 L325.1,130.9 L325.2,130.1 L325.4,129 L325.7,127.3 L326,125.8 L326.3,124.6 L326.9,122.4 L327.5,120.8 L327.8,119.9 L328.6,118.6 L329.3,117.6 L329.9,116.9 L331.1,116 L332.3,115.4 L333.5,115.1 L335.3,115 L337.1,115.6 L339.6,116.8 L342,118.4 L344.4,120.3 L346.8,122.3 L349.2,124.6 L351.7,127 L354.1,129.6 L354.1,129.7 L354.2,128.9 L354.4,127.8 L354.7,126.1 L355,124.6 L355.3,123.4 L355.9,121.2 L356.5,119.6 L356.9,118.7 L357.6,117.4 L358.3,116.4 L358.9,115.7 L360.1,114.8 L361.3,114.2 L362.5,113.9 L364.4,113.8 L366.2,114.4 L368.6,115.6 L371,117.2 L373.4,119.1 L375.8,121.1 L378.3,123.4 L380.7,125.8 L383.1,128.4 L383.1,128.5 L383.2,127.7 L383.4,126.6 L383.7,124.9 L384,123.4 L384.3,122.2 L384.9,120 L385.5,118.4 L385.9,117.5 L386.6,116.2 L387.3,115.2 L387.9,114.5 L389.2,113.6 L390.4,113 L391.6,112.7 L393.4,112.6 L395.2,113.2 L397.6,114.5 L400,116.1 L402.5,118.1 L404.9,120.2 L407.3,122.5 L409.7,125.1 L412.1,127.7 L412.1,127.8 L412.3,127 L412.4,125.9 L412.7,124.3 L413,122.8 L413.3,121.6 L413.9,119.5 L414.6,117.8 L414.9,117 L415.6,115.7 L416.4,114.7 L417,114.1 L418.2,113.2 L419.4,112.6 L420.6,112.3 L422.4,112.2 L424.2,112.8 L426.6,114.1 L429.1,115.7 L431.5,117.5 L433.9,119.6 L436.3,121.9 L438.7,124.4 L441.1,127 L441.2,127.1 L441.3,126.3 L441.5,125.2 L441.8,123.6 L442.1,122.1 L442.4,120.9 L443,118.8 L443.6,117.1 L443.9,116.3 L444.7,115 L445.4,114 L446,113.4 L447.2,112.5 L448.4,111.9 L449.6,111.6 L451.4,111.5 L453.3,112.1 L455.7,113.3 L458.1,114.9 L460.5,116.8 L462.9,118.9 L465.3,121.2 L467.8,123.6 L470.2,126.2 L470.2,126.3 L470.3,125.5 L470.5,124.5 L470.8,122.9 L471.1,121.6 L471.4,120.4 L472,118.4 L472.6,116.8 L473,116 L473.7,114.8 L474.4,113.8 L475,113.2 L476.2,112.4 L477.4,111.8 L478.6,111.5 L480.5,111.3 L482.3,111.8 L484.7,112.6 L487.1,113.9 L489.5,115.4 L492,117.9 L494.4,120.8 L496.8,123.8 L499.2,126.6 L501.6,129.2 L504,131.8 L506.5,134.4 L508.9,137 L511.3,139.7 L513.7,142.5 L516.1,145.3 L518.6,148.2 L521,151.2 L523.4,154.1 L525.8,157.1 L528.2,160 L530.7,163 L533.1,165.9 L535.5,168.8 L537.9,171.6 L540.3,174.5 L542.7,177.3 L545.2,180.2 L547.6,183.1 L550,186.1 L552.4,189.4 L554.8,192.7 L557.3,196.1 L559.7,199.6 L562.1,203.1 L564.5,206.7 L566.9,210.2 L569.4,213.5 L571.8,216.8 L574.2,219.9 L576.6,223.1 L576.6,248.2 L574.2,244.9 L571.8,241.4 L569.4,237.9 L566.9,234.3 L564.5,230.6 L562.1,226.8 L559.7,223.1 L557.3,219.4 L554.8,215.7 L552.4,212 L550,208.5 L547.6,205.2 L545.2,202 L542.7,198.9 L540.3,195.8 L537.9,192.7 L535.5,189.6 L533.1,186.4 L530.7,183.3 L528.2,180.1 L525.8,176.9 L523.4,173.8 L521,170.6 L518.6,167.3 L516.1,164.1 L513.7,161 L511.3,157.9 L508.9,154.9 L506.5,152 L504,149.2 L501.6,146.4 L499.2,143.7 L496.8,140.9 L494.4,137.9 L492,135 L489.5,132.5 L487.1,130.8 L484.7,129.3 L482.3,128.5 L480.5,128.4 L478.6,128.8 L477.4,129.2 L476.2,129.8 L475,130.7 L474.4,131.4 L473.7,132.4 L473,133.6 L472.6,134.4 L472,135.9 L471.4,137.9 L471.1,139 L470.8,140.3 L470.5,141.7 L470.3,142.7 L470.2,143.3 L470.2,143.3 L467.8,140.4 L465.3,137.7 L462.9,135.2 L460.5,133 L458.1,131.2 L455.7,129.7 L453.3,128.7 L451.4,128.5 L449.6,128.9 L448.4,129.3 L447.2,130 L446,130.9 L445.4,131.6 L444.7,132.6 L443.9,134 L443.6,134.8 L443,136.4 L442.4,138.4 L442.1,139.6 L441.8,140.9 L441.5,142.4 L441.3,143.4 L441.2,144.1 L441.1,144.1 L438.7,141.2 L436.3,138.4 L433.9,135.9 L431.5,133.7 L429.1,131.9 L426.6,130.4 L424.2,129.4 L422.4,129.2 L420.6,129.6 L419.4,130 L418.2,130.7 L417,131.6 L416.4,132.3 L415.6,133.3 L414.9,134.7 L414.6,135.5 L413.9,137.1 L413.3,139.1 L413,140.3 L412.7,141.6 L412.4,143.1 L412.3,144.1 L412.1,144.8 L412.1,144.8 L409.7,141.8 L407.3,139 L404.9,136.5 L402.5,134.2 L400,132.3 L397.6,130.8 L395.2,129.8 L393.4,129.6 L391.6,130 L390.4,130.4 L389.2,131.1 L387.9,132.1 L387.3,132.8 L386.6,133.8 L385.9,135.2 L385.5,136 L384.9,137.6 L384.3,139.7 L384,140.9 L383.7,142.3 L383.4,143.8 L383.2,144.8 L383.1,145.5 L383.1,145.5 L380.7,142.6 L378.3,139.9 L375.8,137.5 L373.4,135.3 L371,133.4 L368.6,132 L366.2,131 L364.4,130.8 L362.5,131.2 L361.3,131.6 L360.1,132.3 L358.9,133.3 L358.3,134 L357.6,135 L356.9,136.4 L356.5,137.2 L355.9,138.8 L355.3,140.9 L355,142.1 L354.7,143.5 L354.4,145 L354.2,146 L354.1,146.7 L354.1,146.7 L351.7,143.8 L349.2,141.1 L346.8,138.7 L344.4,136.5 L342,134.6 L339.6,133.2 L337.1,132.2 L335.3,132 L333.5,132.4 L332.3,132.8 L331.1,133.5 L329.9,134.5 L329.3,135.2 L328.6,136.2 L327.8,137.6 L327.5,138.4 L326.9,140 L326.3,142.1 L326,143.3 L325.7,144.7 L325.4,146.2 L325.2,147.2 L325.1,147.9 L325,147.9 L322.6,145.1 L320.2,142.6 L317.8,140.2 L315.4,138.2 L313,136.4 L310.5,135 L308.1,134.1 L306.3,133.9 L304.5,134.3 L303.3,134.7 L302.1,135.4 L300.9,136.3 L300.3,137 L299.5,138 L298.8,139.4 L298.4,140.2 L297.8,141.8 L297.2,143.8 L296.9,145 L296.6,146.3 L296.3,147.8 L296.2,148.8 L296,149.5 L296,149.5 L293.6,146.9 L291.2,144.4 L288.8,142.2 L286.4,140.3 L283.9,138.6 L281.5,137.3 L279.1,136.3 L277.3,136.2 L275.5,136.6 L274.3,137.1 L273.1,137.7 L271.8,138.8 L271.2,139.5 L270.5,140.5 L269.8,141.9 L269.4,142.8 L268.8,144.5 L268.2,146.6 L267.9,147.8 L267.6,149.3 L267.3,150.8 L267.1,151.9 L267,152.6 L267,152.6 L264.6,150.1 L262.2,147.8 L259.7,145.6 L257.3,143.8 L254.9,142.2 L252.5,140.9 L250.1,140 L248.3,139.9 L246.4,140.4 L245.2,140.9 L244,141.7 L242.8,142.8 L242.2,143.6 L241.5,144.9 L240.8,146.5 L240.4,147.5 L239.8,149.4 L239.2,151.9 L238.9,153.3 L238.6,155 L238.3,156.8 L238.1,158.1 L238,158.9 L238,158.9 L235.6,156.1 L233.1,153.6 L230.7,151.2 L228.3,149.2 L225.9,147.4 L223.5,146 L221,145.1 L219.2,144.9 L217.4,145.4 L216.2,145.9 L215,146.7 L213.8,148 L213.2,148.8 L212.5,150.1 L211.7,151.8 L211.4,152.8 L210.8,154.8 L210.2,157.4 L209.9,159 L209.6,160.7 L209.3,162.6 L209.1,163.9 L209,164.8 L208.9,164.8 L206.5,162 L204.1,159.5 L201.7,157.1 L199.3,155.1 L196.9,153.3 L194.4,151.9 L192,151 L190.2,150.9 L188.4,151.5 L187.2,152.1 L186,153.2 L184.8,154.8 L184.2,155.8 L183.4,157.5 L182.7,159.7 L182.3,161 L181.7,163.7 L181.1,167.1 L180.8,169.1 L180.5,171.4 L180.2,174.1 L180,175.8 L179.9,177 L179.9,177 L177.5,174.1 L175.1,171.3 L172.7,168.8 L170.3,166.6 L167.8,164.8 L165.4,163.3 L163,162.3 L161.2,162.2 L159.4,163.1 L158.2,164 L156.9,165.5 L155.7,167.7 L155.1,169.3 L154.4,171.7 L153.7,174.8 L153.3,176.8 L152.7,180.7 L152.1,185.8 L151.8,188.9 L151.5,192.4 L151.2,196.5 L151,199.3 L150.9,201.2 L150.9,201.2 L148.5,197.8 L146.1,194.7 L143.6,191.8 L141.2,189.3 L138.8,187.2 L136.4,185.5 L134,184.3 L132.2,184.3 L130.3,185.5 L129.1,186.8 L127.9,188.9 L126.7,192.1 L126.1,194.3 L125.4,197.8 L124.7,202.4 L124.3,205.3 L123.7,211.2 L123.1,219.1 L122.8,223.9 L122.5,229.6 L122.2,236.3 L122,240.9 L121.9,244.2 L121.9,244.2 L119.5,240 L117,236.2 L114.6,232.7 L112.2,229.6 L109.8,226.9 L107.4,224.8 L104.9,223.4 L103.1,223.6 L101.3,226.3 L100.1,229.4 L98.9,234.3 L97.7,242.2 L97.1,247.9 L96.4,257.2 L95.6,270.5 L95.3,279.4 L94.7,299.6 L94.1,331.6 L93.8,356.2 L93.5,392.9 L93.2,459.1 L93,550.4 L92.9,700Z" fill="#1e8ac3"/>
<path d="M92.9,700 L93,537.4 L93.2,446.3 L93.5,380.2 L93.8,343.8 L94.1,319.4 L94.7,287.8 L95.3,267.9 L95.6,259.2 L96.4,246.3 L97.1,237.3 L97.7,231.8 L98.9,224.4 L100.1,219.8 L101.3,216.9 L103.1,214.5 L104.9,215.1 L107.4,216.8 L109.8,219 L112.2,221.6 L114.6,224.7 L117,228 L119.5,231.7 L121.9,235.7 L121.9,235.7 L122,232.2 L122.2,227.4 L122.5,220.5 L122.8,214.7 L123.1,209.7 L123.7,201.8 L124.3,195.8 L124.7,192.9 L125.4,188.4 L126.1,185 L126.7,182.8 L127.9,179.7 L129.1,177.8 L130.3,176.6 L132.2,175.5 L134,176 L136.4,177.3 L138.8,179.1 L141.2,181.3 L143.6,183.8 L146.1,186.5 L148.5,189.5 L150.9,192.7 L150.9,192.7 L151,190.6 L151.2,187.8 L151.5,183.6 L151.8,179.9 L152.1,176.8 L152.7,171.6 L153.3,167.6 L153.7,165.7 L154.4,162.5 L155.1,160.2 L155.7,158.7 L156.9,156.5 L158.2,155.1 L159.4,154.3 L161.2,153.5 L163,154 L165.4,155.1 L167.8,156.7 L170.3,158.5 L172.7,160.7 L175.1,163.1 L177.5,165.7 L179.9,168.5 L179.9,168.5 L180,167.2 L180.2,165.4 L180.5,162.7 L180.8,160.3 L181.1,158.2 L181.7,154.7 L182.3,152 L182.7,150.7 L183.4,148.5 L184.2,146.9 L184.8,145.9 L186,144.3 L187.2,143.4 L188.4,142.7 L190.2,142.2 L192,142.6 L194.4,143.7 L196.9,145.2 L199.3,146.9 L201.7,149 L204.1,151.2 L206.5,153.7 L208.9,156.3 L209,156.3 L209.1,155.3 L209.3,154 L209.6,152 L209.9,150.2 L210.2,148.6 L210.8,146 L211.4,143.9 L211.7,142.9 L212.5,141.2 L213.2,140 L213.8,139.2 L215,138 L216.2,137.2 L217.4,136.7 L219.2,136.3 L221,136.7 L223.5,137.8 L225.9,139.3 L228.3,141 L230.7,143.1 L233.1,145.3 L235.6,147.8 L238,150.4 L238,150.4 L238.1,149.5 L238.3,148.2 L238.6,146.3 L238.9,144.6 L239.2,143.1 L239.8,140.6 L240.4,138.6 L240.8,137.6 L241.5,136 L242.2,134.8 L242.8,134 L244,132.9 L245.2,132.2 L246.4,131.7 L248.3,131.3 L250.1,131.7 L252.5,132.7 L254.9,134 L257.3,135.6 L259.7,137.4 L262.2,139.5 L264.6,141.7 L267,144.1 L267,144.1 L267.1,143.3 L267.3,142.2 L267.6,140.6 L267.9,139.1 L268.2,137.8 L268.8,135.7 L269.4,134 L269.8,133.1 L270.5,131.7 L271.2,130.7 L271.8,130 L273.1,129 L274.3,128.4 L275.5,128 L277.3,127.6 L279.1,128 L281.5,129 L283.9,130.4 L286.4,132.1 L288.8,134 L291.2,136.2 L293.6,138.5 L296,141 L296,141 L296.2,140.3 L296.3,139.2 L296.6,137.7 L296.9,136.3 L297.2,135 L297.8,133 L298.4,131.4 L298.8,130.6 L299.5,129.2 L300.3,128.2 L300.9,127.6 L302.1,126.6 L303.3,126 L304.5,125.6 L306.3,125.3 L308.1,125.7 L310.5,126.8 L313,128.3 L315.4,130 L317.8,132.1 L320.2,134.3 L322.6,136.8 L325,139.4 L325.1,139.4 L325.2,138.6 L325.4,137.6 L325.7,136 L326,134.6 L326.3,133.3 L326.9,131.2 L327.5,129.6 L327.8,128.7 L328.6,127.4 L329.3,126.4 L329.9,125.7 L331.1,124.8 L332.3,124.1 L333.5,123.7 L335.3,123.4 L337.1,123.8 L339.6,125 L342,126.5 L344.4,128.4 L346.8,130.5 L349.2,132.9 L351.7,135.4 L354.1,138.2 L354.1,138.2 L354.2,137.4 L354.4,136.4 L354.7,134.8 L355,133.4 L355.3,132.1 L355.9,130 L356.5,128.4 L356.9,127.5 L357.6,126.2 L358.3,125.2 L358.9,124.5 L360.1,123.6 L361.3,122.9 L362.5,122.5 L364.4,122.2 L366.2,122.6 L368.6,123.8 L371,125.3 L373.4,127.2 L375.8,129.3 L378.3,131.7 L380.7,134.2 L383.1,137 L383.1,137 L383.2,136.2 L383.4,135.2 L383.7,133.6 L384,132.2 L384.3,130.9 L384.9,128.8 L385.5,127.2 L385.9,126.3 L386.6,125 L387.3,124 L387.9,123.3 L389.2,122.4 L390.4,121.7 L391.6,121.3 L393.4,121 L395.2,121.5 L397.6,122.6 L400,124.2 L402.5,126.1 L404.9,128.3 L407.3,130.8 L409.7,133.4 L412.1,136.3 L412.1,136.3 L412.3,135.6 L412.4,134.5 L412.7,133 L413,131.6 L413.3,130.3 L413.9,128.3 L414.6,126.7 L414.9,125.9 L415.6,124.5 L416.4,123.5 L417,122.9 L418.2,121.9 L419.4,121.3 L420.6,120.9 L422.4,120.6 L424.2,121.1 L426.6,122.2 L429.1,123.8 L431.5,125.6 L433.9,127.8 L436.3,130.2 L438.7,132.8 L441.1,135.6 L441.2,135.6 L441.3,134.9 L441.5,133.8 L441.8,132.3 L442.1,130.9 L442.4,129.6 L443,127.6 L443.6,126 L443.9,125.2 L444.7,123.8 L445.4,122.8 L446,122.2 L447.2,121.2 L448.4,120.6 L449.6,120.2 L451.4,119.9 L453.3,120.3 L455.7,121.5 L458.1,123 L460.5,124.9 L462.9,127 L465.3,129.4 L467.8,132 L470.2,134.8 L470.2,134.8 L470.3,134.1 L470.5,133.1 L470.8,131.6 L471.1,130.3 L471.4,129.1 L472,127.2 L472.6,125.6 L473,124.8 L473.7,123.6 L474.4,122.6 L475,122 L476.2,121.1 L477.4,120.5 L478.6,120.1 L480.5,119.8 L482.3,120.1 L484.7,121 L487.1,122.4 L489.5,124 L492,126.4 L494.4,129.4 L496.8,132.4 L499.2,135.1 L501.6,137.9 L504,140.6 L506.5,143.5 L508.9,146.4 L511.3,149.4 L513.7,152.4 L516.1,155.4 L518.6,158.6 L521,161.8 L523.4,165 L525.8,168.2 L528.2,171.3 L530.7,174.5 L533.1,177.6 L535.5,180.8 L537.9,183.9 L540.3,187 L542.7,190.1 L545.2,193.3 L547.6,196.4 L550,199.7 L552.4,203.2 L554.8,206.7 L557.3,210.4 L559.7,214 L562.1,217.8 L564.5,221.6 L566.9,225.3 L569.4,228.9 L571.8,232.4 L574.2,235.8 L576.6,239.2" fill="none" stroke="#0a0a0a" stroke-width="1.65" stroke-linejoin="round"/>
</g>
<line x1="68.9" y1="30.3" x2="68.9" y2="440.8" stroke="#000" stroke-width="2.1"/>
<line x1="62.3" y1="434.5" x2="602.7" y2="434.5" stroke="#000" stroke-width="1.8"/>
<line x1="601.8" y1="434.5" x2="601.8" y2="440.4" stroke="#000" stroke-width="1.8"/>
<line x1="62.3" y1="31.2" x2="68.9" y2="31.2" stroke="#000" stroke-width="1.8"/>
<line x1="65.7" y1="363" x2="68.9" y2="363" stroke="#000" stroke-width="1.5"/>
<line x1="65.7" y1="321.2" x2="68.9" y2="321.2" stroke="#000" stroke-width="1.5"/>
<line x1="65.7" y1="291.6" x2="68.9" y2="291.6" stroke="#000" stroke-width="1.5"/>
<line x1="65.7" y1="268.6" x2="68.9" y2="268.6" stroke="#000" stroke-width="1.5"/>
<line x1="65.7" y1="249.8" x2="68.9" y2="249.8" stroke="#000" stroke-width="1.5"/>
<line x1="65.7" y1="233.9" x2="68.9" y2="233.9" stroke="#000" stroke-width="1.5"/>
<line x1="65.7" y1="220.1" x2="68.9" y2="220.1" stroke="#000" stroke-width="1.5"/>
<line x1="65.7" y1="208" x2="68.9" y2="208" stroke="#000" stroke-width="1.5"/>
<line x1="64.9" y1="197.1" x2="68.9" y2="197.1" stroke="#000" stroke-width="1.5"/>
<line x1="65.7" y1="125.6" x2="68.9" y2="125.6" stroke="#000" stroke-width="1.5"/>
<line x1="65.7" y1="83.8" x2="68.9" y2="83.8" stroke="#000" stroke-width="1.5"/>
<line x1="65.7" y1="54.2" x2="68.9" y2="54.2" stroke="#000" stroke-width="1.5"/>
<line x1="92.8" y1="434.5" x2="92.8" y2="437" stroke="#000" stroke-width="1.6"/>
<text x="92.8" y="449.2" font-size="11.7" text-anchor="middle" fill="#222">0</text>
<line x1="153.3" y1="434.5" x2="153.3" y2="437" stroke="#000" stroke-width="1.6"/>
<text x="153.3" y="449.2" font-size="11.7" text-anchor="middle" fill="#222">50</text>
<line x1="213.8" y1="434.5" x2="213.8" y2="437" stroke="#000" stroke-width="1.6"/>
<text x="213.8" y="449.2" font-size="11.7" text-anchor="middle" fill="#222">100</text>
<line x1="274.3" y1="434.5" x2="274.3" y2="437" stroke="#000" stroke-width="1.6"/>
<text x="274.3" y="449.2" font-size="11.7" text-anchor="middle" fill="#222">150</text>
<line x1="334.7" y1="434.5" x2="334.7" y2="437" stroke="#000" stroke-width="1.6"/>
<text x="334.7" y="449.2" font-size="11.7" text-anchor="middle" fill="#222">200</text>
<line x1="395.2" y1="434.5" x2="395.2" y2="437" stroke="#000" stroke-width="1.6"/>
<text x="395.2" y="449.2" font-size="11.7" text-anchor="middle" fill="#222">250</text>
<line x1="455.7" y1="434.5" x2="455.7" y2="437" stroke="#000" stroke-width="1.6"/>
<text x="455.7" y="449.2" font-size="11.7" text-anchor="middle" fill="#222">300</text>
<line x1="516.1" y1="434.5" x2="516.1" y2="437" stroke="#000" stroke-width="1.6"/>
<text x="516.1" y="449.2" font-size="11.7" text-anchor="middle" fill="#222">350</text>
<line x1="576.6" y1="434.5" x2="576.6" y2="437" stroke="#000" stroke-width="1.6"/>
<text x="576.6" y="449.2" font-size="11.7" text-anchor="middle" fill="#222">400</text>
<text x="61.9" y="35.4" font-size="11.7" text-anchor="end" fill="#222">500</text>
<text x="61.9" y="201.3" font-size="11.7" text-anchor="end" fill="#222">100</text>
<text x="61.9" y="438.7" font-size="11.7" text-anchor="end" fill="#222">10</text>
<text x="335" y="465" font-size="13.3" text-anchor="middle" fill="#222" textLength="49.5" lengthAdjust="spacingAndGlyphs">Time (h)</text>
<text transform="translate(17.8,252.5) rotate(-90)" font-size="13.5" text-anchor="middle" fill="#222" textLength="171" lengthAdjust="spacingAndGlyphs">CBG concentration (µmol/L)</text>
<text x="335.2" y="16.5" font-size="13.3" text-anchor="middle" fill="#222" textLength="100.4" lengthAdjust="spacingAndGlyphs">CBG_OIL_dosing</text>
<text x="89.2" y="52.2" font-size="27.3" fill="#000">B</text>
</g>
<g transform="translate(1289.6,0)">
<rect x="68.9" y="30.2" width="532.9" height="404.3" fill="#fbfbfd"/>
<clipPath id="cp20"><rect x="68.9" y="30.2" width="533.9" height="404.3"/></clipPath>
<g clip-path="url(#cp20)">
<path d="M92.9,630.2 L93,465 L93.2,370.9 L93.5,299.7 L93.8,258.1 L94.1,228.6 L94.7,187 L95.3,184.3 L95.6,182.8 L96.4,184.3 L97.1,185.8 L97.7,187.1 L98.9,189.7 L100.1,192.2 L101.3,194.8 L103.1,198.6 L104.9,202.4 L107.4,207.5 L109.8,212.6 L112.2,217.7 L114.6,222.8 L117,227.9 L119.5,233 L121.9,238.1 L121.9,238.1 L122,227.3 L122.2,213 L122.5,192.8 L122.8,175.9 L123.1,161.4 L123.7,137.4 L124.3,135.7 L124.7,134.8 L125.4,136.4 L126.1,138.1 L126.7,139.5 L127.9,142.3 L129.1,145 L130.3,147.8 L132.2,152 L134,156.1 L136.4,161.7 L138.8,167.2 L141.2,172.7 L143.6,178.3 L146.1,183.8 L148.5,189.4 L150.9,194.9 L150.9,194.9 L151,187.7 L151.2,177.6 L151.5,162.9 L151.8,149.9 L152.1,138.5 L152.7,118.8 L153.3,117.4 L153.7,116.5 L154.4,118.2 L155.1,119.8 L155.7,121.2 L156.9,124 L158.2,126.7 L159.4,129.5 L161.2,133.6 L163,137.7 L165.4,143.2 L167.8,148.7 L170.3,154.2 L172.7,159.7 L175.1,165.2 L177.5,170.7 L179.9,176.2 L179.9,176.2 L180,170.2 L180.2,161.7 L180.5,149.1 L180.8,137.8 L181.1,127.6 L181.7,109.9 L182.3,108.6 L182.7,107.9 L183.4,109.5 L184.2,111.1 L184.8,112.4 L186,115.1 L187.2,117.7 L188.4,120.4 L190.2,124.4 L192,128.4 L194.4,133.7 L196.9,139 L199.3,144.3 L201.7,149.7 L204.1,155 L206.5,160.3 L208.9,165.6 L209,165.6 L209.1,160.3 L209.3,152.7 L209.6,141.3 L209.9,131 L210.2,121.6 L210.8,105.1 L211.4,103.9 L211.7,103.2 L212.5,104.8 L213.2,106.3 L213.8,107.6 L215,110.2 L216.2,112.8 L217.4,115.5 L219.2,119.4 L221,123.3 L223.5,128.5 L225.9,133.7 L228.3,138.9 L230.7,144.1 L233.1,149.3 L235.6,154.5 L238,159.7 L238,159.8 L238.1,154.8 L238.3,147.8 L238.6,137 L238.9,127.3 L239.2,118.4 L239.8,102.6 L240.4,101.5 L240.8,100.8 L241.5,102.3 L242.2,103.9 L242.8,105.1 L244,107.7 L245.2,110.2 L246.4,112.7 L248.3,116.5 L250.1,120.3 L252.5,125.4 L254.9,130.4 L257.3,135.5 L259.7,140.6 L262.2,145.6 L264.6,150.7 L267,155.8 L267,155.8 L267.1,151 L267.3,144.2 L267.6,133.8 L267.9,124.3 L268.2,115.7 L268.8,100.3 L269.4,99.2 L269.8,98.5 L270.5,100 L271.2,101.5 L271.8,102.8 L273.1,105.3 L274.3,107.8 L275.5,110.4 L277.3,114.1 L279.1,117.9 L281.5,123 L283.9,128 L286.4,133 L288.8,138.1 L291.2,143.1 L293.6,148.2 L296,153.2 L296,153.2 L296.2,148.5 L296.3,141.9 L296.6,131.7 L296.9,122.5 L297.2,114 L297.8,98.9 L298.4,97.8 L298.8,97.1 L299.5,98.7 L300.3,100.2 L300.9,101.4 L302.1,104 L303.3,106.5 L304.5,109.1 L306.3,112.9 L308.1,116.7 L310.5,121.8 L313,126.9 L315.4,132 L317.8,137 L320.2,142.1 L322.6,147.2 L325,152.3 L325.1,152.3 L325.2,147.6 L325.4,141 L325.7,130.8 L326,121.5 L326.3,113 L326.9,97.9 L327.5,96.8 L327.8,96.1 L328.6,97.7 L329.3,99.2 L329.9,100.5 L331.1,103.1 L332.3,105.6 L333.5,108.2 L335.3,112 L337.1,115.9 L339.6,121 L342,126.1 L344.4,131.3 L346.8,136.4 L349.2,141.5 L351.7,146.7 L354.1,151.8 L354.1,151.8 L354.2,147.2 L354.4,140.6 L354.7,130.5 L355,121.3 L355.3,112.9 L355.9,97.9 L356.5,96.8 L356.9,96.1 L357.6,97.7 L358.3,99.2 L358.9,100.4 L360.1,103 L361.3,105.5 L362.5,108 L364.4,111.8 L366.2,115.6 L368.6,120.7 L371,125.8 L373.4,130.8 L375.8,135.9 L378.3,141 L380.7,146 L383.1,151.1 L383.1,151.1 L383.2,146.5 L383.4,140.1 L383.7,130.1 L384,121.1 L384.3,112.7 L384.9,97.8 L385.5,96.8 L385.9,96.1 L386.6,97.6 L387.3,99.2 L387.9,100.4 L389.2,102.9 L390.4,105.5 L391.6,108 L393.4,111.8 L395.2,115.6 L397.6,120.6 L400,125.7 L402.5,130.7 L404.9,135.8 L407.3,140.8 L409.7,145.9 L412.1,150.9 L412.1,150.9 L412.3,146.4 L412.4,139.9 L412.7,130 L413,121 L413.3,112.7 L413.9,97.8 L414.6,96.8 L414.9,96.1 L415.6,97.6 L416.4,99.2 L417,100.4 L418.2,102.9 L419.4,105.5 L420.6,108 L422.4,111.8 L424.2,115.6 L426.6,120.6 L429.1,125.7 L431.5,130.7 L433.9,135.8 L436.3,140.8 L438.7,145.9 L441.1,150.9 L441.2,150.9 L441.3,146.4 L441.5,139.9 L441.8,130 L442.1,121 L442.4,112.7 L443,97.8 L443.6,96.8 L443.9,96.1 L444.7,97.6 L445.4,99.1 L446,100.4 L447.2,102.9 L448.4,105.4 L449.6,108 L451.4,111.7 L453.3,115.5 L455.7,120.5 L458.1,125.6 L460.5,130.6 L462.9,135.6 L465.3,140.6 L467.8,145.7 L470.2,150.7 L470.2,150.7 L470.3,146.2 L470.5,139.9 L470.8,130 L471.1,121.1 L471.4,112.9 L472,98.1 L472.6,97.1 L473,96.4 L473.7,97.9 L474.4,99.4 L475,100.7 L476.2,103.2 L477.4,105.7 L478.6,108.3 L480.5,112 L482.3,115.8 L484.7,120.8 L487.1,125.9 L489.5,130.9 L492,135.9 L494.4,141 L496.8,146 L499.2,151 L501.6,156.1 L504,161.1 L506.5,166.1 L508.9,171.1 L511.3,176.2 L513.7,181.2 L516.1,186.2 L518.6,191.3 L521,196.3 L523.4,201.3 L525.8,206.4 L528.2,211.4 L530.7,216.4 L533.1,221.5 L535.5,226.5 L537.9,231.5 L540.3,236.5 L542.7,241.6 L545.2,246.6 L547.6,251.6 L550,256.7 L552.4,261.7 L554.8,266.7 L557.3,271.8 L559.7,276.8 L562.1,281.8 L564.5,286.9 L566.9,291.9 L569.4,296.9 L571.8,302 L574.2,307 L576.6,312" fill="none" stroke="#107010" stroke-width="2" stroke-linejoin="round"/>
<path d="M92.9,700 L93,537 L93.2,446.2 L93.5,380.5 L93.8,344.2 L94.1,319.9 L94.7,288.4 L95.3,268.6 L95.6,259.9 L96.4,247.1 L97.1,238.1 L97.7,232.7 L98.9,225.2 L100.1,220.7 L101.3,217.9 L103.1,215.4 L104.9,216.1 L107.4,217.7 L109.8,219.9 L112.2,222.5 L114.6,225.6 L117,228.9 L119.5,232.6 L121.9,236.5 L121.9,236.5 L122,233 L122.2,228.3 L122.5,221.4 L122.8,215.6 L123.1,210.7 L123.7,202.8 L124.3,196.8 L124.7,194 L125.4,189.4 L126.1,186 L126.7,183.9 L127.9,180.8 L129.1,178.9 L130.3,177.7 L132.2,176.6 L134,177.1 L136.4,178.4 L138.8,180.2 L141.2,182.4 L143.6,184.8 L146.1,187.5 L148.5,190.5 L150.9,193.7 L150.9,193.7 L151,191.7 L151.2,188.8 L151.5,184.6 L151.8,181 L152.1,177.8 L152.7,172.7 L153.3,168.7 L153.7,166.8 L154.4,163.7 L155.1,161.3 L155.7,159.8 L156.9,157.7 L158.2,156.3 L159.4,155.4 L161.2,154.7 L163,155.1 L165.4,156.3 L167.8,157.8 L170.3,159.7 L172.7,161.9 L175.1,164.2 L177.5,166.8 L179.9,169.6 L179.9,169.6 L180,168.3 L180.2,166.5 L180.5,163.8 L180.8,161.4 L181.1,159.4 L181.7,155.9 L182.3,153.2 L182.7,151.9 L183.4,149.8 L184.2,148.1 L184.8,147.1 L186,145.6 L187.2,144.6 L188.4,144 L190.2,143.4 L192,143.9 L194.4,144.9 L196.9,146.4 L199.3,148.2 L201.7,150.2 L204.1,152.4 L206.5,154.8 L208.9,157.5 L209,157.5 L209.1,156.5 L209.3,155.2 L209.6,153.2 L209.9,151.4 L210.2,149.8 L210.8,147.2 L211.4,145.2 L211.7,144.1 L212.5,142.5 L213.2,141.2 L213.8,140.4 L215,139.2 L216.2,138.5 L217.4,138 L219.2,137.6 L221,138 L223.5,139.1 L225.9,140.5 L228.3,142.3 L230.7,144.3 L233.1,146.5 L235.6,149 L238,151.6 L238,151.6 L238.1,150.7 L238.3,149.4 L238.6,147.5 L238.9,145.8 L239.2,144.3 L239.8,141.8 L240.4,139.8 L240.8,138.9 L241.5,137.3 L242.2,136.1 L242.8,135.3 L244,134.2 L245.2,133.4 L246.4,133 L248.3,132.6 L250.1,133 L252.5,133.9 L254.9,135.3 L257.3,136.9 L259.7,138.7 L262.2,140.7 L264.6,142.9 L267,145.3 L267,145.3 L267.1,144.5 L267.3,143.5 L267.6,141.8 L267.9,140.4 L268.2,139.1 L268.8,136.9 L269.4,135.2 L269.8,134.4 L270.5,133 L271.2,132 L271.8,131.3 L273.1,130.3 L274.3,129.7 L275.5,129.2 L277.3,128.9 L279.1,129.3 L281.5,130.3 L283.9,131.7 L286.4,133.4 L288.8,135.3 L291.2,137.4 L293.6,139.7 L296,142.2 L296,142.2 L296.2,141.5 L296.3,140.5 L296.6,138.9 L296.9,137.5 L297.2,136.3 L297.8,134.3 L298.4,132.6 L298.8,131.8 L299.5,130.5 L300.3,129.5 L300.9,128.9 L302.1,127.9 L303.3,127.3 L304.5,126.9 L306.3,126.6 L308.1,127 L310.5,128.1 L313,129.6 L315.4,131.3 L317.8,133.3 L320.2,135.6 L322.6,138 L325,140.6 L325.1,140.6 L325.2,139.9 L325.4,138.8 L325.7,137.2 L326,135.8 L326.3,134.6 L326.9,132.5 L327.5,130.9 L327.8,130 L328.6,128.7 L329.3,127.7 L329.9,127 L331.1,126.1 L332.3,125.5 L333.5,125.1 L335.3,124.7 L337.1,125.2 L339.6,126.3 L342,127.8 L344.4,129.7 L346.8,131.8 L349.2,134.1 L351.7,136.7 L354.1,139.4 L354.1,139.4 L354.2,138.7 L354.4,137.6 L354.7,136.1 L355,134.6 L355.3,133.4 L355.9,131.3 L356.5,129.7 L356.9,128.8 L357.6,127.5 L358.3,126.5 L358.9,125.8 L360.1,124.9 L361.3,124.3 L362.5,123.9 L364.4,123.5 L366.2,124 L368.6,125.1 L371,126.6 L373.4,128.5 L375.8,130.6 L378.3,132.9 L380.7,135.5 L383.1,138.2 L383.1,138.3 L383.2,137.5 L383.4,136.4 L383.7,134.9 L384,133.4 L384.3,132.2 L384.9,130.1 L385.5,128.5 L385.9,127.6 L386.6,126.3 L387.3,125.3 L387.9,124.6 L389.2,123.7 L390.4,123.1 L391.6,122.7 L393.4,122.3 L395.2,122.8 L397.6,124 L400,125.5 L402.5,127.4 L404.9,129.6 L407.3,132.1 L409.7,134.7 L412.1,137.5 L412.1,137.6 L412.3,136.8 L412.4,135.8 L412.7,134.2 L413,132.8 L413.3,131.6 L413.9,129.6 L414.6,128 L414.9,127.2 L415.6,125.8 L416.4,124.8 L417,124.2 L418.2,123.3 L419.4,122.7 L420.6,122.3 L422.4,121.9 L424.2,122.4 L426.6,123.5 L429.1,125.1 L431.5,126.9 L433.9,129.1 L436.3,131.5 L438.7,134.1 L441.1,136.8 L441.2,136.9 L441.3,136.1 L441.5,135.1 L441.8,133.5 L442.1,132.2 L442.4,130.9 L443,128.9 L443.6,127.3 L443.9,126.5 L444.7,125.1 L445.4,124.1 L446,123.5 L447.2,122.6 L448.4,122 L449.6,121.6 L451.4,121.2 L453.3,121.7 L455.7,122.8 L458.1,124.4 L460.5,126.2 L462.9,128.3 L465.3,130.7 L467.8,133.3 L470.2,136 L470.2,136.1 L470.3,135.4 L470.5,134.4 L470.8,132.9 L471.1,131.6 L471.4,130.4 L472,128.5 L472.6,126.9 L473,126.1 L473.7,124.9 L474.4,123.9 L475,123.3 L476.2,122.4 L477.4,121.8 L478.6,121.5 L480.5,121.1 L482.3,121.4 L484.7,122.3 L487.1,123.7 L489.5,125.3 L492,127.7 L494.4,130.6 L496.8,133.6 L499.2,136.4 L501.6,139.1 L504,141.9 L506.5,144.7 L508.9,147.6 L511.3,150.6 L513.7,153.6 L516.1,156.6 L518.6,159.8 L521,162.9 L523.4,166.1 L525.8,169.3 L528.2,172.4 L530.7,175.6 L533.1,178.7 L535.5,181.8 L537.9,184.9 L540.3,188.1 L542.7,191.2 L545.2,194.3 L547.6,197.4 L550,200.7 L552.4,204.1 L554.8,207.7 L557.3,211.3 L559.7,215 L562.1,218.7 L564.5,222.5 L566.9,226.2 L569.4,229.8 L571.8,233.3 L574.2,236.7 L576.6,240" fill="none" stroke="#0a0ad2" stroke-width="2" stroke-linejoin="round"/>
</g>
<line x1="68.9" y1="30.3" x2="68.9" y2="440.8" stroke="#000" stroke-width="2.1"/>
<line x1="62.3" y1="434.5" x2="602.7" y2="434.5" stroke="#000" stroke-width="1.8"/>
<line x1="601.8" y1="434.5" x2="601.8" y2="440.4" stroke="#000" stroke-width="1.8"/>
<line x1="62.3" y1="31.2" x2="68.9" y2="31.2" stroke="#000" stroke-width="1.8"/>
<line x1="65.7" y1="363.3" x2="68.9" y2="363.3" stroke="#000" stroke-width="1.5"/>
<line x1="65.7" y1="321.7" x2="68.9" y2="321.7" stroke="#000" stroke-width="1.5"/>
<line x1="65.7" y1="292.2" x2="68.9" y2="292.2" stroke="#000" stroke-width="1.5"/>
<line x1="65.7" y1="269.3" x2="68.9" y2="269.3" stroke="#000" stroke-width="1.5"/>
<line x1="65.7" y1="250.5" x2="68.9" y2="250.5" stroke="#000" stroke-width="1.5"/>
<line x1="65.7" y1="234.7" x2="68.9" y2="234.7" stroke="#000" stroke-width="1.5"/>
<line x1="65.7" y1="221" x2="68.9" y2="221" stroke="#000" stroke-width="1.5"/>
<line x1="65.7" y1="208.9" x2="68.9" y2="208.9" stroke="#000" stroke-width="1.5"/>
<line x1="64.9" y1="198.1" x2="68.9" y2="198.1" stroke="#000" stroke-width="1.5"/>
<line x1="65.7" y1="126.9" x2="68.9" y2="126.9" stroke="#000" stroke-width="1.5"/>
<line x1="65.7" y1="85.3" x2="68.9" y2="85.3" stroke="#000" stroke-width="1.5"/>
<line x1="65.7" y1="55.8" x2="68.9" y2="55.8" stroke="#000" stroke-width="1.5"/>
<line x1="62.3" y1="32.9" x2="68.9" y2="32.9" stroke="#000" stroke-width="1.5"/>
<line x1="92.8" y1="434.5" x2="92.8" y2="437" stroke="#000" stroke-width="1.6"/>
<text x="92.8" y="449.2" font-size="11.7" text-anchor="middle" fill="#222">0</text>
<line x1="153.3" y1="434.5" x2="153.3" y2="437" stroke="#000" stroke-width="1.6"/>
<text x="153.3" y="449.2" font-size="11.7" text-anchor="middle" fill="#222">50</text>
<line x1="213.8" y1="434.5" x2="213.8" y2="437" stroke="#000" stroke-width="1.6"/>
<text x="213.8" y="449.2" font-size="11.7" text-anchor="middle" fill="#222">100</text>
<line x1="274.3" y1="434.5" x2="274.3" y2="437" stroke="#000" stroke-width="1.6"/>
<text x="274.3" y="449.2" font-size="11.7" text-anchor="middle" fill="#222">150</text>
<line x1="334.7" y1="434.5" x2="334.7" y2="437" stroke="#000" stroke-width="1.6"/>
<text x="334.7" y="449.2" font-size="11.7" text-anchor="middle" fill="#222">200</text>
<line x1="395.2" y1="434.5" x2="395.2" y2="437" stroke="#000" stroke-width="1.6"/>
<text x="395.2" y="449.2" font-size="11.7" text-anchor="middle" fill="#222">250</text>
<line x1="455.7" y1="434.5" x2="455.7" y2="437" stroke="#000" stroke-width="1.6"/>
<text x="455.7" y="449.2" font-size="11.7" text-anchor="middle" fill="#222">300</text>
<line x1="516.1" y1="434.5" x2="516.1" y2="437" stroke="#000" stroke-width="1.6"/>
<text x="516.1" y="449.2" font-size="11.7" text-anchor="middle" fill="#222">350</text>
<line x1="576.6" y1="434.5" x2="576.6" y2="437" stroke="#000" stroke-width="1.6"/>
<text x="576.6" y="449.2" font-size="11.7" text-anchor="middle" fill="#222">400</text>
<text x="61.9" y="37.1" font-size="11.7" text-anchor="end" fill="#222">500</text>
<text x="61.9" y="202.3" font-size="11.7" text-anchor="end" fill="#222">100</text>
<text x="61.9" y="438.7" font-size="11.7" text-anchor="end" fill="#222">10</text>
<text x="335" y="465" font-size="13.3" text-anchor="middle" fill="#222" textLength="49.5" lengthAdjust="spacingAndGlyphs">Time (h)</text>
<text transform="translate(17.8,252.5) rotate(-90)" font-size="13.5" text-anchor="middle" fill="#222" textLength="171" lengthAdjust="spacingAndGlyphs">CBG concentration (µmol/L)</text>
<text x="85.6" y="58.6" font-size="27.3" fill="#000">C</text>
<rect x="465.9" y="18.6" width="139.9" height="66.4" fill="#fff" stroke="#333" stroke-width="1.1"/>
<line x1="469.5" y1="28.9" x2="486.5" y2="28.9" stroke="#222" stroke-width="1.6"/>
<text x="490.8" y="33.1" font-size="10.6" fill="#222" textLength="111.6" lengthAdjust="spacingAndGlyphs">Median over individuals</text>
<text x="469.3" y="48.9" font-size="10.4" font-weight="bold" fill="#111" textLength="35.6" lengthAdjust="spacingAndGlyphs">Groups</text>
<rect x="476.3" y="57.9" width="17.4" height="9.3" fill="#22cc22"/>
<rect x="476.3" y="70.6" width="17.4" height="9.3" fill="#3a3af0"/>
<text x="497.3" y="66" font-size="10" fill="#222" textLength="108.6" lengthAdjust="spacingAndGlyphs">CBG_MICELLAR_dosing</text>
<text x="497.3" y="79.1" font-size="10" fill="#222" textLength="76.4" lengthAdjust="spacingAndGlyphs">CBG_OIL_dosing</text>
</g>
<g transform="translate(0,505.2)">
<rect x="68.9" y="30.2" width="532.9" height="404.3" fill="#fbfbfd"/>
<clipPath id="cp01"><rect x="68.9" y="30.2" width="533.9" height="404.3"/></clipPath>
<g clip-path="url(#cp01)">
<path d="M92.9,579.8 L93,413.3 L93.2,317.8 L93.5,245.1 L93.8,203.2 L94.1,173.5 L94.7,131.7 L95.3,129 L95.6,127.4 L96.4,124.3 L97.1,125.7 L97.7,127 L98.9,129.5 L100.1,132.2 L101.3,134.9 L103.1,139 L104.9,143.2 L107.4,148.9 L109.8,154.7 L112.2,160.4 L114.6,166 L117,171.5 L119.5,176.7 L121.9,181.6 L121.9,181.6 L122,171.6 L122.2,157.9 L122.5,138.6 L122.8,122.8 L123.1,109.3 L123.7,86.6 L124.3,85 L124.7,84 L125.4,82.1 L126.1,83.7 L126.7,85 L127.9,87.7 L129.1,90.4 L130.3,93.2 L132.2,97.4 L134,101.6 L136.4,107.4 L138.8,113.1 L141.2,118.8 L143.6,124.5 L146.1,130.1 L148.5,135.5 L150.9,140.8 L150.9,140.8 L151,134.3 L151.2,125.3 L151.5,111.9 L151.8,99.9 L152.1,89.2 L152.7,70.7 L153.3,69.3 L153.7,68.5 L154.4,66.9 L155.1,68.5 L155.7,69.8 L156.9,72.4 L158.2,75 L159.4,77.6 L161.2,81.5 L163,85.3 L165.4,90.4 L167.8,95.5 L170.3,100.6 L172.7,105.6 L175.1,110.5 L177.5,115.5 L179.9,120.3 L179.9,120.3 L180,116.3 L180.2,110.7 L180.5,101.5 L180.8,91.3 L181.1,81.8 L181.7,65 L182.3,63.8 L182.7,63.1 L183.4,61.6 L184.2,63.2 L184.8,64.5 L186,67 L187.2,69.5 L188.4,72 L190.2,75.7 L192,79.2 L194.4,83.9 L196.9,88.4 L199.3,92.8 L201.7,97.1 L204.1,101.3 L206.5,105.3 L208.9,109.3 L209,109.3 L209.1,106.6 L209.3,103.1 L209.6,96.5 L209.9,87 L210.2,78 L210.8,61.9 L211.4,60.7 L211.7,60 L212.5,58.6 L213.2,60.2 L213.8,61.4 L215,63.9 L216.2,66.4 L217.4,68.8 L219.2,72.2 L221,75.6 L223.5,79.8 L225.9,84 L228.3,87.9 L230.7,91.7 L233.1,95.4 L235.6,99.1 L238,102.6 L238,102.6 L238.1,100.6 L238.3,98 L238.6,92.6 L238.9,83.7 L239.2,75 L239.8,59.6 L240.4,58.5 L240.8,57.8 L241.5,56.4 L242.2,57.9 L242.8,59.2 L244,61.6 L245.2,64 L246.4,66.3 L248.3,69.6 L250.1,72.7 L252.5,76.7 L254.9,80.6 L257.3,84.2 L259.7,87.8 L262.2,91.2 L264.6,94.7 L267,98.2 L267,98.2 L267.1,96.6 L267.3,94.6 L267.6,90 L267.9,81.2 L268.2,72.6 L268.8,57.3 L269.4,56.1 L269.8,55.5 L270.5,54.1 L271.2,55.7 L271.8,57 L273.1,59.5 L274.3,61.9 L275.5,64.2 L277.3,67.6 L279.1,70.8 L281.5,74.9 L283.9,78.8 L286.4,82.6 L288.8,86.2 L291.2,89.8 L293.6,93.4 L296,97 L296,97 L296.2,95.3 L296.3,93.3 L296.6,88.5 L296.9,79.7 L297.2,71 L297.8,55.6 L298.4,54.5 L298.8,53.8 L299.5,52.4 L300.3,54 L300.9,55.3 L302.1,57.9 L303.3,60.3 L304.5,62.7 L306.3,66.2 L308.1,69.5 L310.5,73.7 L313,77.7 L315.4,81.5 L317.8,85.3 L320.2,88.9 L322.6,92.6 L325,96.3 L325.1,96.3 L325.2,94.6 L325.4,92.6 L325.7,87.8 L326,79 L326.3,70.3 L326.9,54.9 L327.5,53.8 L327.8,53.1 L328.6,51.7 L329.3,53.3 L329.9,54.6 L331.1,57.2 L332.3,59.7 L333.5,62.1 L335.3,65.5 L337.1,68.8 L339.6,73 L342,77.1 L344.4,80.9 L346.8,84.7 L349.2,88.4 L351.7,92.1 L354.1,95.8 L354.1,95.8 L354.2,94.1 L354.4,92.1 L354.7,87.4 L355,78.6 L355.3,69.9 L355.9,54.5 L356.5,53.4 L356.9,52.7 L357.6,51.3 L358.3,52.9 L358.9,54.2 L360.1,56.7 L361.3,59.2 L362.5,61.6 L364.4,65 L366.2,68.3 L368.6,72.5 L371,76.5 L373.4,80.4 L375.8,84.1 L378.3,87.8 L380.7,91.4 L383.1,95.1 L383.1,95.1 L383.2,93.5 L383.4,91.6 L383.7,87 L384,78.3 L384.3,69.7 L384.9,54.5 L385.5,53.3 L385.9,52.7 L386.6,51.3 L387.3,52.9 L387.9,54.2 L389.2,56.7 L390.4,59.2 L391.6,61.5 L393.4,64.9 L395.2,68.2 L397.6,72.3 L400,76.3 L402.5,80.1 L404.9,83.8 L407.3,87.4 L409.7,91 L412.1,94.7 L412.1,94.7 L412.3,93.1 L412.4,91.3 L412.7,86.8 L413,78.1 L413.3,69.6 L413.9,54.5 L414.6,53.3 L414.9,52.6 L415.6,51.3 L416.4,52.9 L417,54.2 L418.2,56.7 L419.4,59.1 L420.6,61.5 L422.4,64.8 L424.2,68.1 L426.6,72.2 L429.1,76.1 L431.5,79.9 L433.9,83.6 L436.3,87.2 L438.7,90.8 L441.1,94.4 L441.2,94.4 L441.3,92.9 L441.5,91 L441.8,86.6 L442.1,78 L442.4,69.5 L443,54.4 L443.6,53.3 L443.9,52.6 L444.7,51.3 L445.4,52.9 L446,54.2 L447.2,56.7 L448.4,59.1 L449.6,61.5 L451.4,64.8 L453.3,68.1 L455.7,72.2 L458.1,76.1 L460.5,79.9 L462.9,83.6 L465.3,87.2 L467.8,90.8 L470.2,94.4 L470.2,94.4 L470.3,92.9 L470.5,91 L470.8,86.6 L471.1,78 L471.4,69.5 L472,54.4 L472.6,53.3 L473,52.6 L473.7,51.3 L474.4,52.8 L475,54 L476.2,56.4 L477.4,58.6 L478.6,60.8 L480.5,64 L482.3,67 L484.7,70.8 L487.1,74.4 L489.5,77.9 L492,81.2 L494.4,84.5 L496.8,87.8 L499.2,91.1 L501.6,94 L504,96.5 L506.5,99.1 L508.9,102.2 L511.3,105.3 L513.7,108.6 L516.1,111.9 L518.6,115.2 L521,118.5 L523.4,121.7 L525.8,124.7 L528.2,127.7 L530.7,130.5 L533.1,133.4 L535.5,136.3 L537.9,139.3 L540.3,142.3 L542.7,145.3 L545.2,148.3 L547.6,151.3 L550,154.4 L552.4,157.6 L554.8,160.8 L557.3,164.1 L559.7,167.4 L562.1,170.7 L564.5,174 L566.9,177.4 L569.4,180.9 L571.8,184.3 L574.2,187.8 L576.6,191.4 L576.6,528.2 L574.2,517.7 L571.8,507.2 L569.4,496.8 L566.9,486.6 L564.5,476.4 L562.1,466.4 L559.7,456.5 L557.3,446.7 L554.8,437 L552.4,427.4 L550,418 L547.6,408.6 L545.2,399.3 L542.7,390.1 L540.3,381.1 L537.9,372.2 L535.5,363.4 L533.1,354.6 L530.7,346 L528.2,337.6 L525.8,329.5 L523.4,321.6 L521,314 L518.6,306.5 L516.1,299.1 L513.7,291.8 L511.3,284.7 L508.9,277.6 L506.5,270.5 L504,263.5 L501.6,256.5 L499.2,249.9 L496.8,243.6 L494.4,237.2 L492,230.9 L489.5,224.6 L487.1,218.4 L484.7,212.4 L482.3,206.4 L480.5,202 L478.6,197.8 L477.4,195 L476.2,192.2 L475,189.5 L474.4,188.2 L473.7,186.6 L473,188 L472.6,188.6 L472,189.8 L471.4,204.9 L471.1,213.3 L470.8,223 L470.5,236.8 L470.3,246.5 L470.2,253.2 L470.2,253.2 L467.8,246.5 L465.3,239.9 L462.9,233.2 L460.5,226.7 L458.1,220.2 L455.7,213.8 L453.3,207.5 L451.4,202.9 L449.6,198.4 L448.4,195.4 L447.2,192.6 L446,189.7 L445.4,188.3 L444.7,186.6 L443.9,188 L443.6,188.6 L443,189.8 L442.4,204.9 L442.1,213.3 L441.8,223 L441.5,236.8 L441.3,246.5 L441.2,253.2 L441.1,253.2 L438.7,246.5 L436.3,239.9 L433.9,233.2 L431.5,226.7 L429.1,220.2 L426.6,213.8 L424.2,207.5 L422.4,202.9 L420.6,198.4 L419.4,195.4 L418.2,192.6 L417,189.7 L416.4,188.3 L415.6,186.6 L414.9,188 L414.6,188.6 L413.9,189.8 L413.3,204.9 L413,213.4 L412.7,223.1 L412.4,237 L412.3,246.8 L412.1,253.5 L412.1,253.5 L409.7,246.8 L407.3,240.1 L404.9,233.5 L402.5,226.9 L400,220.3 L397.6,213.9 L395.2,207.6 L393.4,203 L391.6,198.5 L390.4,195.5 L389.2,192.6 L387.9,189.7 L387.3,188.3 L386.6,186.6 L385.9,188 L385.5,188.7 L384.9,189.8 L384.3,205 L384,213.6 L383.7,223.4 L383.4,237.3 L383.2,247.1 L383.1,253.9 L383.1,253.9 L380.7,247.2 L378.3,240.4 L375.8,233.7 L373.4,227.1 L371,220.5 L368.6,214.1 L366.2,207.7 L364.4,203.1 L362.5,198.5 L361.3,195.6 L360.1,192.6 L358.9,189.7 L358.3,188.3 L357.6,186.6 L356.9,188 L356.5,188.7 L355.9,189.8 L355.3,205.2 L355,213.9 L354.7,223.8 L354.4,237.9 L354.2,247.8 L354.1,254.6 L354.1,254.6 L351.7,247.8 L349.2,241.1 L346.8,234.4 L344.4,227.7 L342,221.1 L339.6,214.6 L337.1,208.2 L335.3,203.6 L333.5,199 L332.3,196 L331.1,193.1 L329.9,190.2 L329.3,188.7 L328.6,187 L327.8,188.4 L327.5,189.1 L326.9,190.2 L326.3,205.6 L326,214.3 L325.7,224.2 L325.4,238.3 L325.2,248.3 L325.1,255.1 L325,255.1 L322.6,248.4 L320.2,241.6 L317.8,234.9 L315.4,228.3 L313,221.7 L310.5,215.2 L308.1,208.9 L306.3,204.2 L304.5,199.7 L303.3,196.7 L302.1,193.7 L300.9,190.8 L300.3,189.4 L299.5,187.7 L298.8,189.1 L298.4,189.8 L297.8,190.9 L297.2,206.3 L296.9,215 L296.6,224.9 L296.3,239 L296.2,249 L296,255.8 L296,255.8 L293.6,249.2 L291.2,242.5 L288.8,235.9 L286.4,229.3 L283.9,222.9 L281.5,216.5 L279.1,210.2 L277.3,205.6 L275.5,201.2 L274.3,198.2 L273.1,195.3 L271.8,192.5 L271.2,191.1 L270.5,189.4 L269.8,190.8 L269.4,191.5 L268.8,192.6 L268.2,207.9 L267.9,216.5 L267.6,226.3 L267.3,240.4 L267.1,250.2 L267,257 L267,257 L264.6,250.5 L262.2,243.9 L259.7,237.4 L257.3,231 L254.9,224.6 L252.5,218.3 L250.1,212.2 L248.3,207.7 L246.4,203.2 L245.2,200.4 L244,197.5 L242.8,194.7 L242.2,193.4 L241.5,191.7 L240.8,193.1 L240.4,193.8 L239.8,194.9 L239.2,210.3 L238.9,219 L238.6,228.9 L238.3,243 L238.1,253 L238,259.8 L238,259.8 L235.6,253.3 L233.1,246.7 L230.7,240.2 L228.3,233.8 L225.9,227.4 L223.5,221.2 L221,215 L219.2,210.5 L217.4,206.1 L216.2,203.2 L215,200.4 L213.8,197.6 L213.2,196.3 L212.5,194.6 L211.7,196 L211.4,196.7 L210.8,197.9 L210.2,214 L209.9,223.1 L209.6,233.4 L209.3,248.1 L209.1,258.4 L209,265.6 L208.9,265.6 L206.5,259.1 L204.1,252.6 L201.7,246.1 L199.3,239.7 L196.9,233.4 L194.4,227.1 L192,221 L190.2,216.6 L188.4,212.2 L187.2,209.3 L186,206.5 L184.8,203.7 L184.2,202.4 L183.4,200.7 L182.7,202.2 L182.3,202.9 L181.7,204.2 L181.1,220.9 L180.8,230.4 L180.5,241.3 L180.2,256 L180,266.3 L179.9,273.5 L179.9,273.5 L177.5,267.4 L175.1,261.4 L172.7,255.4 L170.3,249.6 L167.8,243.8 L165.4,238.1 L163,232.4 L161.2,228.3 L159.4,224.2 L158.2,221.5 L156.9,218.8 L155.7,216.1 L155.1,214.8 L154.4,213.2 L153.7,214.8 L153.3,215.6 L152.7,216.9 L152.1,235.5 L151.8,246.2 L151.5,258.3 L151.2,273.6 L151,284.1 L150.9,291.5 L150.9,291.5 L148.5,286 L146.1,280.5 L143.6,275.1 L141.2,269.7 L138.8,264.3 L136.4,259 L134,253.7 L132.2,249.8 L130.3,245.8 L129.1,243.2 L127.9,240.6 L126.7,238 L126.1,236.7 L125.4,235.1 L124.7,237 L124.3,238 L123.7,239.6 L123.1,262.3 L122.8,275.9 L122.5,291.6 L122.2,310.7 L122,324.1 L121.9,334 L121.9,334 L119.5,329.4 L117,324.9 L114.6,320.6 L112.2,316.3 L109.8,312.1 L107.4,307.9 L104.9,303.8 L103.1,300.6 L101.3,297.3 L100.1,295.1 L98.9,292.9 L97.7,290.6 L97.1,289.5 L96.4,288.1 L95.6,291.2 L95.3,292.8 L94.7,295.6 L94.1,337.4 L93.8,367 L93.5,408.8 L93.2,479.4 L93,573.2 L92.9,700Z" fill="#fed8c6"/>
<path d="M92.9,606.3 L93,441.5 L93.2,349.2 L93.5,280.4 L93.8,238.9 L94.1,209.2 L94.7,167.4 L95.3,164.7 L95.6,163.1 L96.4,160 L97.1,161.5 L97.7,162.8 L98.9,165.4 L100.1,168.2 L101.3,171 L103.1,175.5 L104.9,180.1 L107.4,186.3 L109.8,192.6 L112.2,198.9 L114.6,205 L117,210.8 L119.5,216.3 L121.9,221.3 L121.9,221.3 L122,210.3 L122.2,195.3 L122.5,174.2 L122.8,158.3 L123.1,144.8 L123.7,122 L124.3,120.4 L124.7,119.5 L125.4,117.6 L126.1,119.1 L126.7,120.5 L127.9,123.1 L129.1,125.9 L130.3,128.6 L132.2,132.8 L134,137 L136.4,142.7 L138.8,148.4 L141.2,154.1 L143.6,159.7 L146.1,165.3 L148.5,170.7 L150.9,175.9 L150.9,176 L151,168.6 L151.2,158.4 L151.5,143.4 L151.8,131.3 L152.1,120.6 L152.7,102 L153.3,100.6 L153.7,99.8 L154.4,98.2 L155.1,99.8 L155.7,101.1 L156.9,103.7 L158.2,106.3 L159.4,109 L161.2,112.9 L163,116.8 L165.4,122 L167.8,127.2 L170.3,132.4 L172.7,137.6 L175.1,142.8 L177.5,148 L179.9,153.1 L179.9,153.2 L180,147.8 L180.2,140.2 L180.5,128.6 L180.8,118.1 L181.1,108.6 L181.7,91.9 L182.3,90.6 L182.7,89.9 L183.4,88.4 L184.2,90 L184.8,91.3 L186,93.9 L187.2,96.5 L188.4,99.1 L190.2,102.9 L192,106.7 L194.4,111.8 L196.9,116.7 L199.3,121.6 L201.7,126.4 L204.1,131.1 L206.5,135.8 L208.9,140.3 L209,140.3 L209.1,136 L209.3,130.1 L209.6,120.5 L209.9,110.8 L210.2,101.7 L210.8,85.6 L211.4,84.5 L211.7,83.7 L212.5,82.3 L213.2,83.9 L213.8,85.2 L215,87.8 L216.2,90.4 L217.4,92.9 L219.2,96.7 L221,100.4 L223.5,105.2 L225.9,110 L228.3,114.6 L230.7,119.2 L233.1,123.6 L235.6,128 L238,132.2 L238,132.2 L238.1,128.8 L238.3,124 L238.6,115.9 L238.9,106.7 L239.2,98.1 L239.8,82.6 L240.4,81.5 L240.8,80.8 L241.5,79.4 L242.2,81 L242.8,82.3 L244,84.9 L245.2,87.4 L246.4,89.9 L248.3,93.6 L250.1,97.2 L252.5,101.8 L254.9,106.4 L257.3,110.8 L259.7,115.2 L262.2,119.4 L264.6,123.6 L267,127.7 L267,127.7 L267.1,124.7 L267.3,120.5 L267.6,113.3 L267.9,104.2 L268.2,95.6 L268.8,80.3 L269.4,79.2 L269.8,78.5 L270.5,77.1 L271.2,78.7 L271.8,80 L273.1,82.6 L274.3,85.2 L275.5,87.7 L277.3,91.4 L279.1,94.9 L281.5,99.6 L283.9,104.1 L286.4,108.5 L288.8,112.8 L291.2,117.1 L293.6,121.2 L296,125.4 L296,125.4 L296.2,122.5 L296.3,118.7 L296.6,111.8 L296.9,102.7 L297.2,94.1 L297.8,78.6 L298.4,77.5 L298.8,76.8 L299.5,75.4 L300.3,77 L300.9,78.4 L302.1,81 L303.3,83.5 L304.5,86 L306.3,89.7 L308.1,93.2 L310.5,97.8 L313,102.3 L315.4,106.6 L317.8,110.9 L320.2,115.1 L322.6,119.3 L325,123.5 L325.1,123.5 L325.2,120.9 L325.4,117.5 L325.7,111.1 L326,102 L326.3,93.4 L326.9,77.9 L327.5,76.8 L327.8,76.1 L328.6,74.7 L329.3,76.3 L329.9,77.7 L331.1,80.3 L332.3,82.8 L333.5,85.3 L335.3,88.9 L337.1,92.4 L339.6,96.9 L342,101.3 L344.4,105.6 L346.8,109.8 L349.2,114 L351.7,118.2 L354.1,122.4 L354.1,122.5 L354.2,120 L354.4,116.7 L354.7,110.6 L355,101.6 L355.3,92.9 L355.9,77.5 L356.5,76.4 L356.9,75.7 L357.6,74.3 L358.3,75.9 L358.9,77.2 L360.1,79.8 L361.3,82.3 L362.5,84.8 L364.4,88.3 L366.2,91.7 L368.6,96.1 L371,100.4 L373.4,104.6 L375.8,108.7 L378.3,112.8 L380.7,117 L383.1,121.2 L383.1,121.2 L383.2,118.9 L383.4,116 L383.7,110.2 L384,101.3 L384.3,92.8 L384.9,77.5 L385.5,76.4 L385.9,75.7 L386.6,74.3 L387.3,75.9 L387.9,77.2 L389.2,79.8 L390.4,82.3 L391.6,84.7 L393.4,88.2 L395.2,91.6 L397.6,95.9 L400,100.2 L402.5,104.3 L404.9,108.4 L407.3,112.5 L409.7,116.6 L412.1,120.8 L412.1,120.8 L412.3,118.6 L412.4,115.7 L412.7,109.9 L413,101.2 L413.3,92.6 L413.9,77.5 L414.6,76.3 L414.9,75.7 L415.6,74.3 L416.4,75.9 L417,77.2 L418.2,79.8 L419.4,82.2 L420.6,84.6 L422.4,88.1 L424.2,91.5 L426.6,95.8 L429.1,100 L431.5,104.1 L433.9,108.2 L436.3,112.2 L438.7,116.3 L441.1,120.5 L441.2,120.5 L441.3,118.3 L441.5,115.4 L441.8,109.8 L442.1,101 L442.4,92.6 L443,77.5 L443.6,76.3 L443.9,75.7 L444.7,74.3 L445.4,75.9 L446,77.2 L447.2,79.8 L448.4,82.2 L449.6,84.6 L451.4,88.1 L453.3,91.5 L455.7,95.8 L458.1,100 L460.5,104.1 L462.9,108.2 L465.3,112.2 L467.8,116.3 L470.2,120.5 L470.2,120.5 L470.3,118.3 L470.5,115.4 L470.8,109.8 L471.1,101 L471.4,92.6 L472,77.5 L472.6,76.3 L473,75.7 L473.7,74.3 L474.4,75.8 L475,77 L476.2,79.4 L477.4,81.7 L478.6,84 L480.5,87.2 L482.3,90.4 L484.7,94.4 L487.1,98.3 L489.5,102.1 L492,105.8 L494.4,109.6 L496.8,113.4 L499.2,117.2 L501.6,121 L504,124.7 L506.5,128.4 L508.9,132.3 L511.3,136.2 L513.7,140.1 L516.1,144 L518.6,148 L521,151.9 L523.4,155.8 L525.8,159.6 L528.2,163.3 L530.7,167.1 L533.1,170.8 L535.5,174.6 L537.9,178.6 L540.3,182.6 L542.7,186.6 L545.2,190.7 L547.6,194.8 L550,198.9 L552.4,203.1 L554.8,207.2 L557.3,211.4 L559.7,215.6 L562.1,219.8 L564.5,224 L566.9,228.3 L569.4,232.5 L571.8,236.8 L574.2,241.1 L576.6,245.4 L576.6,428.3 L574.2,420.8 L571.8,413.4 L569.4,406.1 L566.9,398.8 L564.5,391.6 L562.1,384.5 L559.7,377.4 L557.3,370.4 L554.8,363.4 L552.4,356.5 L550,349.6 L547.6,342.6 L545.2,335.8 L542.7,329.1 L540.3,322.6 L537.9,316.2 L535.5,310.1 L533.1,304.2 L530.7,298.3 L528.2,292.5 L525.8,286.8 L523.4,281.2 L521,275.6 L518.6,270 L516.1,264.5 L513.7,258.9 L511.3,253.4 L508.9,248 L506.5,242.5 L504,237.1 L501.6,231.6 L499.2,226.2 L496.8,220.6 L494.4,214.9 L492,209.2 L489.5,203.3 L487.1,197.5 L484.7,191.7 L482.3,185.9 L480.5,181.7 L478.6,177.5 L477.4,174.7 L476.2,172 L475,169.3 L474.4,168 L473.7,166.5 L473,167.8 L472.6,168.5 L472,169.6 L471.4,184.7 L471.1,193.1 L470.8,202.6 L470.5,215 L470.3,223.6 L470.2,229.5 L470.2,229.4 L467.8,223.6 L465.3,217.6 L462.9,211.5 L460.5,205.4 L458.1,199.2 L455.7,193.1 L453.3,187 L451.4,182.6 L449.6,178.1 L448.4,175.2 L447.2,172.3 L446,169.5 L445.4,168.1 L444.7,166.5 L443.9,167.8 L443.6,168.5 L443,169.6 L442.4,184.7 L442.1,193.1 L441.8,202.6 L441.5,215 L441.3,223.6 L441.2,229.5 L441.1,229.4 L438.7,223.6 L436.3,217.6 L433.9,211.5 L431.5,205.4 L429.1,199.2 L426.6,193.1 L424.2,187 L422.4,182.6 L420.6,178.1 L419.4,175.2 L418.2,172.3 L417,169.5 L416.4,168.1 L415.6,166.5 L414.9,167.8 L414.6,168.5 L413.9,169.6 L413.3,184.8 L413,193.3 L412.7,202.8 L412.4,215.3 L412.3,223.8 L412.1,229.8 L412.1,229.7 L409.7,223.8 L407.3,217.8 L404.9,211.7 L402.5,205.6 L400,199.4 L397.6,193.2 L395.2,187.1 L393.4,182.6 L391.6,178.2 L390.4,175.3 L389.2,172.4 L387.9,169.5 L387.3,168.1 L386.6,166.5 L385.9,167.8 L385.5,168.5 L384.9,169.6 L384.3,184.9 L384,193.4 L383.7,203 L383.4,215.6 L383.2,224.2 L383.1,230.2 L383.1,230.1 L380.7,224.2 L378.3,218.1 L375.8,212 L373.4,205.8 L371,199.6 L368.6,193.4 L366.2,187.3 L364.4,182.7 L362.5,178.3 L361.3,175.3 L360.1,172.4 L358.9,169.6 L358.3,168.1 L357.6,166.5 L356.9,167.8 L356.5,168.5 L355.9,169.6 L355.3,185 L355,193.7 L354.7,203.4 L354.4,215.9 L354.2,224.4 L354.1,230.3 L354.1,230.3 L351.7,224.3 L349.2,218.2 L346.8,212 L344.4,205.9 L342,199.7 L339.6,193.6 L337.1,187.5 L335.3,183 L333.5,178.6 L332.3,175.7 L331.1,172.8 L329.9,170 L329.3,168.5 L328.6,166.9 L327.8,168.2 L327.5,168.9 L326.9,170 L326.3,185.5 L326,194.1 L325.7,203.8 L325.4,216.1 L325.2,224.5 L325.1,230.3 L325,230.3 L322.6,224.3 L320.2,218.2 L317.8,212.1 L315.4,206 L313,199.9 L310.5,193.9 L308.1,188 L306.3,183.6 L304.5,179.2 L303.3,176.3 L302.1,173.5 L300.9,170.6 L300.3,169.2 L299.5,167.6 L298.8,168.9 L298.4,169.6 L297.8,170.7 L297.2,186.2 L296.9,194.8 L296.6,204.5 L296.3,216.4 L296.2,224.4 L296,230 L296,230 L293.6,224 L291.2,218.1 L288.8,212.2 L286.4,206.3 L283.9,200.5 L281.5,194.7 L279.1,189 L277.3,184.8 L275.5,180.6 L274.3,177.8 L273.1,175 L271.8,172.3 L271.2,170.9 L270.5,169.3 L269.8,170.6 L269.4,171.3 L268.8,172.4 L268.2,187.7 L267.9,196.3 L267.6,205.9 L267.3,217.2 L267.1,224.8 L267,230.1 L267,230.1 L264.6,224.4 L262.2,218.7 L259.7,213 L257.3,207.4 L254.9,201.8 L252.5,196.2 L250.1,190.7 L248.3,186.6 L246.4,182.6 L245.2,179.9 L244,177.2 L242.8,174.5 L242.2,173.2 L241.5,171.6 L240.8,172.9 L240.4,173.6 L239.8,174.7 L239.2,190.2 L238.9,198.8 L238.6,208.4 L238.3,219.2 L238.1,226.4 L238,231.4 L238,231.4 L235.6,225.9 L233.1,220.4 L230.7,215 L228.3,209.5 L225.9,204.1 L223.5,198.7 L221,193.4 L219.2,189.4 L217.4,185.4 L216.2,182.7 L215,180 L213.8,177.4 L213.2,176 L212.5,174.5 L211.7,175.9 L211.4,176.6 L210.8,177.8 L210.2,193.8 L209.9,202.9 L209.6,212.8 L209.3,223.4 L209.1,230.2 L209,235.1 L208.9,235.1 L206.5,229.9 L204.1,224.7 L201.7,219.5 L199.3,214.4 L196.9,209.2 L194.4,204.1 L192,199 L190.2,195.1 L188.4,191.2 L187.2,188.6 L186,186 L184.8,183.4 L184.2,182.1 L183.4,180.6 L182.7,182 L182.3,182.7 L181.7,184 L181.1,200.7 L180.8,210.2 L180.5,220.5 L180.2,230.6 L180,236.9 L179.9,241.4 L179.9,241.4 L177.5,236.3 L175.1,231.5 L172.7,226.8 L170.3,222.3 L167.8,217.9 L165.4,213.5 L163,209 L161.2,205.7 L159.4,202.2 L158.2,199.8 L156.9,197.4 L155.7,195 L155.1,193.7 L154.4,192.2 L153.7,193.8 L153.3,194.6 L152.7,196 L152.1,214.5 L151.8,225.2 L151.5,236.7 L151.2,246.4 L151,252.2 L150.9,256.6 L150.9,256.6 L148.5,251.7 L146.1,247.3 L143.6,243.2 L141.2,239.4 L138.8,235.7 L136.4,232.1 L134,228.4 L132.2,225.6 L130.3,222.6 L129.1,220.5 L127.9,218.3 L126.7,216 L126.1,214.8 L125.4,213.3 L124.7,215.2 L124.3,216.2 L123.7,217.8 L123.1,240.6 L122.8,254.1 L122.5,269.1 L122.2,281.9 L122,290 L121.9,296.5 L121.9,296.5 L119.5,292.2 L117,288.6 L114.6,285.6 L112.2,283.1 L109.8,280.7 L107.4,278.5 L104.9,276.1 L103.1,274.2 L101.3,272.1 L100.1,270.5 L98.9,268.7 L97.7,266.8 L97.1,265.8 L96.4,264.4 L95.6,267.6 L95.3,269.2 L94.7,272 L94.1,313.8 L93.8,343.4 L93.5,385.1 L93.2,455.8 L93,549.5 L92.9,700Z" fill="#fec2a6"/>
<path d="M92.9,620.1 L93,455.8 L93.2,364.2 L93.5,296.2 L93.8,254.8 L94.1,225.2 L94.7,183.4 L95.3,180.6 L95.6,179 L96.4,175.9 L97.1,177.3 L97.7,178.6 L98.9,181.1 L100.1,183.6 L101.3,186.2 L103.1,190.1 L104.9,194.1 L107.4,199.5 L109.8,204.9 L112.2,210.3 L114.6,215.7 L117,220.9 L119.5,226 L121.9,230.8 L121.9,230.8 L122,220.9 L122.2,207.5 L122.5,188.5 L122.8,172.8 L123.1,159.2 L123.7,136.5 L124.3,134.9 L124.7,133.9 L125.4,132 L126.1,133.6 L126.7,134.9 L127.9,137.5 L129.1,140.1 L130.3,142.6 L132.2,146.5 L134,150.4 L136.4,155.5 L138.8,160.7 L141.2,165.8 L143.6,170.9 L146.1,176 L148.5,181.1 L150.9,186.1 L150.9,186.2 L151,179.8 L151.2,170.9 L151.5,157.7 L151.8,145.7 L152.1,135 L152.7,116.5 L153.3,115.1 L153.7,114.3 L154.4,112.7 L155.1,114.3 L155.7,115.6 L156.9,118.2 L158.2,120.7 L159.4,123.3 L161.2,127.1 L163,130.9 L165.4,135.9 L167.8,140.8 L170.3,145.6 L172.7,150.4 L175.1,155.1 L177.5,159.8 L179.9,164.3 L179.9,164.3 L180,159.6 L180.2,153.2 L180.5,142.9 L180.8,132.6 L181.1,123.1 L181.7,106.4 L182.3,105.1 L182.7,104.4 L183.4,102.9 L184.2,104.5 L184.8,105.8 L186,108.4 L187.2,110.9 L188.4,113.4 L190.2,117.1 L192,120.8 L194.4,125.6 L196.9,130.3 L199.3,134.9 L201.7,139.4 L204.1,143.8 L206.5,148.1 L208.9,152.3 L209,152.3 L209.1,148.6 L209.3,143.4 L209.6,134.9 L209.9,125.2 L210.2,116.2 L210.8,100.1 L211.4,98.9 L211.7,98.2 L212.5,96.8 L213.2,98.4 L213.8,99.7 L215,102.2 L216.2,104.7 L217.4,107.2 L219.2,110.8 L221,114.4 L223.5,119 L225.9,123.5 L228.3,127.9 L230.7,132.3 L233.1,136.5 L235.6,140.7 L238,144.7 L238,144.8 L238.1,141.7 L238.3,137.6 L238.6,130.3 L238.9,121.2 L239.2,112.5 L239.8,97.1 L240.4,96 L240.8,95.3 L241.5,93.9 L242.2,95.5 L242.8,96.8 L244,99.3 L245.2,101.8 L246.4,104.2 L248.3,107.7 L250.1,111.2 L252.5,115.6 L254.9,120 L257.3,124.2 L259.7,128.4 L262.2,132.5 L264.6,136.6 L267,140.6 L267,140.7 L267.1,138 L267.3,134.3 L267.6,127.7 L267.9,118.7 L268.2,110.1 L268.8,94.8 L269.4,93.6 L269.8,93 L270.5,91.6 L271.2,93.2 L271.8,94.5 L273.1,97 L274.3,99.5 L275.5,102 L277.3,105.5 L279.1,109 L281.5,113.4 L283.9,117.7 L286.4,121.9 L288.8,126.1 L291.2,130.2 L293.6,134.4 L296,138.6 L296,138.6 L296.2,136 L296.3,132.6 L296.6,126.2 L296.9,117.2 L297.2,108.5 L297.8,93.1 L298.4,92 L298.8,91.3 L299.5,89.9 L300.3,91.5 L300.9,92.8 L302.1,95.4 L303.3,97.9 L304.5,100.3 L306.3,103.8 L308.1,107.3 L310.5,111.7 L313,115.9 L315.4,120.1 L317.8,124.3 L320.2,128.4 L322.6,132.7 L325,137 L325.1,137 L325.2,134.6 L325.4,131.5 L325.7,125.5 L326,116.5 L326.3,107.8 L326.9,92.4 L327.5,91.3 L327.8,90.6 L328.6,89.2 L329.3,90.8 L329.9,92.1 L331.1,94.7 L332.3,97.2 L333.5,99.6 L335.3,103.1 L337.1,106.4 L339.6,110.8 L342,115 L344.4,119.1 L346.8,123.2 L349.2,127.4 L351.7,131.7 L354.1,136.1 L354.1,136.1 L354.2,133.8 L354.4,130.9 L354.7,125 L355,116.1 L355.3,107.4 L355.9,92 L356.5,90.9 L356.9,90.2 L357.6,88.8 L358.3,90.4 L358.9,91.7 L360.1,94.2 L361.3,96.7 L362.5,99 L364.4,102.5 L366.2,105.7 L368.6,110 L371,114.1 L373.4,118.1 L375.8,122.1 L378.3,126.3 L380.7,130.5 L383.1,134.9 L383.1,135 L383.2,132.8 L383.4,130.1 L383.7,124.6 L384,115.8 L384.3,107.2 L384.9,92 L385.5,90.8 L385.9,90.2 L386.6,88.8 L387.3,90.4 L387.9,91.7 L389.2,94.2 L390.4,96.6 L391.6,99 L393.4,102.3 L395.2,105.6 L397.6,109.8 L400,113.8 L402.5,117.9 L404.9,121.9 L407.3,125.9 L409.7,130.1 L412.1,134.5 L412.1,134.6 L412.3,132.5 L412.4,129.8 L412.7,124.4 L413,115.6 L413.3,107.1 L413.9,92 L414.6,90.8 L414.9,90.2 L415.6,88.8 L416.4,90.4 L417,91.7 L418.2,94.2 L419.4,96.6 L420.6,98.9 L422.4,102.3 L424.2,105.5 L426.6,109.7 L429.1,113.7 L431.5,117.7 L433.9,121.6 L436.3,125.7 L438.7,129.9 L441.1,134.2 L441.2,134.3 L441.3,132.2 L441.5,129.6 L441.8,124.2 L442.1,115.5 L442.4,107 L443,91.9 L443.6,90.8 L443.9,90.2 L444.7,88.8 L445.4,90.4 L446,91.7 L447.2,94.2 L448.4,96.6 L449.6,98.9 L451.4,102.3 L453.3,105.5 L455.7,109.7 L458.1,113.7 L460.5,117.7 L462.9,121.6 L465.3,125.7 L467.8,129.9 L470.2,134.2 L470.2,134.3 L470.3,132.2 L470.5,129.6 L470.8,124.2 L471.1,115.5 L471.4,107 L472,91.9 L472.6,90.8 L473,90.2 L473.7,88.8 L474.4,90.3 L475,91.5 L476.2,93.8 L477.4,96.1 L478.6,98.3 L480.5,101.4 L482.3,104.4 L484.7,108.2 L487.1,112 L489.5,115.6 L492,119.3 L494.4,123 L496.8,126.9 L499.2,131 L501.6,135.2 L504,139.5 L506.5,143.8 L508.9,148 L511.3,152.1 L513.7,156.2 L516.1,160.3 L518.6,164.4 L521,168.5 L523.4,172.8 L525.8,177.3 L528.2,181.8 L530.7,186.3 L533.1,190.9 L535.5,195.6 L537.9,200.2 L540.3,204.9 L542.7,209.6 L545.2,214.3 L547.6,219 L550,223.8 L552.4,228.5 L554.8,233.3 L557.3,238.1 L559.7,242.9 L562.1,247.7 L564.5,252.5 L566.9,257.3 L569.4,262.2 L571.8,267 L574.2,271.9 L576.6,276.8 L576.6,405.2 L574.2,397 L571.8,388.9 L569.4,380.9 L566.9,373.2 L564.5,365.5 L562.1,358.1 L559.7,351 L557.3,344 L554.8,337.3 L552.4,330.8 L550,324.3 L547.6,318 L545.2,311.8 L542.7,305.6 L540.3,299.7 L537.9,293.9 L535.5,288.3 L533.1,282.8 L530.7,277.3 L528.2,271.9 L525.8,266.5 L523.4,261.1 L521,255.8 L518.6,250.5 L516.1,245.1 L513.7,239.8 L511.3,234.6 L508.9,229.3 L506.5,224 L504,218.7 L501.6,213.4 L499.2,208.1 L496.8,202.8 L494.4,197.4 L492,192.1 L489.5,186.6 L487.1,181.2 L484.7,175.8 L482.3,170.4 L480.5,166.4 L478.6,162.4 L477.4,159.8 L476.2,157.2 L475,154.6 L474.4,153.3 L473.7,151.7 L473,153.1 L472.6,153.7 L472,154.9 L471.4,170 L471.1,178.4 L470.8,187.8 L470.5,198.9 L470.3,206.2 L470.2,211.4 L470.2,211.4 L467.8,205.8 L465.3,200.1 L462.9,194.4 L460.5,188.7 L458.1,182.9 L455.7,177.2 L453.3,171.5 L451.4,167.3 L449.6,163.1 L448.4,160.3 L447.2,157.5 L446,154.8 L445.4,153.4 L444.7,151.7 L443.9,153.1 L443.6,153.7 L443,154.9 L442.4,170 L442.1,178.4 L441.8,187.8 L441.5,198.9 L441.3,206.2 L441.2,211.4 L441.1,211.4 L438.7,205.8 L436.3,200.1 L433.9,194.4 L431.5,188.7 L429.1,182.9 L426.6,177.2 L424.2,171.5 L422.4,167.3 L420.6,163.1 L419.4,160.3 L418.2,157.5 L417,154.8 L416.4,153.4 L415.6,151.7 L414.9,153.1 L414.6,153.7 L413.9,154.9 L413.3,170 L413,178.5 L412.7,187.9 L412.4,199.1 L412.3,206.5 L412.1,211.7 L412.1,211.7 L409.7,206 L407.3,200.3 L404.9,194.6 L402.5,188.9 L400,183.1 L397.6,177.4 L395.2,171.6 L393.4,167.4 L391.6,163.1 L390.4,160.3 L389.2,157.5 L387.9,154.8 L387.3,153.4 L386.6,151.7 L385.9,153.1 L385.5,153.8 L384.9,154.9 L384.3,170.1 L384,178.7 L383.7,188.2 L383.4,199.4 L383.2,206.9 L383.1,212.1 L383.1,212.1 L380.7,206.4 L378.3,200.7 L375.8,194.9 L373.4,189.1 L371,183.3 L368.6,177.5 L366.2,171.8 L364.4,167.5 L362.5,163.2 L361.3,160.4 L360.1,157.6 L358.9,154.8 L358.3,153.4 L357.6,151.7 L356.9,153.1 L356.5,153.8 L355.9,154.9 L355.3,170.3 L355,179 L354.7,188.5 L354.4,199.8 L354.2,207.2 L354.1,212.5 L354.1,212.4 L351.7,206.7 L349.2,200.9 L346.8,195.2 L344.4,189.4 L342,183.6 L339.6,177.9 L337.1,172.1 L335.3,167.9 L333.5,163.6 L332.3,160.8 L331.1,158 L329.9,155.2 L329.3,153.8 L328.6,152.1 L327.8,153.5 L327.5,154.2 L326.9,155.3 L326.3,170.7 L326,179.4 L325.7,189 L325.4,200.1 L325.2,207.5 L325.1,212.6 L325,212.6 L322.6,206.9 L320.2,201.1 L317.8,195.4 L315.4,189.7 L313,184 L310.5,178.3 L308.1,172.7 L306.3,168.4 L304.5,164.2 L303.3,161.4 L302.1,158.7 L300.9,155.9 L300.3,154.5 L299.5,152.8 L298.8,154.2 L298.4,154.9 L297.8,156 L297.2,171.4 L296.9,180.1 L296.6,189.6 L296.3,200.5 L296.2,207.6 L296,212.7 L296,212.6 L293.6,207.1 L291.2,201.5 L288.8,195.9 L286.4,190.4 L283.9,184.9 L281.5,179.4 L279.1,173.9 L277.3,169.8 L275.5,165.7 L274.3,163 L273.1,160.2 L271.8,157.5 L271.2,156.2 L270.5,154.5 L269.8,155.9 L269.4,156.6 L268.8,157.7 L268.2,173 L267.9,181.6 L267.6,191 L267.3,201.5 L267.1,208.4 L267,213.2 L267,213.2 L264.6,207.8 L262.2,202.4 L259.7,197.1 L257.3,191.7 L254.9,186.4 L252.5,181 L250.1,175.7 L248.3,171.7 L246.4,167.7 L245.2,165.1 L244,162.4 L242.8,159.8 L242.2,158.4 L241.5,156.8 L240.8,158.2 L240.4,158.9 L239.8,160 L239.2,175.4 L238.9,184.1 L238.6,193.6 L238.3,203.7 L238.1,210.3 L238,215 L238,215 L235.6,209.7 L233.1,204.4 L230.7,199.2 L228.3,194 L225.9,188.8 L223.5,183.6 L221,178.4 L219.2,174.4 L217.4,170.5 L216.2,167.9 L215,165.3 L213.8,162.6 L213.2,161.3 L212.5,159.7 L211.7,161.1 L211.4,161.8 L210.8,163 L210.2,179.1 L209.9,188.2 L209.6,198 L209.3,208.2 L209.1,214.8 L209,219.4 L208.9,219.4 L206.5,214.2 L204.1,209.1 L201.7,204 L199.3,199 L196.9,194 L194.4,189 L192,184 L190.2,180.2 L188.4,176.4 L187.2,173.9 L186,171.3 L184.8,168.7 L184.2,167.4 L183.4,165.8 L182.7,167.3 L182.3,168 L181.7,169.3 L181.1,186 L180.8,195.5 L180.5,205.8 L180.2,215.9 L180,222.2 L179.9,226.8 L179.9,226.8 L177.5,221.7 L175.1,216.8 L172.7,212.1 L170.3,207.5 L167.8,203 L165.4,198.5 L163,193.9 L161.2,190.5 L159.4,187 L158.2,184.6 L156.9,182.2 L155.7,179.7 L155.1,178.4 L154.4,176.9 L153.7,178.5 L153.3,179.3 L152.7,180.7 L152.1,199.2 L151.8,209.9 L151.5,221.5 L151.2,231.9 L151,238.4 L150.9,243.2 L150.9,243.2 L148.5,238.3 L146.1,233.7 L143.6,229.4 L141.2,225.2 L138.8,221.2 L136.4,217.3 L134,213.3 L132.2,210.2 L130.3,207 L129.1,204.8 L127.9,202.5 L126.7,200.1 L126.1,198.9 L125.4,197.4 L124.7,199.3 L124.3,200.3 L123.7,201.9 L123.1,224.7 L122.8,238.2 L122.5,253.3 L122.2,267.5 L122,276.8 L121.9,284.1 L121.9,284 L119.5,279.6 L117,275.7 L114.6,272.3 L112.2,269.1 L109.8,266.2 L107.4,263.3 L104.9,260.3 L103.1,257.9 L101.3,255.4 L100.1,253.6 L98.9,251.7 L97.7,249.6 L97.1,248.6 L96.4,247.2 L95.6,250.4 L95.3,252 L94.7,254.7 L94.1,296.6 L93.8,326.2 L93.5,367.9 L93.2,438.2 L93,531.6 L92.9,697.1Z" fill="#feac86"/>
<path d="M92.9,632 L93,467.8 L93.2,376.4 L93.5,308.7 L93.8,267.3 L94.1,237.7 L94.7,195.9 L95.3,193.2 L95.6,191.5 L96.4,188.4 L97.1,189.8 L97.7,191 L98.9,193.4 L100.1,195.8 L101.3,198.2 L103.1,201.8 L104.9,205.4 L107.4,210.2 L109.8,215 L112.2,219.9 L114.6,224.7 L117,229.5 L119.5,234.2 L121.9,239 L121.9,239 L122,229.8 L122.2,217.5 L122.5,199.7 L122.8,184.2 L123.1,170.6 L123.7,147.9 L124.3,146.3 L124.7,145.3 L125.4,143.4 L126.1,145 L126.7,146.3 L127.9,148.8 L129.1,151.4 L130.3,153.9 L132.2,157.7 L134,161.5 L136.4,166.4 L138.8,171.3 L141.2,176.2 L143.6,181 L146.1,185.7 L148.5,190.4 L150.9,194.9 L150.9,194.9 L151,189.1 L151.2,181.2 L151.5,168.9 L151.8,157.1 L152.1,146.4 L152.7,127.9 L153.3,126.5 L153.7,125.7 L154.4,124.1 L155.1,125.7 L155.7,127 L156.9,129.5 L158.2,132.1 L159.4,134.6 L161.2,138.3 L163,142 L165.4,146.8 L167.8,151.5 L170.3,156.2 L172.7,160.7 L175.1,165.2 L177.5,169.6 L179.9,173.9 L179.9,173.9 L180,169.6 L180.2,163.8 L180.5,154.2 L180.8,144 L181.1,134.5 L181.7,117.8 L182.3,116.5 L182.7,115.8 L183.4,114.3 L184.2,115.9 L184.8,117.2 L186,119.7 L187.2,122.2 L188.4,124.7 L190.2,128.3 L192,131.9 L194.4,136.5 L196.9,141.1 L199.3,145.5 L201.7,149.9 L204.1,154.2 L206.5,158.4 L208.9,162.6 L209,162.6 L209.1,159.1 L209.3,154.4 L209.6,146.3 L209.9,136.6 L210.2,127.6 L210.8,111.5 L211.4,110.3 L211.7,109.6 L212.5,108.2 L213.2,109.8 L213.8,111.1 L215,113.6 L216.2,116.1 L217.4,118.5 L219.2,122.1 L221,125.5 L223.5,130 L225.9,134.4 L228.3,138.7 L230.7,143 L233.1,147.2 L235.6,151.4 L238,155.5 L238,155.6 L238.1,152.6 L238.3,148.7 L238.6,141.7 L238.9,132.6 L239.2,123.9 L239.8,108.5 L240.4,107.4 L240.8,106.7 L241.5,105.3 L242.2,106.9 L242.8,108.1 L244,110.6 L245.2,113.1 L246.4,115.5 L248.3,118.9 L250.1,122.3 L252.5,126.7 L254.9,131 L257.3,135.1 L259.7,139.3 L262.2,143.4 L264.6,147.6 L267,151.8 L267,151.8 L267.1,149.2 L267.3,145.6 L267.6,139.1 L267.9,130.1 L268.2,121.5 L268.8,106.2 L269.4,105 L269.8,104.4 L270.5,103 L271.2,104.6 L271.8,105.9 L273.1,108.4 L274.3,110.9 L275.5,113.3 L277.3,116.8 L279.1,120.1 L281.5,124.5 L283.9,128.8 L286.4,133 L288.8,137.1 L291.2,141.3 L293.6,145.6 L296,150 L296,150 L296.2,147.4 L296.3,144 L296.6,137.6 L296.9,128.6 L297.2,119.9 L297.8,104.5 L298.4,103.4 L298.8,102.7 L299.5,101.3 L300.3,102.9 L300.9,104.2 L302.1,106.8 L303.3,109.2 L304.5,111.6 L306.3,115.1 L308.1,118.5 L310.5,122.8 L313,127.1 L315.4,131.3 L317.8,135.4 L320.2,139.7 L322.6,144.1 L325,148.6 L325.1,148.7 L325.2,146.2 L325.4,143 L325.7,136.9 L326,127.9 L326.3,119.2 L326.9,103.8 L327.5,102.7 L327.8,102 L328.6,100.6 L329.3,102.2 L329.9,103.5 L331.1,106.1 L332.3,108.5 L333.5,110.9 L335.3,114.4 L337.1,117.7 L339.6,122 L342,126.2 L344.4,130.3 L346.8,134.5 L349.2,138.8 L351.7,143.2 L354.1,147.8 L354.1,147.8 L354.2,145.5 L354.4,142.4 L354.7,136.4 L355,127.5 L355.3,118.8 L355.9,103.4 L356.5,102.3 L356.9,101.6 L357.6,100.2 L358.3,101.8 L358.9,103.1 L360.1,105.6 L361.3,108 L362.5,110.4 L364.4,113.8 L366.2,117 L368.6,121.2 L371,125.3 L373.4,129.4 L375.8,133.5 L378.3,137.7 L380.7,142.1 L383.1,146.8 L383.1,146.8 L383.2,144.6 L383.4,141.7 L383.7,136 L384,127.2 L384.3,118.6 L384.9,103.4 L385.5,102.2 L385.9,101.6 L386.6,100.2 L387.3,101.8 L387.9,103.1 L389.2,105.6 L390.4,108 L391.6,110.3 L393.4,113.7 L395.2,116.9 L397.6,121.1 L400,125.1 L402.5,129.1 L404.9,133.2 L407.3,137.4 L409.7,141.8 L412.1,146.4 L412.1,146.4 L412.3,144.3 L412.4,141.4 L412.7,135.8 L413,127 L413.3,118.5 L413.9,103.4 L414.6,102.2 L414.9,101.6 L415.6,100.2 L416.4,101.8 L417,103 L418.2,105.5 L419.4,107.9 L420.6,110.2 L422.4,113.6 L424.2,116.8 L426.6,120.9 L429.1,125 L431.5,129 L433.9,133 L436.3,137.2 L438.7,141.5 L441.1,146.1 L441.2,146.1 L441.3,144 L441.5,141.2 L441.8,135.6 L442.1,126.9 L442.4,118.4 L443,103.3 L443.6,102.2 L443.9,101.5 L444.7,100.2 L445.4,101.8 L446,103 L447.2,105.5 L448.4,107.9 L449.6,110.2 L451.4,113.6 L453.3,116.8 L455.7,120.9 L458.1,125 L460.5,129 L462.9,133 L465.3,137.2 L467.8,141.5 L470.2,146.1 L470.2,146.1 L470.3,144 L470.5,141.2 L470.8,135.6 L471.1,126.9 L471.4,118.4 L472,103.3 L472.6,102.2 L473,101.5 L473.7,100.2 L474.4,101.7 L475,102.9 L476.2,105.2 L477.4,107.5 L478.6,109.6 L480.5,112.7 L482.3,115.7 L484.7,119.5 L487.1,123.2 L489.5,126.9 L492,130.7 L494.4,134.5 L496.8,138.5 L499.2,142.9 L501.6,147.4 L504,152 L506.5,156.6 L508.9,161.1 L511.3,165.5 L513.7,169.8 L516.1,174.1 L518.6,178.5 L521,182.9 L523.4,187.3 L525.8,191.9 L528.2,196.6 L530.7,201.2 L533.1,206 L535.5,210.7 L537.9,215.6 L540.3,220.4 L542.7,225.3 L545.2,230.2 L547.6,235.1 L550,240.1 L552.4,245 L554.8,249.9 L557.3,254.8 L559.7,259.7 L562.1,264.7 L564.5,269.6 L566.9,274.5 L569.4,279.5 L571.8,284.4 L574.2,289.3 L576.6,294.3 L576.6,375.3 L574.2,367.8 L571.8,360.5 L569.4,353.2 L566.9,346.1 L564.5,339.3 L562.1,332.7 L559.7,326.3 L557.3,320.4 L554.8,314.8 L552.4,309.4 L550,304.1 L547.6,298.8 L545.2,293.5 L542.7,288.3 L540.3,283 L537.9,277.8 L535.5,272.6 L533.1,267.3 L530.7,262.1 L528.2,256.9 L525.8,251.7 L523.4,246.5 L521,241.3 L518.6,236.1 L516.1,230.9 L513.7,225.8 L511.3,220.6 L508.9,215.4 L506.5,210.2 L504,205 L501.6,199.8 L499.2,194.6 L496.8,189.4 L494.4,184.1 L492,178.9 L489.5,173.6 L487.1,168.3 L484.7,163.1 L482.3,157.8 L480.5,153.9 L478.6,150 L477.4,147.4 L476.2,144.8 L475,142.2 L474.4,140.9 L473.7,139.4 L473,140.7 L472.6,141.4 L472,142.5 L471.4,157.6 L471.1,166.1 L470.8,175.4 L470.5,186 L470.3,193 L470.2,197.9 L470.2,197.9 L467.8,192.3 L465.3,186.8 L462.9,181.2 L460.5,175.6 L458.1,170.1 L455.7,164.5 L453.3,158.9 L451.4,154.8 L449.6,150.6 L448.4,147.9 L447.2,145.1 L446,142.4 L445.4,141 L444.7,139.4 L443.9,140.7 L443.6,141.4 L443,142.5 L442.4,157.6 L442.1,166.1 L441.8,175.4 L441.5,186 L441.3,193 L441.2,197.9 L441.1,197.9 L438.7,192.3 L436.3,186.8 L433.9,181.2 L431.5,175.6 L429.1,170.1 L426.6,164.5 L424.2,158.9 L422.4,154.8 L420.6,150.6 L419.4,147.9 L418.2,145.1 L417,142.4 L416.4,141 L415.6,139.4 L414.9,140.7 L414.6,141.4 L413.9,142.5 L413.3,157.7 L413,166.2 L412.7,175.5 L412.4,186.2 L412.3,193.2 L412.1,198.2 L412.1,198.2 L409.7,192.6 L407.3,187 L404.9,181.4 L402.5,175.8 L400,170.2 L397.6,164.6 L395.2,159 L393.4,154.9 L391.6,150.7 L390.4,147.9 L389.2,145.2 L387.9,142.4 L387.3,141 L386.6,139.4 L385.9,140.7 L385.5,141.4 L384.9,142.5 L384.3,157.8 L384,166.4 L383.7,175.8 L383.4,186.5 L383.2,193.6 L383.1,198.6 L383.1,198.6 L380.7,193 L378.3,187.4 L375.8,181.7 L373.4,176.1 L371,170.4 L368.6,164.8 L366.2,159.2 L364.4,155 L362.5,150.8 L361.3,148 L360.1,145.2 L358.9,142.4 L358.3,141 L357.6,139.4 L356.9,140.7 L356.5,141.4 L355.9,142.6 L355.3,158 L355,166.6 L354.7,176.1 L354.4,186.9 L354.2,194.1 L354.1,199.1 L354.1,199 L351.7,193.4 L349.2,187.8 L346.8,182.1 L344.4,176.5 L342,170.8 L339.6,165.2 L337.1,159.6 L335.3,155.4 L333.5,151.2 L332.3,148.4 L331.1,145.6 L329.9,142.8 L329.3,141.5 L328.6,139.8 L327.8,141.1 L327.5,141.8 L326.9,143 L326.3,158.4 L326,167.1 L325.7,176.6 L325.4,187.3 L325.2,194.4 L325.1,199.4 L325,199.3 L322.6,193.8 L320.2,188.1 L317.8,182.5 L315.4,176.9 L313,171.3 L310.5,165.7 L308.1,160.2 L306.3,156 L304.5,151.8 L303.3,149.1 L302.1,146.3 L300.9,143.5 L300.3,142.1 L299.5,140.5 L298.8,141.8 L298.4,142.5 L297.8,143.7 L297.2,159.1 L296.9,167.8 L296.6,177.3 L296.3,187.9 L296.2,194.8 L296,199.7 L296,199.6 L293.6,194.2 L291.2,188.7 L288.8,183.2 L286.4,177.8 L283.9,172.3 L281.5,166.9 L279.1,161.4 L277.3,157.4 L275.5,153.3 L274.3,150.6 L273.1,147.9 L271.8,145.2 L271.2,143.8 L270.5,142.2 L269.8,143.5 L269.4,144.2 L268.8,145.4 L268.2,160.7 L267.9,169.3 L267.6,178.7 L267.3,189 L267.1,195.7 L267,200.5 L267,200.4 L264.6,195.2 L262.2,189.9 L259.7,184.5 L257.3,179.2 L254.9,173.9 L252.5,168.6 L250.1,163.3 L248.3,159.3 L246.4,155.4 L245.2,152.7 L244,150.1 L242.8,147.4 L242.2,146.1 L241.5,144.5 L240.8,145.8 L240.4,146.5 L239.8,147.7 L239.2,163.1 L238.9,171.8 L238.6,181.2 L238.3,191.4 L238.1,198 L238,202.7 L238,202.6 L235.6,197.4 L233.1,192.1 L230.7,186.9 L228.3,181.7 L225.9,176.4 L223.5,171.2 L221,166 L219.2,162.1 L217.4,158.2 L216.2,155.6 L215,152.9 L213.8,150.3 L213.2,149 L212.5,147.4 L211.7,148.8 L211.4,149.5 L210.8,150.7 L210.2,166.7 L209.9,175.8 L209.6,185.7 L209.3,196.1 L209.1,202.9 L209,207.7 L208.9,207.6 L206.5,202.4 L204.1,197.2 L201.7,192.1 L199.3,187 L196.9,181.9 L194.4,176.9 L192,171.8 L190.2,168 L188.4,164.1 L187.2,161.5 L186,159 L184.8,156.4 L184.2,155.1 L183.4,153.5 L182.7,154.9 L182.3,155.7 L181.7,156.9 L181.1,173.7 L180.8,183.2 L180.5,193.5 L180.2,204.2 L180,211 L179.9,215.8 L179.9,215.8 L177.5,210.7 L175.1,205.7 L172.7,200.8 L170.3,196 L167.8,191.2 L165.4,186.4 L163,181.6 L161.2,178 L159.4,174.4 L158.2,171.9 L156.9,169.4 L155.7,166.9 L155.1,165.6 L154.4,164 L153.7,165.6 L153.3,166.5 L152.7,167.8 L152.1,186.4 L151.8,197.1 L151.5,208.8 L151.2,220.4 L151,227.8 L150.9,233.2 L150.9,233.2 L148.5,228.2 L146.1,223.4 L143.6,218.7 L141.2,214.2 L138.8,209.8 L136.4,205.4 L134,200.9 L132.2,197.5 L130.3,194.1 L129.1,191.7 L127.9,189.3 L126.7,186.9 L126.1,185.6 L125.4,184.1 L124.7,186 L124.3,187 L123.7,188.6 L123.1,211.3 L122.8,224.9 L122.5,240.2 L122.2,256 L122,266.6 L121.9,274.7 L121.9,274.7 L119.5,270.2 L117,265.9 L114.6,262 L112.2,258.2 L109.8,254.6 L107.4,251 L104.9,247.3 L103.1,244.5 L101.3,241.6 L100.1,239.6 L98.9,237.5 L97.7,235.3 L97.1,234.2 L96.4,232.8 L95.6,236 L95.3,237.6 L94.7,240.3 L94.1,282.1 L93.8,311.8 L93.5,353.5 L93.2,424.1 L93,517.9 L92.9,683.5Z" fill="#fc9668"/>
<path d="M92.9,645 L93,480.4 L93.2,388.3 L93.5,319.8 L93.8,278.3 L94.1,248.7 L94.7,206.9 L95.3,204.1 L95.6,202.5 L96.4,199.4 L97.1,200.8 L97.7,202 L98.9,204.3 L100.1,206.7 L101.3,209.1 L103.1,212.6 L104.9,216.1 L107.4,220.8 L109.8,225.4 L112.2,230 L114.6,234.5 L117,239.1 L119.5,243.6 L121.9,248 L121.9,248 L122,239 L122.2,227 L122.5,209.7 L122.8,194.2 L123.1,180.6 L123.7,157.9 L124.3,156.3 L124.7,155.3 L125.4,153.4 L126.1,154.9 L126.7,156.2 L127.9,158.8 L129.1,161.3 L130.3,163.9 L132.2,167.6 L134,171.4 L136.4,176.3 L138.8,181.2 L141.2,186 L143.6,190.7 L146.1,195.4 L148.5,200 L150.9,204.6 L150.9,204.6 L151,198.9 L151.2,191 L151.5,178.9 L151.8,167.1 L152.1,156.4 L152.7,137.9 L153.3,136.5 L153.7,135.7 L154.4,134.1 L155.1,135.6 L155.7,136.9 L156.9,139.5 L158.2,142 L159.4,144.6 L161.2,148.3 L163,152 L165.4,156.8 L167.8,161.6 L170.3,166.3 L172.7,170.9 L175.1,175.5 L177.5,180 L179.9,184.5 L179.9,184.5 L180,180.1 L180.2,174 L180.5,164.2 L180.8,154 L181.1,144.5 L181.7,127.7 L182.3,126.5 L182.7,125.7 L183.4,124.3 L184.2,125.8 L184.8,127.1 L186,129.7 L187.2,132.2 L188.4,134.7 L190.2,138.4 L192,142 L194.4,146.8 L196.9,151.4 L199.3,156 L201.7,160.6 L204.1,165.1 L206.5,169.5 L208.9,174 L209,174 L209.1,170.2 L209.3,164.9 L209.6,156.3 L209.9,146.6 L210.2,137.5 L210.8,121.5 L211.4,120.3 L211.7,119.6 L212.5,118.2 L213.2,119.7 L213.8,121 L215,123.6 L216.2,126.1 L217.4,128.6 L219.2,132.2 L221,135.8 L223.5,140.5 L225.9,145.1 L228.3,149.6 L230.7,154.1 L233.1,158.5 L235.6,163 L238,167.4 L238,167.4 L238.1,164.1 L238.3,159.5 L238.6,151.8 L238.9,142.6 L239.2,133.9 L239.8,118.5 L240.4,117.3 L240.8,116.6 L241.5,115.3 L242.2,116.8 L242.8,118.1 L244,120.7 L245.2,123.2 L246.4,125.6 L248.3,129.2 L250.1,132.7 L252.5,137.3 L254.9,141.8 L257.3,146.3 L259.7,150.7 L262.2,155.1 L264.6,159.6 L267,164.1 L267,164.1 L267.1,160.9 L267.3,156.6 L267.6,149.2 L267.9,140.1 L268.2,131.5 L268.8,116.2 L269.4,115 L269.8,114.3 L270.5,113 L271.2,114.6 L271.8,115.9 L273.1,118.5 L274.3,121 L275.5,123.5 L277.3,127.1 L279.1,130.6 L281.5,135.3 L283.9,139.8 L286.4,144.3 L288.8,148.8 L291.2,153.3 L293.6,157.9 L296,162.5 L296,162.5 L296.2,159.4 L296.3,155.1 L296.6,147.7 L296.9,138.6 L297.2,129.9 L297.8,114.5 L298.4,113.3 L298.8,112.6 L299.5,111.3 L300.3,112.9 L300.9,114.2 L302.1,116.8 L303.3,119.4 L304.5,121.9 L306.3,125.5 L308.1,129.1 L310.5,133.8 L313,138.4 L315.4,142.9 L317.8,147.4 L320.2,152 L322.6,156.7 L325,161.4 L325.1,161.5 L325.2,158.4 L325.4,154.3 L325.7,147 L326,137.9 L326.3,129.2 L326.9,113.8 L327.5,112.6 L327.8,111.9 L328.6,110.6 L329.3,112.2 L329.9,113.5 L331.1,116.1 L332.3,118.7 L333.5,121.2 L335.3,124.8 L337.1,128.4 L339.6,133 L342,137.6 L344.4,142.1 L346.8,146.7 L349.2,151.2 L351.7,155.9 L354.1,160.7 L354.1,160.8 L354.2,157.8 L354.4,153.7 L354.7,146.5 L355,137.4 L355.3,128.8 L355.9,113.4 L356.5,112.2 L356.9,111.5 L357.6,110.2 L358.3,111.8 L358.9,113.1 L360.1,115.7 L361.3,118.2 L362.5,120.7 L364.4,124.3 L366.2,127.8 L368.6,132.4 L371,136.9 L373.4,141.3 L375.8,145.8 L378.3,150.4 L380.7,155 L383.1,159.9 L383.1,159.9 L383.2,157 L383.4,153.1 L383.7,146.1 L384,137.2 L384.3,128.6 L384.9,113.3 L385.5,112.2 L385.9,111.5 L386.6,110.2 L387.3,111.8 L387.9,113.1 L389.2,115.7 L390.4,118.2 L391.6,120.6 L393.4,124.2 L395.2,127.7 L397.6,132.2 L400,136.7 L402.5,141.1 L404.9,145.5 L407.3,150 L409.7,154.7 L412.1,159.5 L412.1,159.5 L412.3,156.6 L412.4,152.8 L412.7,145.9 L413,137 L413.3,128.5 L413.9,113.3 L414.6,112.2 L414.9,111.5 L415.6,110.2 L416.4,111.8 L417,113.1 L418.2,115.6 L419.4,118.1 L420.6,120.5 L422.4,124.1 L424.2,127.6 L426.6,132.1 L429.1,136.5 L431.5,140.9 L433.9,145.3 L436.3,149.8 L438.7,154.4 L441.1,159.2 L441.2,159.2 L441.3,156.4 L441.5,152.6 L441.8,145.7 L442.1,136.9 L442.4,128.4 L443,113.3 L443.6,112.2 L443.9,111.5 L444.7,110.2 L445.4,111.8 L446,113.1 L447.2,115.6 L448.4,118.1 L449.6,120.5 L451.4,124.1 L453.3,127.6 L455.7,132.1 L458.1,136.5 L460.5,140.9 L462.9,145.3 L465.3,149.8 L467.8,154.4 L470.2,159.2 L470.2,159.2 L470.3,156.4 L470.5,152.6 L470.8,145.7 L471.1,136.9 L471.4,128.4 L472,113.3 L472.6,112.2 L473,111.5 L473.7,110.2 L474.4,111.7 L475,112.9 L476.2,115.3 L477.4,117.6 L478.6,119.9 L480.5,123.2 L482.3,126.5 L484.7,130.7 L487.1,134.8 L489.5,138.9 L492,143 L494.4,147.2 L496.8,151.4 L499.2,155.9 L501.6,160.5 L504,165.2 L506.5,169.9 L508.9,174.5 L511.3,179 L513.7,183.5 L516.1,188 L518.6,192.5 L521,197.2 L523.4,201.9 L525.8,206.8 L528.2,211.8 L530.7,216.8 L533.1,221.8 L535.5,226.9 L537.9,231.9 L540.3,237 L542.7,242 L545.2,247.1 L547.6,252.1 L550,257.2 L552.4,262.3 L554.8,267.3 L557.3,272.4 L559.7,277.5 L562.1,282.6 L564.5,287.7 L566.9,292.8 L569.4,297.8 L571.8,302.9 L574.2,308 L576.6,313.1 L576.6,348.5 L574.2,343.3 L571.8,338.1 L569.4,333 L566.9,327.8 L564.5,322.6 L562.1,317.4 L559.7,312.3 L557.3,307.1 L554.8,301.9 L552.4,296.8 L550,291.6 L547.6,286.5 L545.2,281.3 L542.7,276.2 L540.3,271 L537.9,265.9 L535.5,260.7 L533.1,255.5 L530.7,250.4 L528.2,245.2 L525.8,240 L523.4,234.9 L521,229.7 L518.6,224.5 L516.1,219.4 L513.7,214.2 L511.3,209.1 L508.9,203.9 L506.5,198.8 L504,193.7 L501.6,188.6 L499.2,183.4 L496.8,178.3 L494.4,173.2 L492,168.1 L489.5,163 L487.1,157.8 L484.7,152.7 L482.3,147.6 L480.5,143.8 L478.6,139.9 L477.4,137.4 L476.2,134.8 L475,132.2 L474.4,131 L473.7,129.4 L473,130.7 L472.6,131.4 L472,132.5 L471.4,147.6 L471.1,156.1 L470.8,165.3 L470.5,175.5 L470.3,182.1 L470.2,186.7 L470.2,186.7 L467.8,181.3 L465.3,175.9 L462.9,170.4 L460.5,165 L458.1,159.6 L455.7,154.1 L453.3,148.7 L451.4,144.6 L449.6,140.6 L448.4,137.8 L447.2,135.1 L446,132.4 L445.4,131.1 L444.7,129.4 L443.9,130.7 L443.6,131.4 L443,132.5 L442.4,147.6 L442.1,156.1 L441.8,165.3 L441.5,175.5 L441.3,182.1 L441.2,186.7 L441.1,186.7 L438.7,181.3 L436.3,175.9 L433.9,170.4 L431.5,165 L429.1,159.6 L426.6,154.1 L424.2,148.7 L422.4,144.6 L420.6,140.6 L419.4,137.8 L418.2,135.1 L417,132.4 L416.4,131.1 L415.6,129.4 L414.9,130.8 L414.6,131.4 L413.9,132.6 L413.3,147.7 L413,156.2 L412.7,165.5 L412.4,175.7 L412.3,182.3 L412.1,187 L412.1,187 L409.7,181.6 L407.3,176.1 L404.9,170.6 L402.5,165.2 L400,159.7 L397.6,154.3 L395.2,148.8 L393.4,144.7 L391.6,140.6 L390.4,137.9 L389.2,135.2 L387.9,132.4 L387.3,131.1 L386.6,129.4 L385.9,130.8 L385.5,131.4 L384.9,132.6 L384.3,147.8 L384,156.4 L383.7,165.7 L383.4,176 L383.2,182.7 L383.1,187.4 L383.1,187.4 L380.7,181.9 L378.3,176.4 L375.8,170.9 L373.4,165.4 L371,159.9 L368.6,154.4 L366.2,148.9 L364.4,144.8 L362.5,140.7 L361.3,137.9 L360.1,135.2 L358.9,132.4 L358.3,131.1 L357.6,129.4 L356.9,130.8 L356.5,131.5 L355.9,132.6 L355.3,148 L355,156.7 L354.7,166.1 L354.4,176.5 L354.2,183.3 L354.1,188 L354.1,188 L351.7,182.5 L349.2,177 L346.8,171.5 L344.4,166 L342,160.4 L339.6,154.9 L337.1,149.4 L335.3,145.3 L333.5,141.1 L332.3,138.4 L331.1,135.6 L329.9,132.9 L329.3,131.5 L328.6,129.8 L327.8,131.2 L327.5,131.9 L326.9,133 L326.3,148.4 L326,157.1 L325.7,166.6 L325.4,176.9 L325.2,183.7 L325.1,188.4 L325,188.4 L322.6,182.9 L320.2,177.4 L317.8,172 L315.4,166.5 L313,161 L310.5,155.5 L308.1,150 L306.3,145.9 L304.5,141.8 L303.3,139 L302.1,136.3 L300.9,133.5 L300.3,132.2 L299.5,130.5 L298.8,131.9 L298.4,132.6 L297.8,133.7 L297.2,149.1 L296.9,157.8 L296.6,167.3 L296.3,177.6 L296.2,184.2 L296,189 L296,188.9 L293.6,183.6 L291.2,178.2 L288.8,172.8 L286.4,167.4 L283.9,162.1 L281.5,156.7 L279.1,151.3 L277.3,147.3 L275.5,143.3 L274.3,140.6 L273.1,137.9 L271.8,135.2 L271.2,133.8 L270.5,132.2 L269.8,133.6 L269.4,134.2 L268.8,135.4 L268.2,150.7 L267.9,159.3 L267.6,168.7 L267.3,178.8 L267.1,185.4 L267,190 L267,190 L264.6,184.7 L262.2,179.4 L259.7,174.2 L257.3,168.9 L254.9,163.7 L252.5,158.4 L250.1,153.2 L248.3,149.3 L246.4,145.3 L245.2,142.7 L244,140.1 L242.8,137.4 L242.2,136.1 L241.5,134.5 L240.8,135.9 L240.4,136.6 L239.8,137.7 L239.2,153.1 L238.9,161.8 L238.6,171.2 L238.3,181.4 L238.1,187.9 L238,192.5 L238,192.5 L235.6,187.2 L233.1,182 L230.7,176.8 L228.3,171.6 L225.9,166.4 L223.5,161.2 L221,156 L219.2,152.1 L217.4,148.2 L216.2,145.6 L215,143 L213.8,140.3 L213.2,139 L212.5,137.4 L211.7,138.8 L211.4,139.5 L210.8,140.7 L210.2,156.8 L209.9,165.8 L209.6,175.7 L209.3,186.3 L209.1,193.1 L209,197.9 L208.9,197.9 L206.5,192.7 L204.1,187.5 L201.7,182.4 L199.3,177.2 L196.9,172.1 L194.4,167 L192,161.9 L190.2,158 L188.4,154.2 L187.2,151.6 L186,149 L184.8,146.4 L184.2,145.1 L183.4,143.5 L182.7,145 L182.3,145.7 L181.7,147 L181.1,163.7 L180.8,173.2 L180.5,183.6 L180.2,194.6 L180,201.7 L179.9,206.8 L179.9,206.8 L177.5,201.6 L175.1,196.5 L172.7,191.5 L170.3,186.5 L167.8,181.6 L165.4,176.6 L163,171.7 L161.2,167.9 L159.4,164.2 L158.2,161.6 L156.9,159.1 L155.7,156.5 L155.1,155.2 L154.4,153.7 L153.7,155.3 L153.3,156.1 L152.7,157.4 L152.1,176 L151.8,186.7 L151.5,198.5 L151.2,210.9 L151,219.1 L150.9,225 L150.9,224.9 L148.5,219.9 L146.1,214.9 L143.6,210 L141.2,205.2 L138.8,200.4 L136.4,195.6 L134,190.9 L132.2,187.3 L130.3,183.6 L129.1,181.1 L127.9,178.7 L126.7,176.1 L126.1,174.9 L125.4,173.3 L124.7,175.2 L124.3,176.2 L123.7,177.8 L123.1,200.6 L122.8,214.1 L122.5,229.6 L122.2,246.6 L122,258.2 L121.9,267 L121.9,267 L119.5,262.4 L117,257.9 L114.6,253.6 L112.2,249.3 L109.8,245.1 L107.4,241 L104.9,236.8 L103.1,233.6 L101.3,230.4 L100.1,228.2 L98.9,226 L97.7,223.7 L97.1,222.5 L96.4,221.1 L95.6,224.3 L95.3,225.9 L94.7,228.6 L94.1,270.4 L93.8,300.1 L93.5,341.8 L93.2,412.7 L93,506.6 L92.9,672.3Z" fill="#fa8048"/>
<path d="M92.9,663.2 L93,497.3 L93.2,402.8 L93.5,331.4 L93.8,289.5 L94.1,259.9 L94.7,218.1 L95.3,215.3 L95.6,213.7 L96.4,210.6 L97.1,212 L97.7,213.2 L98.9,215.6 L100.1,218 L101.3,220.4 L103.1,223.9 L104.9,227.5 L107.4,232.3 L109.8,237 L112.2,241.8 L114.6,246.5 L117,251.3 L119.5,256 L121.9,260.8 L121.9,260.8 L122,251.2 L122.2,238.4 L122.5,220 L122.8,204.4 L123.1,190.8 L123.7,168.1 L124.3,166.5 L124.7,165.5 L125.4,163.6 L126.1,165.2 L126.7,166.5 L127.9,169 L129.1,171.6 L130.3,174.2 L132.2,178.1 L134,182 L136.4,187.2 L138.8,192.4 L141.2,197.6 L143.6,202.7 L146.1,207.9 L148.5,213.1 L150.9,218.3 L150.9,218.3 L151,211.8 L151.2,202.8 L151.5,189.3 L151.8,177.3 L152.1,166.6 L152.7,148.1 L153.3,146.7 L153.7,145.9 L154.4,144.3 L155.1,145.9 L155.7,147.2 L156.9,149.8 L158.2,152.4 L159.4,155 L161.2,159 L163,162.9 L165.4,168.1 L167.8,173.3 L170.3,178.6 L172.7,183.8 L175.1,189 L177.5,194.3 L179.9,199.5 L179.9,199.5 L180,194 L180.2,186.3 L180.5,174.7 L180.8,164.2 L181.1,154.7 L181.7,137.9 L182.3,136.7 L182.7,136 L183.4,134.5 L184.2,136.1 L184.8,137.4 L186,140 L187.2,142.7 L188.4,145.3 L190.2,149.3 L192,153.2 L194.4,158.5 L196.9,163.7 L199.3,169 L201.7,174.3 L204.1,179.6 L206.5,184.8 L208.9,190.1 L209,190.1 L209.1,185 L209.3,177.8 L209.6,166.8 L209.9,156.8 L210.2,147.8 L210.8,131.7 L211.4,130.5 L211.7,129.8 L212.5,128.4 L213.2,130 L213.8,131.3 L215,134 L216.2,136.6 L217.4,139.3 L219.2,143.2 L221,147.2 L223.5,152.5 L225.9,157.8 L228.3,163.1 L230.7,168.4 L233.1,173.7 L235.6,179 L238,184.3 L238,184.3 L238.1,179.5 L238.3,172.7 L238.6,162.3 L238.9,152.8 L239.2,144.1 L239.8,128.7 L240.4,127.5 L240.8,126.9 L241.5,125.5 L242.2,127.1 L242.8,128.4 L244,131.1 L245.2,133.7 L246.4,136.4 L248.3,140.4 L250.1,144.3 L252.5,149.7 L254.9,155 L257.3,160.3 L259.7,165.6 L262.2,170.9 L264.6,176.2 L267,181.5 L267,181.5 L267.1,176.8 L267.3,170 L267.6,159.7 L267.9,150.3 L268.2,141.7 L268.8,126.4 L269.4,125.2 L269.8,124.5 L270.5,123.2 L271.2,124.8 L271.8,126.2 L273.1,128.9 L274.3,131.6 L275.5,134.3 L277.3,138.4 L279.1,142.4 L281.5,147.8 L283.9,153.2 L286.4,158.7 L288.8,164.1 L291.2,169.5 L293.6,174.9 L296,180.3 L296,180.3 L296.2,175.5 L296.3,168.7 L296.6,158.3 L296.9,148.8 L297.2,140.1 L297.8,124.7 L298.4,123.5 L298.8,122.9 L299.5,121.5 L300.3,123.2 L300.9,124.5 L302.1,127.3 L303.3,130 L304.5,132.8 L306.3,136.9 L308.1,141.1 L310.5,146.6 L313,152.1 L315.4,157.6 L317.8,163.1 L320.2,168.6 L322.6,174.1 L325,179.6 L325.1,179.6 L325.2,174.8 L325.4,168 L325.7,157.6 L326,148.1 L326.3,139.4 L326.9,124 L327.5,122.8 L327.8,122.2 L328.6,120.8 L329.3,122.5 L329.9,123.8 L331.1,126.6 L332.3,129.4 L333.5,132.1 L335.3,136.3 L337.1,140.4 L339.6,145.9 L342,151.5 L344.4,157 L346.8,162.5 L349.2,168 L351.7,173.6 L354.1,179.1 L354.1,179.1 L354.2,174.3 L354.4,167.5 L354.7,157.1 L355,147.6 L355.3,139 L355.9,123.6 L356.5,122.4 L356.9,121.8 L357.6,120.4 L358.3,122 L358.9,123.4 L360.1,126.2 L361.3,128.9 L362.5,131.7 L364.4,135.8 L366.2,139.9 L368.6,145.4 L371,150.9 L373.4,156.4 L375.8,161.9 L378.3,167.4 L380.7,172.9 L383.1,178.4 L383.1,178.4 L383.2,173.7 L383.4,167 L383.7,156.7 L384,147.4 L384.3,138.8 L384.9,123.6 L385.5,122.4 L385.9,121.7 L386.6,120.4 L387.3,122 L387.9,123.4 L389.2,126.1 L390.4,128.9 L391.6,131.6 L393.4,135.7 L395.2,139.8 L397.6,145.2 L400,150.7 L402.5,156.2 L404.9,161.6 L407.3,167.1 L409.7,172.5 L412.1,178 L412.1,178 L412.3,173.3 L412.4,166.7 L412.7,156.5 L413,147.2 L413.3,138.7 L413.9,123.5 L414.6,122.4 L414.9,121.7 L415.6,120.4 L416.4,122 L417,123.4 L418.2,126.1 L419.4,128.8 L420.6,131.5 L422.4,135.6 L424.2,139.7 L426.6,145.1 L429.1,150.5 L431.5,156 L433.9,161.4 L436.3,166.8 L438.7,172.3 L441.1,177.7 L441.2,177.7 L441.3,173.1 L441.5,166.5 L441.8,156.3 L442.1,147.1 L442.4,138.6 L443,123.5 L443.6,122.4 L443.9,121.7 L444.7,120.4 L445.4,122 L446,123.4 L447.2,126.1 L448.4,128.8 L449.6,131.5 L451.4,135.6 L453.3,139.7 L455.7,145.1 L458.1,150.5 L460.5,156 L462.9,161.4 L465.3,166.8 L467.8,172.3 L470.2,177.7 L470.2,177.7 L470.3,173.1 L470.5,166.5 L470.8,156.3 L471.1,147.1 L471.4,138.6 L472,123.5 L472.6,122.4 L473,121.7 L473.7,120.4 L474.4,121.9 L475,123.2 L476.2,125.8 L477.4,128.3 L478.6,130.9 L480.5,134.7 L482.3,138.6 L484.7,143.7 L487.1,148.8 L489.5,153.9 L492,159.1 L494.4,164.2 L496.8,169.3 L499.2,174.4 L501.6,179.5 L504,184.7 L506.5,189.8 L508.9,194.9 L511.3,200 L513.7,205.2 L516.1,210.3 L518.6,215.4 L521,220.5 L523.4,225.6 L525.8,230.8 L528.2,235.9 L530.7,241 L533.1,246.1 L535.5,251.2 L537.9,256.4 L540.3,261.5 L542.7,266.6 L545.2,271.7 L547.6,276.8 L550,282 L552.4,287.1 L554.8,292.2 L557.3,297.3 L559.7,302.5 L562.1,307.6 L564.5,312.7 L566.9,317.8 L569.4,322.9 L571.8,328.1 L574.2,333.2 L576.6,338.3" fill="none" stroke="#0a0a0a" stroke-width="1.65" stroke-linejoin="round"/>
</g>
<line x1="68.9" y1="30.3" x2="68.9" y2="440.8" stroke="#000" stroke-width="2.1"/>
<line x1="62.3" y1="434.5" x2="602.7" y2="434.5" stroke="#000" stroke-width="1.8"/>
<line x1="601.8" y1="434.5" x2="601.8" y2="440.4" stroke="#000" stroke-width="1.8"/>
<line x1="62.3" y1="31.2" x2="68.9" y2="31.2" stroke="#000" stroke-width="1.8"/>
<line x1="65.7" y1="363" x2="68.9" y2="363" stroke="#000" stroke-width="1.5"/>
<line x1="65.7" y1="321.2" x2="68.9" y2="321.2" stroke="#000" stroke-width="1.5"/>
<line x1="65.7" y1="291.6" x2="68.9" y2="291.6" stroke="#000" stroke-width="1.5"/>
<line x1="65.7" y1="268.6" x2="68.9" y2="268.6" stroke="#000" stroke-width="1.5"/>
<line x1="65.7" y1="249.8" x2="68.9" y2="249.8" stroke="#000" stroke-width="1.5"/>
<line x1="65.7" y1="233.9" x2="68.9" y2="233.9" stroke="#000" stroke-width="1.5"/>
<line x1="65.7" y1="220.1" x2="68.9" y2="220.1" stroke="#000" stroke-width="1.5"/>
<line x1="65.7" y1="208" x2="68.9" y2="208" stroke="#000" stroke-width="1.5"/>
<line x1="64.9" y1="197.1" x2="68.9" y2="197.1" stroke="#000" stroke-width="1.5"/>
<line x1="65.7" y1="125.6" x2="68.9" y2="125.6" stroke="#000" stroke-width="1.5"/>
<line x1="65.7" y1="83.8" x2="68.9" y2="83.8" stroke="#000" stroke-width="1.5"/>
<line x1="65.7" y1="54.2" x2="68.9" y2="54.2" stroke="#000" stroke-width="1.5"/>
<line x1="92.8" y1="434.5" x2="92.8" y2="437" stroke="#000" stroke-width="1.6"/>
<text x="92.8" y="449.2" font-size="11.7" text-anchor="middle" fill="#222">0</text>
<line x1="153.3" y1="434.5" x2="153.3" y2="437" stroke="#000" stroke-width="1.6"/>
<text x="153.3" y="449.2" font-size="11.7" text-anchor="middle" fill="#222">50</text>
<line x1="213.8" y1="434.5" x2="213.8" y2="437" stroke="#000" stroke-width="1.6"/>
<text x="213.8" y="449.2" font-size="11.7" text-anchor="middle" fill="#222">100</text>
<line x1="274.3" y1="434.5" x2="274.3" y2="437" stroke="#000" stroke-width="1.6"/>
<text x="274.3" y="449.2" font-size="11.7" text-anchor="middle" fill="#222">150</text>
<line x1="334.7" y1="434.5" x2="334.7" y2="437" stroke="#000" stroke-width="1.6"/>
<text x="334.7" y="449.2" font-size="11.7" text-anchor="middle" fill="#222">200</text>
<line x1="395.2" y1="434.5" x2="395.2" y2="437" stroke="#000" stroke-width="1.6"/>
<text x="395.2" y="449.2" font-size="11.7" text-anchor="middle" fill="#222">250</text>
<line x1="455.7" y1="434.5" x2="455.7" y2="437" stroke="#000" stroke-width="1.6"/>
<text x="455.7" y="449.2" font-size="11.7" text-anchor="middle" fill="#222">300</text>
<line x1="516.1" y1="434.5" x2="516.1" y2="437" stroke="#000" stroke-width="1.6"/>
<text x="516.1" y="449.2" font-size="11.7" text-anchor="middle" fill="#222">350</text>
<line x1="576.6" y1="434.5" x2="576.6" y2="437" stroke="#000" stroke-width="1.6"/>
<text x="576.6" y="449.2" font-size="11.7" text-anchor="middle" fill="#222">400</text>
<text x="61.9" y="35.4" font-size="11.7" text-anchor="end" fill="#222">5.00e4</text>
<text x="61.9" y="201.3" font-size="11.7" text-anchor="end" fill="#222">10000</text>
<text x="61.9" y="438.7" font-size="11.7" text-anchor="end" fill="#222">1000</text>
<text x="335" y="465" font-size="13.3" text-anchor="middle" fill="#222" textLength="49.5" lengthAdjust="spacingAndGlyphs">Time (h)</text>
<text transform="translate(17.8,252.5) rotate(-90)" font-size="13.5" text-anchor="middle" fill="#222" textLength="186" lengthAdjust="spacingAndGlyphs">CBG-G concentration (µmol/L)</text>
<text x="335.2" y="16.5" font-size="13.3" text-anchor="middle" fill="#222" textLength="143.6" lengthAdjust="spacingAndGlyphs">CBG_MICELLAR_dosing</text>
<text x="79.6" y="50.9" font-size="27.3" fill="#000">D</text>
</g>
<g transform="translate(645,505.2)">
<rect x="68.9" y="30.2" width="532.9" height="404.3" fill="#fbfbfd"/>
<clipPath id="cp11"><rect x="68.9" y="30.2" width="533.9" height="404.3"/></clipPath>
<g clip-path="url(#cp11)">
<path d="M92.9,630.3 L93,465.4 L93.2,372.9 L93.5,304.6 L93.8,265.7 L94.1,238.8 L94.7,202.6 L95.3,179.2 L95.6,169 L96.4,155.6 L97.1,148.5 L97.7,144.4 L98.9,139.2 L100.1,136.3 L101.3,137.2 L103.1,138.7 L104.9,140.4 L107.4,143.8 L109.8,149.1 L112.2,155.5 L114.6,162.4 L117,168.9 L119.5,174.4 L121.9,178.1 L121.9,178.2 L122,173.6 L122.2,167.5 L122.5,158.9 L122.8,152 L123.1,146.2 L123.7,137.4 L124.3,131.1 L124.7,128.2 L125.4,123.9 L126.1,121 L126.7,119.3 L127.9,117.1 L129.1,115.8 L130.3,116.5 L132.2,117.8 L134,119.1 L136.4,121.3 L138.8,124 L141.2,127.1 L143.6,130.3 L146.1,133.4 L148.5,136.3 L150.9,138.7 L150.9,138.7 L151,136 L151.2,132.3 L151.5,127.1 L151.8,122.6 L152.1,118.9 L152.7,113 L153.3,108.8 L153.7,106.8 L154.4,103.8 L155.1,101.8 L155.7,100.6 L156.9,99 L158.2,98.1 L159.4,98.7 L161.2,99.8 L163,101 L165.4,102.9 L167.8,105.2 L170.3,107.9 L172.7,110.7 L175.1,113.5 L177.5,116 L179.9,118.1 L179.9,118.1 L180,116.3 L180.2,113.8 L180.5,110.2 L180.8,107 L181.1,104.3 L181.7,100 L182.3,96.7 L182.7,95.2 L183.4,93 L184.2,91.6 L184.8,90.7 L186,89.6 L187.2,88.9 L188.4,89.5 L190.2,90.5 L192,91.6 L194.4,93.4 L196.9,95.7 L199.3,98.3 L201.7,101 L204.1,103.6 L206.5,106 L208.9,108 L209,108 L209.1,106.7 L209.3,104.8 L209.6,102 L209.9,99.5 L210.2,97.4 L210.8,93.9 L211.4,91.3 L211.7,90.1 L212.5,88.3 L213.2,87.2 L213.8,86.5 L215,85.7 L216.2,85.2 L217.4,85.8 L219.2,86.8 L221,87.9 L223.5,89.7 L225.9,91.9 L228.3,94.5 L230.7,97.2 L233.1,99.9 L235.6,102.3 L238,104.2 L238,104.3 L238.1,102.9 L238.3,101.1 L238.6,98.3 L238.9,95.9 L239.2,93.8 L239.8,90.3 L240.4,87.6 L240.8,86.4 L241.5,84.6 L242.2,83.6 L242.8,82.9 L244,82.1 L245.2,81.6 L246.4,82.1 L248.3,83.1 L250.1,84 L252.5,85.7 L254.9,87.7 L257.3,90 L259.7,92.4 L262.2,94.7 L264.6,96.9 L267,98.7 L267,98.7 L267.1,97.5 L267.3,96 L267.6,93.6 L267.9,91.6 L268.2,89.8 L268.8,86.8 L269.4,84.5 L269.8,83.5 L270.5,82 L271.2,81 L271.8,80.5 L273.1,79.7 L274.3,79.3 L275.5,79.9 L277.3,80.8 L279.1,81.9 L281.5,83.5 L283.9,85.5 L286.4,87.7 L288.8,90.1 L291.2,92.3 L293.6,94.5 L296,96.3 L296,96.3 L296.2,95.2 L296.3,93.8 L296.6,91.6 L296.9,89.7 L297.2,88.1 L297.8,85.4 L298.4,83.3 L298.8,82.4 L299.5,81 L300.3,80.1 L300.9,79.5 L302.1,78.8 L303.3,78.4 L304.5,79 L306.3,80.1 L308.1,81.1 L310.5,82.8 L313,84.6 L315.4,86.7 L317.8,88.8 L320.2,90.9 L322.6,92.8 L325,94.7 L325.1,94.7 L325.2,93.7 L325.4,92.2 L325.7,90.1 L326,88.3 L326.3,86.7 L326.9,84.1 L327.5,82.1 L327.8,81.2 L328.6,79.8 L329.3,78.9 L329.9,78.4 L331.1,77.7 L332.3,77.3 L333.5,77.9 L335.3,78.9 L337.1,80.1 L339.6,81.8 L342,83.6 L344.4,85.6 L346.8,87.6 L349.2,89.6 L351.7,91.6 L354.1,93.5 L354.1,93.5 L354.2,92.5 L354.4,91.1 L354.7,89.1 L355,87.3 L355.3,85.8 L355.9,83.3 L356.5,81.5 L356.9,80.6 L357.6,79.3 L358.3,78.4 L358.9,77.9 L360.1,77.2 L361.3,76.8 L362.5,77.4 L364.4,78.5 L366.2,79.6 L368.6,81.2 L371,83 L373.4,84.8 L375.8,86.7 L378.3,88.6 L380.7,90.4 L383.1,92.3 L383.1,92.3 L383.2,91.3 L383.4,90 L383.7,88 L384,86.3 L384.3,84.9 L384.9,82.6 L385.5,80.9 L385.9,80.1 L386.6,78.8 L387.3,77.9 L387.9,77.4 L389.2,76.7 L390.4,76.3 L391.6,76.9 L393.4,78 L395.2,79.2 L397.6,80.8 L400,82.6 L402.5,84.3 L404.9,86.1 L407.3,87.9 L409.7,89.7 L412.1,91.6 L412.1,91.6 L412.3,90.6 L412.4,89.3 L412.7,87.4 L413,85.8 L413.3,84.3 L413.9,82.1 L414.6,80.4 L414.9,79.6 L415.6,78.4 L416.4,77.5 L417,77 L418.2,76.3 L419.4,75.9 L420.6,76.5 L422.4,77.6 L424.2,78.7 L426.6,80.4 L429.1,82 L431.5,83.7 L433.9,85.5 L436.3,87.3 L438.7,89.1 L441.1,90.9 L441.2,90.9 L441.3,89.9 L441.5,88.6 L441.8,86.7 L442.1,85.1 L442.4,83.6 L443,81.4 L443.6,79.7 L443.9,78.9 L444.7,77.7 L445.4,76.8 L446,76.3 L447.2,75.6 L448.4,75.2 L449.6,75.8 L451.4,76.9 L453.3,78 L455.7,79.6 L458.1,81.3 L460.5,83 L462.9,84.7 L465.3,86.5 L467.8,88.3 L470.2,90.1 L470.2,90.1 L470.3,89.2 L470.5,87.9 L470.8,86.1 L471.1,84.5 L471.4,83.2 L472,81 L472.6,79.4 L473,78.7 L473.7,77.5 L474.4,76.6 L475,76.1 L476.2,75.5 L477.4,75.1 L478.6,75.7 L480.5,76.7 L482.3,77.2 L484.7,77.7 L487.1,78.4 L489.5,79.2 L492,81.7 L494.4,84.6 L496.8,87.6 L499.2,90.4 L501.6,93.1 L504,95.8 L506.5,98.5 L508.9,101.1 L511.3,103.8 L513.7,106.4 L516.1,109.1 L518.6,111.7 L521,114.4 L523.4,116.9 L525.8,119.4 L528.2,121.9 L530.7,124.2 L533.1,126.5 L535.5,128.7 L537.9,130.9 L540.3,133 L542.7,135.1 L545.2,137 L547.6,139 L550,141.1 L552.4,143.3 L554.8,145.5 L557.3,147.8 L559.7,150 L562.1,152.4 L564.5,154.7 L566.9,156.8 L569.4,158.8 L571.8,160.7 L574.2,162.4 L576.6,164.1 L576.6,458.5 L574.2,448.4 L571.8,438.4 L569.4,428.5 L566.9,418.7 L564.5,409 L562.1,399.3 L559.7,389.9 L557.3,380.7 L554.8,371.8 L552.4,363.1 L550,354.8 L547.6,346.8 L545.2,339.1 L542.7,331.7 L540.3,324.5 L537.9,317.5 L535.5,310.7 L533.1,304.1 L530.7,297.8 L528.2,291.6 L525.8,285.6 L523.4,279.9 L521,274.4 L518.6,269.1 L516.1,264.1 L513.7,259.4 L511.3,255 L508.9,250.9 L506.5,247.1 L504,243.6 L501.6,240.5 L499.2,237.6 L496.8,234.9 L494.4,232.1 L492,229.4 L489.5,227.3 L487.1,225.3 L484.7,224 L482.3,223.9 L480.5,224.3 L478.6,224.6 L477.4,225 L476.2,225.6 L475,226.6 L474.4,227.2 L473.7,228.3 L473,229.5 L472.6,230.2 L472,231.6 L471.4,233.2 L471.1,234.1 L470.8,235.1 L470.5,236.1 L470.3,236.8 L470.2,237.3 L470.2,237.2 L467.8,232.8 L465.3,229.3 L462.9,226.7 L460.5,224.9 L458.1,223.9 L455.7,223.7 L453.3,224.2 L451.4,224.5 L449.6,224.8 L448.4,225.2 L447.2,225.8 L446,226.9 L445.4,227.6 L444.7,228.6 L443.9,230 L443.6,230.7 L443,232.1 L442.4,233.8 L442.1,234.7 L441.8,235.8 L441.5,236.9 L441.3,237.6 L441.2,238.1 L441.1,238 L438.7,233.6 L436.3,230 L433.9,227.4 L431.5,225.6 L429.1,224.6 L426.6,224.4 L424.2,224.9 L422.4,225.2 L420.6,225.5 L419.4,225.9 L418.2,226.5 L417,227.6 L416.4,228.3 L415.6,229.3 L414.9,230.7 L414.6,231.4 L413.9,232.8 L413.3,234.5 L413,235.4 L412.7,236.5 L412.4,237.6 L412.3,238.3 L412.1,238.8 L412.1,238.7 L409.7,234.2 L407.3,230.6 L404.9,227.9 L402.5,226 L400,225 L397.6,224.8 L395.2,225.3 L393.4,225.6 L391.6,225.9 L390.4,226.3 L389.2,227 L387.9,228 L387.3,228.8 L386.6,229.9 L385.9,231.2 L385.5,232 L384.9,233.4 L384.3,235.1 L384,236.1 L383.7,237.1 L383.4,238.2 L383.2,239 L383.1,239.5 L383.1,239.4 L380.7,235.1 L378.3,231.7 L375.8,229.2 L373.4,227.6 L371,226.8 L368.6,226.7 L366.2,227.2 L364.4,227.6 L362.5,228.1 L361.3,228.5 L360.1,229.2 L358.9,230.2 L358.3,230.8 L357.6,231.8 L356.9,233 L356.5,233.7 L355.9,235 L355.3,236.6 L355,237.5 L354.7,238.4 L354.4,239.5 L354.2,240.2 L354.1,240.7 L354.1,240.6 L351.7,236.3 L349.2,233 L346.8,230.7 L344.4,229.3 L342,228.7 L339.6,228.7 L337.1,229.2 L335.3,229.6 L333.5,230.1 L332.3,230.6 L331.1,231.3 L329.9,232.2 L329.3,232.8 L328.6,233.7 L327.8,234.8 L327.5,235.3 L326.9,236.4 L326.3,237.7 L326,238.4 L325.7,239.2 L325.4,240.1 L325.2,240.7 L325.1,241.1 L325,241.1 L322.6,237 L320.2,234.2 L317.8,232.3 L315.4,231.3 L313,231 L310.5,231.3 L308.1,231.9 L306.3,232.3 L304.5,232.8 L303.3,233.3 L302.1,233.9 L300.9,234.8 L300.3,235.4 L299.5,236.3 L298.8,237.1 L298.4,237.6 L297.8,238.4 L297.2,239.3 L296.9,239.8 L296.6,240.4 L296.3,241.1 L296.2,241.6 L296,241.9 L296,241.9 L293.6,238.2 L291.2,235.9 L288.8,234.6 L286.4,234.2 L283.9,234.4 L281.5,235 L279.1,235.8 L277.3,236.2 L275.5,236.7 L274.3,237.2 L273.1,237.9 L271.8,238.9 L271.2,239.5 L270.5,240.4 L269.8,241.1 L269.4,241.4 L268.8,241.9 L268.2,242.4 L267.9,242.8 L267.6,243.2 L267.3,243.7 L267.1,244 L267,244.3 L267,244.3 L264.6,240.9 L262.2,239 L259.7,238.3 L257.3,238.4 L254.9,239.2 L252.5,240.1 L250.1,241.1 L248.3,241.6 L246.4,242.2 L245.2,242.8 L244,243.7 L242.8,244.8 L242.2,245.5 L241.5,246.6 L240.8,247.3 L240.4,247.6 L239.8,247.9 L239.2,248.2 L238.9,248.5 L238.6,248.8 L238.3,249.2 L238.1,249.6 L238,249.8 L238,249.8 L235.6,246.2 L233.1,244.4 L230.7,244.1 L228.3,244.7 L225.9,245.9 L223.5,247.3 L221,248.4 L219.2,248.9 L217.4,249.6 L216.2,250.3 L215,251.1 L213.8,252.3 L213.2,253.1 L212.5,254.2 L211.7,254.8 L211.4,254.9 L210.8,254.9 L210.2,254.9 L209.9,254.9 L209.6,255.1 L209.3,255.3 L209.1,255.5 L209,255.7 L208.9,255.7 L206.5,252.3 L204.1,250.9 L201.7,251.2 L199.3,252.5 L196.9,254.3 L194.4,256.1 L192,257.5 L190.2,258.2 L188.4,259.1 L187.2,260 L186,261.2 L184.8,262.9 L184.2,263.9 L183.4,265.4 L182.7,266.6 L182.3,267 L181.7,267.5 L181.1,268.2 L180.8,268.7 L180.5,269.3 L180.2,270 L180,270.6 L179.9,271 L179.9,270.9 L177.5,267.1 L175.1,265.2 L172.7,264.8 L170.3,265.5 L167.8,266.8 L165.4,268.3 L163,269.8 L161.2,270.8 L159.4,272.3 L158.2,273.6 L156.9,275.4 L155.7,278 L155.1,279.6 L154.4,281.9 L153.7,284 L153.3,285 L152.7,286.6 L152.1,288.6 L151.8,289.8 L151.5,291.3 L151.2,293.1 L151,294.3 L150.9,295.2 L150.9,295.1 L148.5,290.8 L146.1,289 L143.6,288.9 L141.2,290.1 L138.8,292 L136.4,293.9 L134,296.1 L132.2,297.5 L130.3,299.5 L129.1,301.5 L127.9,304.3 L126.7,308.1 L126.1,310.6 L125.4,314.2 L124.7,318.1 L124.3,320.2 L123.7,324.2 L123.1,329.1 L122.8,332.1 L122.5,335.6 L122.2,339.6 L122,342.3 L121.9,344.2 L121.9,344.2 L119.5,338.7 L117,335.8 L114.6,335 L112.2,335.7 L109.8,337.3 L107.4,339.1 L104.9,342.8 L103.1,346.1 L101.3,351.4 L100.1,356.6 L98.9,364 L97.7,375 L97.1,382.4 L96.4,393.9 L95.6,408.1 L95.3,416.9 L94.7,436.1 L94.1,466.6 L93.8,490.3 L93.5,526.2 L93.2,591.6 L93,682.5 L92.9,700Z" fill="#e2c8fc"/>
<path d="M92.9,660 L93,495.6 L93.2,404 L93.5,337.1 L93.8,299.7 L94.1,274.3 L94.7,240.9 L95.3,219.6 L95.6,210.5 L96.4,197.8 L97.1,190.3 L97.7,185.9 L98.9,180.2 L100.1,177 L101.3,176.2 L103.1,177.5 L104.9,179 L107.4,181.5 L109.8,184.5 L112.2,187.8 L114.6,191.4 L117,194.9 L119.5,198.3 L121.9,201.4 L121.9,201.4 L122,197.3 L122.2,191.8 L122.5,184.1 L122.8,177.8 L123.1,172.7 L123.7,164.9 L124.3,159.3 L124.7,156.7 L125.4,152.7 L126.1,149.7 L126.7,147.9 L127.9,145.5 L129.1,144.1 L130.3,143.8 L132.2,144.9 L134,146.1 L136.4,148 L138.8,150.1 L141.2,152.4 L143.6,154.9 L146.1,157.3 L148.5,159.8 L150.9,162.2 L150.9,162.2 L151,159.9 L151.2,156.7 L151.5,152.3 L151.8,148.6 L152.1,145.5 L152.7,140.8 L153.3,137.5 L153.7,135.9 L154.4,133.2 L155.1,131.2 L155.7,129.9 L156.9,128.2 L158.2,127.2 L159.4,127 L161.2,127.9 L163,129 L165.4,130.6 L167.8,132.4 L170.3,134.4 L172.7,136.5 L175.1,138.6 L177.5,140.7 L179.9,142.8 L179.9,142.8 L180,141.3 L180.2,139.2 L180.5,136.2 L180.8,133.6 L181.1,131.5 L181.7,128.1 L182.3,125.5 L182.7,124.4 L183.4,122.4 L184.2,121 L184.8,120.1 L186,118.8 L187.2,118.1 L188.4,118.1 L190.2,118.9 L192,119.9 L194.4,121.4 L196.9,122.9 L199.3,124.6 L201.7,126.2 L204.1,127.9 L206.5,129.7 L208.9,131.5 L209,131.5 L209.1,130.4 L209.3,129 L209.6,126.8 L209.9,125 L210.2,123.4 L210.8,121 L211.4,119.2 L211.7,118.4 L212.5,116.9 L213.2,115.8 L213.8,115.1 L215,114.2 L216.2,113.6 L217.4,113.6 L219.2,114.5 L221,115.5 L223.5,116.9 L225.9,118.5 L228.3,120.1 L230.7,121.8 L233.1,123.5 L235.6,125.2 L238,127 L238,127 L238.1,126 L238.3,124.6 L238.6,122.5 L238.9,120.7 L239.2,119.2 L239.8,116.8 L240.4,115 L240.8,114.1 L241.5,112.8 L242.2,111.7 L242.8,111 L244,110.1 L245.2,109.5 L246.4,109.6 L248.3,110.3 L250.1,111.2 L252.5,112.6 L254.9,114 L257.3,115.5 L259.7,117.1 L262.2,118.7 L264.6,120.4 L267,122.2 L267,122.2 L267.1,121.2 L267.3,120 L267.6,118.1 L267.9,116.5 L268.2,115.1 L268.8,112.9 L269.4,111.2 L269.8,110.4 L270.5,109.1 L271.2,108.1 L271.8,107.6 L273.1,106.8 L274.3,106.3 L275.5,106.3 L277.3,107.1 L279.1,108.1 L281.5,109.5 L283.9,111 L286.4,112.6 L288.8,114.2 L291.2,116 L293.6,117.7 L296,119.5 L296,119.5 L296.2,118.7 L296.3,117.5 L296.6,115.7 L296.9,114.1 L297.2,112.8 L297.8,110.7 L298.4,109.1 L298.8,108.4 L299.5,107.1 L300.3,106.2 L300.9,105.7 L302.1,104.9 L303.3,104.5 L304.5,104.5 L306.3,105.4 L308.1,106.4 L310.5,107.8 L313,109.4 L315.4,111.1 L317.8,112.8 L320.2,114.6 L322.6,116.5 L325,118.4 L325.1,118.4 L325.2,117.5 L325.4,116.2 L325.7,114.4 L326,112.7 L326.3,111.3 L326.9,109.1 L327.5,107.4 L327.8,106.6 L328.6,105.3 L329.3,104.4 L329.9,103.8 L331.1,103 L332.3,102.6 L333.5,102.6 L335.3,103.5 L337.1,104.6 L339.6,106.1 L342,107.8 L344.4,109.5 L346.8,111.4 L349.2,113.3 L351.7,115.2 L354.1,117.2 L354.1,117.2 L354.2,116.3 L354.4,115 L354.7,113.2 L355,111.5 L355.3,110.1 L355.9,107.9 L356.5,106.2 L356.9,105.4 L357.6,104.1 L358.3,103.2 L358.9,102.6 L360.1,101.8 L361.3,101.4 L362.5,101.4 L364.4,102.3 L366.2,103.4 L368.6,104.9 L371,106.6 L373.4,108.3 L375.8,110.2 L378.3,112.1 L380.7,114 L383.1,116 L383.1,116 L383.2,115.1 L383.4,113.8 L383.7,112 L384,110.3 L384.3,108.9 L384.9,106.7 L385.5,105 L385.9,104.2 L386.6,102.9 L387.3,102 L387.9,101.4 L389.2,100.6 L390.4,100.2 L391.6,100.2 L393.4,101.2 L395.2,102.2 L397.6,103.8 L400,105.6 L402.5,107.4 L404.9,109.3 L407.3,111.2 L409.7,113.2 L412.1,115.3 L412.1,115.3 L412.3,114.4 L412.4,113.2 L412.7,111.3 L413,109.8 L413.3,108.4 L413.9,106.2 L414.6,104.5 L414.9,103.7 L415.6,102.4 L416.4,101.5 L417,101 L418.2,100.2 L419.4,99.8 L420.6,99.8 L422.4,100.7 L424.2,101.8 L426.6,103.4 L429.1,105 L431.5,106.8 L433.9,108.7 L436.3,110.6 L438.7,112.6 L441.1,114.6 L441.2,114.6 L441.3,113.7 L441.5,112.5 L441.8,110.6 L442.1,109.1 L442.4,107.7 L443,105.5 L443.6,103.8 L443.9,103 L444.7,101.7 L445.4,100.8 L446,100.3 L447.2,99.5 L448.4,99.1 L449.6,99.1 L451.4,100 L453.3,101.1 L455.7,102.6 L458.1,104.3 L460.5,106.1 L462.9,107.9 L465.3,109.8 L467.8,111.8 L470.2,113.8 L470.2,113.8 L470.3,113 L470.5,111.8 L470.8,110 L471.1,108.5 L471.4,107.2 L472,105.1 L472.6,103.5 L473,102.7 L473.7,101.5 L474.4,100.7 L475,100.1 L476.2,99.4 L477.4,99 L478.6,99 L480.5,99.9 L482.3,100.4 L484.7,101.1 L487.1,101.9 L489.5,103 L492,105.4 L494.4,108.4 L496.8,111.4 L499.2,114.1 L501.6,116.9 L504,119.6 L506.5,122.3 L508.9,125.1 L511.3,127.8 L513.7,130.6 L516.1,133.4 L518.6,136.2 L521,139 L523.4,141.8 L525.8,144.5 L528.2,147.2 L530.7,149.9 L533.1,152.5 L535.5,155 L537.9,157.5 L540.3,159.9 L542.7,162.4 L545.2,164.7 L547.6,167.1 L550,169.6 L552.4,172.2 L554.8,174.9 L557.3,177.7 L559.7,180.4 L562.1,183.2 L564.5,186 L566.9,188.7 L569.4,191.3 L571.8,193.7 L574.2,196 L576.6,198.3 L576.6,370.4 L574.2,364 L571.8,357.7 L569.4,351.3 L566.9,345 L564.5,338.6 L562.1,332.1 L559.7,325.8 L557.3,319.6 L554.8,313.6 L552.4,307.7 L550,302 L547.6,296.6 L545.2,291.4 L542.7,286.3 L540.3,281.3 L537.9,276.4 L535.5,271.6 L533.1,266.9 L530.7,262.2 L528.2,257.7 L525.8,253.2 L523.4,248.8 L521,244.6 L518.6,240.4 L516.1,236.4 L513.7,232.5 L511.3,228.9 L508.9,225.4 L506.5,222 L504,218.9 L501.6,215.9 L499.2,213.1 L496.8,210.4 L494.4,207.4 L492,204.4 L489.5,202 L487.1,199.8 L484.7,198.3 L482.3,197.9 L480.5,198.3 L478.6,198.9 L477.4,199.5 L476.2,200.3 L475,201.4 L474.4,202.1 L473.7,203.2 L473,204.5 L472.6,205.2 L472,206.6 L471.4,208.3 L471.1,209.3 L470.8,210.4 L470.5,211.5 L470.3,212.3 L470.2,212.8 L470.2,212.8 L467.8,208.9 L465.3,205.6 L462.9,202.8 L460.5,200.6 L458.1,199 L455.7,198.1 L453.3,198.1 L451.4,198.5 L449.6,199.1 L448.4,199.7 L447.2,200.5 L446,201.7 L445.4,202.4 L444.7,203.5 L443.9,204.9 L443.6,205.6 L443,207.1 L442.4,208.9 L442.1,209.9 L441.8,211 L441.5,212.3 L441.3,213.1 L441.2,213.6 L441.1,213.6 L438.7,209.7 L436.3,206.4 L433.9,203.5 L431.5,201.3 L429.1,199.7 L426.6,198.8 L424.2,198.8 L422.4,199.2 L420.6,199.8 L419.4,200.4 L418.2,201.2 L417,202.4 L416.4,203.1 L415.6,204.2 L414.9,205.6 L414.6,206.3 L413.9,207.8 L413.3,209.6 L413,210.6 L412.7,211.7 L412.4,213 L412.3,213.8 L412.1,214.3 L412.1,214.3 L409.7,210.3 L407.3,206.9 L404.9,204 L402.5,201.8 L400,200.1 L397.6,199.2 L395.2,199.2 L393.4,199.6 L391.6,200.2 L390.4,200.8 L389.2,201.7 L387.9,202.8 L387.3,203.6 L386.6,204.7 L385.9,206.1 L385.5,206.9 L384.9,208.4 L384.3,210.2 L384,211.3 L383.7,212.4 L383.4,213.6 L383.2,214.5 L383.1,215 L383.1,215 L380.7,211.2 L378.3,207.9 L375.8,205.1 L373.4,202.9 L371,201.3 L368.6,200.4 L366.2,200.4 L364.4,200.8 L362.5,201.4 L361.3,202 L360.1,202.9 L358.9,204 L358.3,204.8 L357.6,205.9 L356.9,207.3 L356.5,208.1 L355.9,209.6 L355.3,211.4 L355,212.5 L354.7,213.6 L354.4,214.8 L354.2,215.7 L354.1,216.2 L354.1,216.2 L351.7,212.4 L349.2,209.2 L346.8,206.5 L344.4,204.4 L342,202.9 L339.6,202 L337.1,202.1 L335.3,202.5 L333.5,203.1 L332.3,203.7 L331.1,204.6 L329.9,205.8 L329.3,206.5 L328.6,207.6 L327.8,209 L327.5,209.7 L326.9,211.1 L326.3,212.8 L326,213.8 L325.7,214.9 L325.4,216.1 L325.2,216.9 L325.1,217.4 L325,217.4 L322.6,213.8 L320.2,210.8 L317.8,208.3 L315.4,206.5 L313,205.1 L310.5,204.4 L308.1,204.5 L306.3,204.9 L304.5,205.5 L303.3,206.1 L302.1,206.9 L300.9,208.1 L300.3,208.9 L299.5,209.9 L298.8,211.2 L298.4,212 L297.8,213.4 L297.2,215.1 L296.9,216 L296.6,217.1 L296.3,218.2 L296.2,219 L296,219.5 L296,219.5 L293.6,216.1 L291.2,213.2 L288.8,210.9 L286.4,209.2 L283.9,207.9 L281.5,207.2 L279.1,207.3 L277.3,207.7 L275.5,208.4 L274.3,209 L273.1,209.9 L271.8,211.1 L271.2,211.9 L270.5,213 L269.8,214.4 L269.4,215.2 L268.8,216.7 L268.2,218.4 L267.9,219.4 L267.6,220.6 L267.3,221.8 L267.1,222.6 L267,223.1 L267,223.1 L264.6,219.9 L262.2,217.3 L259.7,215.2 L257.3,213.6 L254.9,212.5 L252.5,211.9 L250.1,212.1 L248.3,212.5 L246.4,213.3 L245.2,214 L244,215 L242.8,216.4 L242.2,217.3 L241.5,218.6 L240.8,220.2 L240.4,221 L239.8,222.7 L239.2,224.6 L238.9,225.8 L238.6,227 L238.3,228.4 L238.1,229.3 L238,230 L238,229.9 L235.6,226.4 L233.1,223.5 L230.7,221.3 L228.3,219.6 L225.9,218.5 L223.5,217.9 L221,218.1 L219.2,218.6 L217.4,219.4 L216.2,220.1 L215,221.2 L213.8,222.6 L213.2,223.6 L212.5,225 L211.7,226.6 L211.4,227.5 L210.8,229.2 L210.2,231.3 L209.9,232.5 L209.6,233.8 L209.3,235.3 L209.1,236.2 L209,236.9 L208.9,236.9 L206.5,233.4 L204.1,230.6 L201.7,228.4 L199.3,226.9 L196.9,225.9 L194.4,225.4 L192,225.6 L190.2,226.2 L188.4,227.2 L187.2,228.2 L186,229.5 L184.8,231.4 L184.2,232.7 L183.4,234.4 L182.7,236.6 L182.3,237.8 L181.7,240.1 L181.1,242.9 L180.8,244.6 L180.5,246.4 L180.2,248.4 L180,249.7 L179.9,250.6 L179.9,250.6 L177.5,246.9 L175.1,244.1 L172.7,242 L170.3,240.5 L167.8,239.6 L165.4,239.2 L163,239.6 L161.2,240.4 L159.4,241.8 L158.2,243.2 L156.9,245.1 L155.7,247.9 L155.1,249.6 L154.4,252.2 L153.7,255.3 L153.3,257.1 L152.7,260.6 L152.1,264.9 L151.8,267.4 L151.5,270.2 L151.2,273.3 L151,275.4 L150.9,276.9 L150.9,276.9 L148.5,272.7 L146.1,269.6 L143.6,267.4 L141.2,265.9 L138.8,265.1 L136.4,264.7 L134,265.4 L132.2,266.5 L130.3,268.5 L129.1,270.4 L127.9,273.2 L126.7,277.1 L126.1,279.7 L125.4,283.5 L124.7,287.8 L124.3,290.2 L123.7,294.9 L123.1,300.7 L122.8,304.3 L122.5,308.4 L122.2,313.2 L122,316.5 L121.9,318.9 L121.9,318.8 L119.5,313.7 L117,309.8 L114.6,307.1 L112.2,305.2 L109.8,304.1 L107.4,303.7 L104.9,305 L103.1,307.7 L101.3,312.2 L100.1,316.9 L98.9,323.8 L97.7,334 L97.1,341.1 L96.4,352.2 L95.6,366.6 L95.3,375.7 L94.7,395.8 L94.1,427.5 L93.8,451.9 L93.5,488.4 L93.2,554.5 L93,645.7 L92.9,700Z" fill="#d0a6fa"/>
<path d="M92.9,683.4 L93,519.1 L93.2,427.6 L93.5,361 L93.8,324 L94.1,299 L94.7,266.2 L95.3,245.5 L95.6,236.5 L96.4,223.9 L97.1,216 L97.7,211.3 L98.9,205.1 L100.1,201.6 L101.3,199.5 L103.1,200.4 L104.9,201.7 L107.4,203.9 L109.8,206.7 L112.2,209.9 L114.6,213.3 L117,216.8 L119.5,220.3 L121.9,223.6 L121.9,223.6 L122,219.7 L122.2,214.5 L122.5,207.1 L122.8,201.2 L123.1,196.2 L123.7,188.6 L124.3,183.1 L124.7,180.6 L125.4,176.5 L126.1,173.4 L126.7,171.5 L127.9,168.9 L129.1,167.3 L130.3,166.4 L132.2,167.1 L134,168.2 L136.4,169.9 L138.8,171.7 L141.2,173.8 L143.6,175.9 L146.1,178.2 L148.5,180.5 L150.9,183 L150.9,183 L151,180.8 L151.2,177.7 L151.5,173.3 L151.8,169.7 L152.1,166.6 L152.7,161.8 L153.3,158.3 L153.7,156.6 L154.4,153.9 L155.1,151.7 L155.7,150.4 L156.9,148.5 L158.2,147.4 L159.4,146.8 L161.2,147.4 L163,148.3 L165.4,149.8 L167.8,151.5 L170.3,153.3 L172.7,155.2 L175.1,157.2 L177.5,159.3 L179.9,161.5 L179.9,161.5 L180,160 L180.2,158.1 L180.5,155.3 L180.8,152.8 L181.1,150.8 L181.7,147.5 L182.3,145.1 L182.7,143.9 L183.4,142 L184.2,140.4 L184.8,139.5 L186,138.2 L187.2,137.4 L188.4,136.9 L190.2,137.5 L192,138.4 L194.4,139.8 L196.9,141.4 L199.3,143.1 L201.7,145 L204.1,146.9 L206.5,148.9 L208.9,151 L209,151 L209.1,150 L209.3,148.5 L209.6,146.3 L209.9,144.5 L210.2,142.9 L210.8,140.3 L211.4,138.3 L211.7,137.4 L212.5,135.8 L213.2,134.7 L213.8,133.9 L215,132.9 L216.2,132.3 L217.4,131.9 L219.2,132.5 L221,133.4 L223.5,134.8 L225.9,136.4 L228.3,138.1 L230.7,139.9 L233.1,141.9 L235.6,143.9 L238,146 L238,146 L238.1,145 L238.3,143.6 L238.6,141.5 L238.9,139.7 L239.2,138.1 L239.8,135.6 L240.4,133.7 L240.8,132.8 L241.5,131.3 L242.2,130.1 L242.8,129.4 L244,128.5 L245.2,127.9 L246.4,127.5 L248.3,128.1 L250.1,128.9 L252.5,130.1 L254.9,131.6 L257.3,133.1 L259.7,134.8 L262.2,136.6 L264.6,138.4 L267,140.3 L267,140.3 L267.1,139.4 L267.3,138.2 L267.6,136.4 L267.9,134.8 L268.2,133.4 L268.8,131.2 L269.4,129.5 L269.8,128.7 L270.5,127.4 L271.2,126.4 L271.8,125.8 L273.1,124.9 L274.3,124.4 L275.5,124.1 L277.3,124.7 L279.1,125.5 L281.5,126.9 L283.9,128.4 L286.4,130 L288.8,131.7 L291.2,133.6 L293.6,135.5 L296,137.5 L296,137.5 L296.2,136.7 L296.3,135.5 L296.6,133.8 L296.9,132.3 L297.2,131 L297.8,128.9 L298.4,127.3 L298.8,126.5 L299.5,125.2 L300.3,124.3 L300.9,123.7 L302.1,122.9 L303.3,122.4 L304.5,122.1 L306.3,122.7 L308.1,123.6 L310.5,125 L313,126.6 L315.4,128.3 L317.8,130.1 L320.2,132.1 L322.6,134.1 L325,136.2 L325.1,136.2 L325.2,135.4 L325.4,134.1 L325.7,132.4 L326,130.8 L326.3,129.4 L326.9,127.2 L327.5,125.5 L327.8,124.7 L328.6,123.4 L329.3,122.4 L329.9,121.8 L331.1,121 L332.3,120.5 L333.5,120.2 L335.3,120.9 L337.1,121.8 L339.6,123.2 L342,124.9 L344.4,126.7 L346.8,128.6 L349.2,130.7 L351.7,132.8 L354.1,135 L354.1,135 L354.2,134.2 L354.4,132.9 L354.7,131.2 L355,129.6 L355.3,128.2 L355.9,126 L356.5,124.3 L356.9,123.5 L357.6,122.2 L358.3,121.2 L358.9,120.6 L360.1,119.8 L361.3,119.3 L362.5,119 L364.4,119.7 L366.2,120.6 L368.6,122 L371,123.7 L373.4,125.5 L375.8,127.4 L378.3,129.5 L380.7,131.6 L383.1,133.8 L383.1,133.8 L383.2,133 L383.4,131.7 L383.7,130 L384,128.4 L384.3,127 L384.9,124.8 L385.5,123.1 L385.9,122.3 L386.6,121 L387.3,120 L387.9,119.4 L389.2,118.6 L390.4,118.1 L391.6,117.8 L393.4,118.5 L395.2,119.4 L397.6,120.9 L400,122.7 L402.5,124.5 L404.9,126.5 L407.3,128.6 L409.7,130.8 L412.1,133.1 L412.1,133.1 L412.3,132.3 L412.4,131.1 L412.7,129.3 L413,127.8 L413.3,126.5 L413.9,124.3 L414.6,122.6 L414.9,121.8 L415.6,120.5 L416.4,119.6 L417,119 L418.2,118.2 L419.4,117.7 L420.6,117.4 L422.4,118.1 L424.2,119 L426.6,120.5 L429.1,122.2 L431.5,124 L433.9,125.9 L436.3,128 L438.7,130.2 L441.1,132.4 L441.2,132.4 L441.3,131.6 L441.5,130.4 L441.8,128.6 L442.1,127.1 L442.4,125.8 L443,123.6 L443.6,121.9 L443.9,121.1 L444.7,119.8 L445.4,118.9 L446,118.3 L447.2,117.5 L448.4,117 L449.6,116.7 L451.4,117.4 L453.3,118.3 L455.7,119.8 L458.1,121.4 L460.5,123.2 L462.9,125.2 L465.3,127.2 L467.8,129.4 L470.2,131.6 L470.2,131.6 L470.3,130.8 L470.5,129.7 L470.8,128 L471.1,126.5 L471.4,125.3 L472,123.2 L472.6,121.6 L473,120.8 L473.7,119.6 L474.4,118.7 L475,118.1 L476.2,117.4 L477.4,116.9 L478.6,116.6 L480.5,117.2 L482.3,117.8 L484.7,118.5 L487.1,119.6 L489.5,120.8 L492,123.2 L494.4,126.2 L496.8,129.2 L499.2,131.9 L501.6,134.7 L504,137.4 L506.5,140.1 L508.9,142.9 L511.3,145.7 L513.7,148.5 L516.1,151.4 L518.6,154.3 L521,157.2 L523.4,160 L525.8,162.8 L528.2,165.6 L530.7,168.4 L533.1,171.1 L535.5,173.7 L537.9,176.3 L540.3,178.9 L542.7,181.5 L545.2,184 L547.6,186.5 L550,189.1 L552.4,191.9 L554.8,194.8 L557.3,197.7 L559.7,200.6 L562.1,203.6 L564.5,206.6 L566.9,209.5 L569.4,212.2 L571.8,214.9 L574.2,217.4 L576.6,219.9 L576.6,330.7 L574.2,325.6 L571.8,320.4 L569.4,315.2 L566.9,310 L564.5,304.6 L562.1,299.3 L559.7,293.9 L557.3,288.8 L554.8,283.7 L552.4,278.8 L550,274 L547.6,269.4 L545.2,265 L542.7,260.7 L540.3,256.5 L537.9,252.3 L535.5,248.2 L533.1,244.1 L530.7,240 L528.2,236 L525.8,232.1 L523.4,228.2 L521,224.4 L518.6,220.6 L516.1,216.9 L513.7,213.4 L511.3,210 L508.9,206.7 L506.5,203.5 L504,200.5 L501.6,197.6 L499.2,194.9 L496.8,192.1 L494.4,189.1 L492,186.1 L489.5,183.7 L487.1,181.7 L484.7,180.2 L482.3,179.5 L480.5,179.8 L478.6,180.3 L477.4,180.8 L476.2,181.6 L475,182.6 L474.4,183.3 L473.7,184.3 L473,185.6 L472.6,186.4 L472,187.9 L471.4,189.7 L471.1,190.7 L470.8,191.9 L470.5,193.1 L470.3,194 L470.2,194.5 L470.2,194.5 L467.8,191.1 L465.3,188 L462.9,185.4 L460.5,183.2 L458.1,181.4 L455.7,180.2 L453.3,179.6 L451.4,179.9 L449.6,180.4 L448.4,181 L447.2,181.7 L446,182.9 L445.4,183.6 L444.7,184.7 L443.9,186 L443.6,186.8 L443,188.3 L442.4,190.2 L442.1,191.3 L441.8,192.5 L441.5,193.9 L441.3,194.7 L441.2,195.3 L441.1,195.3 L438.7,191.9 L436.3,188.8 L433.9,186.1 L431.5,183.9 L429.1,182.1 L426.6,180.9 L424.2,180.3 L422.4,180.6 L420.6,181.1 L419.4,181.7 L418.2,182.4 L417,183.6 L416.4,184.3 L415.6,185.4 L414.9,186.7 L414.6,187.5 L413.9,189 L413.3,190.9 L413,192 L412.7,193.2 L412.4,194.6 L412.3,195.4 L412.1,196 L412.1,196 L409.7,192.5 L407.3,189.4 L404.9,186.6 L402.5,184.4 L400,182.6 L397.6,181.3 L395.2,180.7 L393.4,181 L391.6,181.6 L390.4,182.1 L389.2,182.9 L387.9,184 L387.3,184.8 L386.6,185.8 L385.9,187.2 L385.5,188 L384.9,189.6 L384.3,191.5 L384,192.6 L383.7,193.9 L383.4,195.2 L383.2,196.1 L383.1,196.7 L383.1,196.7 L380.7,193.3 L378.3,190.3 L375.8,187.7 L373.4,185.4 L371,183.7 L368.6,182.5 L366.2,181.9 L364.4,182.2 L362.5,182.8 L361.3,183.3 L360.1,184.1 L358.9,185.2 L358.3,186 L357.6,187 L356.9,188.4 L356.5,189.2 L355.9,190.8 L355.3,192.7 L355,193.8 L354.7,195.1 L354.4,196.4 L354.2,197.3 L354.1,197.9 L354.1,197.9 L351.7,194.5 L349.2,191.5 L346.8,188.9 L344.4,186.6 L342,184.9 L339.6,183.7 L337.1,183.1 L335.3,183.4 L333.5,184 L332.3,184.5 L331.1,185.3 L329.9,186.4 L329.3,187.2 L328.6,188.2 L327.8,189.6 L327.5,190.4 L326.9,192 L326.3,193.9 L326,195 L325.7,196.3 L325.4,197.6 L325.2,198.5 L325.1,199.1 L325,199.1 L322.6,195.9 L320.2,193 L317.8,190.5 L315.4,188.4 L313,186.7 L310.5,185.6 L308.1,185 L306.3,185.3 L304.5,185.8 L303.3,186.4 L302.1,187.1 L300.9,188.3 L300.3,189 L299.5,190.1 L298.8,191.4 L298.4,192.2 L297.8,193.7 L297.2,195.6 L296.9,196.7 L296.6,197.9 L296.3,199.3 L296.2,200.1 L296,200.7 L296,200.7 L293.6,197.7 L291.2,195 L288.8,192.6 L286.4,190.7 L283.9,189.2 L281.5,188.1 L279.1,187.7 L277.3,188 L275.5,188.5 L274.3,189.1 L273.1,189.9 L271.8,191 L271.2,191.8 L270.5,192.9 L269.8,194.3 L269.4,195.1 L268.8,196.7 L268.2,198.6 L267.9,199.7 L267.6,200.9 L267.3,202.3 L267.1,203.2 L267,203.8 L267,203.8 L264.6,200.9 L262.2,198.4 L259.7,196.2 L257.3,194.5 L254.9,193.1 L252.5,192.1 L250.1,191.7 L248.3,192.1 L246.4,192.7 L245.2,193.3 L244,194.2 L242.8,195.6 L242.2,196.4 L241.5,197.7 L240.8,199.3 L240.4,200.3 L239.8,202.1 L239.2,204.3 L238.9,205.6 L238.6,207.1 L238.3,208.7 L238.1,209.7 L238,210.5 L238,210.5 L235.6,207.3 L233.1,204.5 L230.7,202.1 L228.3,200.1 L225.9,198.6 L223.5,197.5 L221,197 L219.2,197.4 L217.4,198 L216.2,198.7 L215,199.7 L213.8,201.1 L213.2,202 L212.5,203.3 L211.7,205 L211.4,206 L210.8,207.9 L210.2,210.2 L209.9,211.6 L209.6,213.1 L209.3,214.8 L209.1,215.9 L209,216.7 L208.9,216.7 L206.5,213.5 L204.1,210.8 L201.7,208.4 L199.3,206.5 L196.9,205.1 L194.4,204.1 L192,203.6 L190.2,204.1 L188.4,204.9 L187.2,205.8 L186,207 L184.8,208.8 L184.2,210 L183.4,211.7 L182.7,213.9 L182.3,215.1 L181.7,217.6 L181.1,220.7 L180.8,222.5 L180.5,224.5 L180.2,226.7 L180,228.2 L179.9,229.2 L179.9,229.2 L177.5,225.8 L175.1,223 L172.7,220.5 L170.3,218.6 L167.8,217.1 L165.4,216 L163,215.6 L161.2,216.2 L159.4,217.4 L158.2,218.6 L156.9,220.4 L155.7,222.9 L155.1,224.6 L154.4,227.2 L153.7,230.3 L153.3,232.2 L152.7,236 L152.1,240.6 L151.8,243.4 L151.5,246.5 L151.2,250.1 L151,252.4 L150.9,254.1 L150.9,254.1 L148.5,250.2 L146.1,246.9 L143.6,244.2 L141.2,242 L138.8,240.3 L136.4,239.1 L134,238.6 L132.2,239.5 L130.3,241.1 L129.1,242.8 L127.9,245.3 L126.7,249 L126.1,251.5 L125.4,255.2 L124.7,259.8 L124.3,262.6 L123.7,268.1 L123.1,275.3 L122.8,279.6 L122.5,284.6 L122.2,290.3 L122,294.3 L121.9,297.1 L121.9,297.1 L119.5,292.3 L117,288.3 L114.6,285 L112.2,282.3 L109.8,280.3 L107.4,278.9 L104.9,278.2 L103.1,280.4 L101.3,284.1 L100.1,288.2 L98.9,294.2 L97.7,303.5 L97.1,310.1 L96.4,320.5 L95.6,334.7 L95.3,344 L94.7,364.7 L94.1,397.1 L93.8,422 L93.5,458.9 L93.2,525.4 L93,616.9 L92.9,700Z" fill="#be86f8"/>
<path d="M92.9,700 L93,537 L93.2,445.7 L93.5,379.4 L93.8,342.7 L94.1,317.9 L94.7,285.8 L95.3,265.5 L95.6,256.7 L96.4,244 L97.1,235.7 L97.7,230.7 L98.9,224.1 L100.1,220.2 L101.3,217.9 L103.1,217.5 L104.9,218.6 L107.4,220.6 L109.8,223.2 L112.2,226.1 L114.6,229.4 L117,232.8 L119.5,236.4 L121.9,240 L121.9,240 L122,236.2 L122.2,231.1 L122.5,223.9 L122.8,218 L123.1,213 L123.7,205.2 L124.3,199.5 L124.7,196.8 L125.4,192.5 L126.1,189.3 L126.7,187.3 L127.9,184.6 L129.1,182.9 L130.3,181.8 L132.2,181.8 L134,182.7 L136.4,184.3 L138.8,186.1 L141.2,188.2 L143.6,190.5 L146.1,192.9 L148.5,195.6 L150.9,198.3 L150.9,198.3 L151,196.2 L151.2,193.2 L151.5,188.8 L151.8,185.2 L152.1,182 L152.7,177.1 L153.3,173.3 L153.7,171.5 L154.4,168.6 L155.1,166.4 L155.7,165 L156.9,163 L158.2,161.8 L159.4,161.1 L161.2,161.2 L163,161.9 L165.4,163.3 L167.8,164.9 L170.3,166.7 L172.7,168.8 L175.1,170.9 L177.5,173.2 L179.9,175.7 L179.9,175.7 L180,174.3 L180.2,172.4 L180.5,169.6 L180.8,167.2 L181.1,165.1 L181.7,161.7 L182.3,159.2 L182.7,157.9 L183.4,155.9 L184.2,154.3 L184.8,153.3 L186,152 L187.2,151.1 L188.4,150.6 L190.2,150.7 L192,151.4 L194.4,152.7 L196.9,154.2 L199.3,156 L201.7,157.9 L204.1,160 L206.5,162.2 L208.9,164.5 L209,164.5 L209.1,163.5 L209.3,162 L209.6,159.9 L209.9,158.1 L210.2,156.5 L210.8,153.9 L211.4,151.9 L211.7,150.9 L212.5,149.3 L213.2,148.1 L213.8,147.3 L215,146.2 L216.2,145.6 L217.4,145.2 L219.2,145.3 L221,146 L223.5,147.3 L225.9,148.9 L228.3,150.6 L230.7,152.5 L233.1,154.6 L235.6,156.8 L238,159.1 L238,159.1 L238.1,158.1 L238.3,156.8 L238.6,154.7 L238.9,153 L239.2,151.4 L239.8,148.9 L240.4,146.9 L240.8,146 L241.5,144.4 L242.2,143.3 L242.8,142.6 L244,141.5 L245.2,140.9 L246.4,140.5 L248.3,140.6 L250.1,141.3 L252.5,142.4 L254.9,143.8 L257.3,145.4 L259.7,147.2 L262.2,149 L264.6,151 L267,153.2 L267,153.2 L267.1,152.3 L267.3,151.1 L267.6,149.4 L267.9,147.8 L268.2,146.5 L268.8,144.3 L269.4,142.6 L269.8,141.7 L270.5,140.4 L271.2,139.4 L271.8,138.7 L273.1,137.9 L274.3,137.3 L275.5,137 L277.3,137.1 L279.1,137.8 L281.5,139 L283.9,140.5 L286.4,142.1 L288.8,144 L291.2,145.9 L293.6,148 L296,150.2 L296,150.2 L296.2,149.4 L296.3,148.3 L296.6,146.6 L296.9,145.2 L297.2,143.9 L297.8,141.8 L298.4,140.2 L298.8,139.4 L299.5,138.1 L300.3,137.1 L300.9,136.5 L302.1,135.7 L303.3,135.1 L304.5,134.8 L306.3,135 L308.1,135.7 L310.5,137 L313,138.5 L315.4,140.3 L317.8,142.2 L320.2,144.3 L322.6,146.5 L325,148.8 L325.1,148.8 L325.2,148 L325.4,146.8 L325.7,145.1 L326,143.6 L326.3,142.3 L326.9,140.1 L327.5,138.4 L327.8,137.6 L328.6,136.3 L329.3,135.3 L329.9,134.7 L331.1,133.8 L332.3,133.3 L333.5,132.9 L335.3,133.1 L337.1,133.9 L339.6,135.2 L342,136.8 L344.4,138.7 L346.8,140.7 L349.2,142.8 L351.7,145.2 L354.1,147.6 L354.1,147.6 L354.2,146.8 L354.4,145.6 L354.7,143.9 L355,142.4 L355.3,141.1 L355.9,138.9 L356.5,137.2 L356.9,136.4 L357.6,135.1 L358.3,134.1 L358.9,133.5 L360.1,132.6 L361.3,132.1 L362.5,131.7 L364.4,131.9 L366.2,132.7 L368.6,134 L371,135.6 L373.4,137.5 L375.8,139.5 L378.3,141.6 L380.7,144 L383.1,146.4 L383.1,146.4 L383.2,145.6 L383.4,144.4 L383.7,142.7 L384,141.2 L384.3,139.9 L384.9,137.7 L385.5,136 L385.9,135.2 L386.6,133.9 L387.3,132.9 L387.9,132.3 L389.2,131.4 L390.4,130.9 L391.6,130.5 L393.4,130.7 L395.2,131.5 L397.6,132.9 L400,134.6 L402.5,136.5 L404.9,138.5 L407.3,140.8 L409.7,143.2 L412.1,145.7 L412.1,145.7 L412.3,144.9 L412.4,143.8 L412.7,142.1 L413,140.6 L413.3,139.3 L413.9,137.2 L414.6,135.5 L414.9,134.7 L415.6,133.4 L416.4,132.4 L417,131.8 L418.2,131 L419.4,130.4 L420.6,130.1 L422.4,130.3 L424.2,131.1 L426.6,132.4 L429.1,134.1 L431.5,135.9 L433.9,138 L436.3,140.2 L438.7,142.5 L441.1,145 L441.2,145 L441.3,144.2 L441.5,143.1 L441.8,141.4 L442.1,139.9 L442.4,138.6 L443,136.5 L443.6,134.8 L443.9,134 L444.7,132.7 L445.4,131.7 L446,131.1 L447.2,130.3 L448.4,129.7 L449.6,129.4 L451.4,129.6 L453.3,130.4 L455.7,131.7 L458.1,133.4 L460.5,135.2 L462.9,137.2 L465.3,139.4 L467.8,141.7 L470.2,144.2 L470.2,144.2 L470.3,143.4 L470.5,142.4 L470.8,140.7 L471.1,139.3 L471.4,138.1 L472,136.1 L472.6,134.5 L473,133.7 L473.7,132.5 L474.4,131.5 L475,131 L476.2,130.1 L477.4,129.6 L478.6,129.3 L480.5,129.5 L482.3,130 L484.7,130.8 L487.1,132 L489.5,133.4 L492,135.8 L494.4,138.8 L496.8,141.8 L499.2,144.5 L501.6,147.3 L504,150 L506.5,152.8 L508.9,155.6 L511.3,158.4 L513.7,161.2 L516.1,164.1 L518.6,167 L521,170 L523.4,172.9 L525.8,175.7 L528.2,178.6 L530.7,181.4 L533.1,184.1 L535.5,186.9 L537.9,189.5 L540.3,192.2 L542.7,194.9 L545.2,197.5 L547.6,200.1 L550,202.8 L552.4,205.7 L554.8,208.7 L557.3,211.7 L559.7,214.7 L562.1,217.8 L564.5,220.9 L566.9,223.9 L569.4,226.8 L571.8,229.6 L574.2,232.3 L576.6,234.8 L576.6,298.9 L574.2,294.8 L571.8,290.6 L569.4,286.3 L566.9,282 L564.5,277.5 L562.1,273 L559.7,268.6 L557.3,264.2 L554.8,259.9 L552.4,255.8 L550,251.7 L547.6,247.8 L545.2,244.1 L542.7,240.5 L540.3,236.9 L537.9,233.3 L535.5,229.7 L533.1,226.1 L530.7,222.6 L528.2,219 L525.8,215.5 L523.4,212 L521,208.6 L518.6,205.1 L516.1,201.7 L513.7,198.4 L511.3,195.2 L508.9,192.1 L506.5,189.1 L504,186.2 L501.6,183.4 L499.2,180.6 L496.8,177.8 L494.4,174.8 L492,171.9 L489.5,169.5 L487.1,167.6 L484.7,166.1 L482.3,165.3 L480.5,165.5 L478.6,165.9 L477.4,166.4 L476.2,167 L475,168 L474.4,168.7 L473.7,169.7 L473,171 L472.6,171.8 L472,173.3 L471.4,175.1 L471.1,176.2 L470.8,177.4 L470.5,178.8 L470.3,179.7 L470.2,180.3 L470.2,180.3 L467.8,177.1 L465.3,174.3 L462.9,171.7 L460.5,169.5 L458.1,167.7 L455.7,166.3 L453.3,165.5 L451.4,165.6 L449.6,166 L448.4,166.5 L447.2,167.2 L446,168.3 L445.4,169 L444.7,170 L443.9,171.3 L443.6,172.1 L443,173.7 L442.4,175.7 L442.1,176.8 L441.8,178.1 L441.5,179.5 L441.3,180.4 L441.2,181.1 L441.1,181.1 L438.7,177.9 L436.3,175 L433.9,172.5 L431.5,170.2 L429.1,168.4 L426.6,167 L424.2,166.2 L422.4,166.3 L420.6,166.7 L419.4,167.2 L418.2,167.9 L417,169 L416.4,169.7 L415.6,170.7 L414.9,172 L414.6,172.8 L413.9,174.4 L413.3,176.4 L413,177.5 L412.7,178.8 L412.4,180.2 L412.3,181.1 L412.1,181.8 L412.1,181.8 L409.7,178.6 L407.3,175.6 L404.9,173 L402.5,170.7 L400,168.8 L397.6,167.4 L395.2,166.6 L393.4,166.7 L391.6,167.1 L390.4,167.6 L389.2,168.3 L387.9,169.4 L387.3,170.1 L386.6,171.2 L385.9,172.6 L385.5,173.4 L384.9,175 L384.3,177 L384,178.1 L383.7,179.4 L383.4,180.9 L383.2,181.8 L383.1,182.5 L383.1,182.5 L380.7,179.4 L378.3,176.5 L375.8,174 L373.4,171.8 L371,170 L368.6,168.6 L366.2,167.8 L364.4,167.9 L362.5,168.3 L361.3,168.8 L360.1,169.5 L358.9,170.6 L358.3,171.3 L357.6,172.4 L356.9,173.8 L356.5,174.6 L355.9,176.2 L355.3,178.2 L355,179.3 L354.7,180.6 L354.4,182.1 L354.2,183 L354.1,183.7 L354.1,183.7 L351.7,180.6 L349.2,177.7 L346.8,175.2 L344.4,173 L342,171.2 L339.6,169.8 L337.1,169 L335.3,169.1 L333.5,169.5 L332.3,170 L331.1,170.7 L329.9,171.8 L329.3,172.5 L328.6,173.6 L327.8,175 L327.5,175.8 L326.9,177.4 L326.3,179.4 L326,180.5 L325.7,181.8 L325.4,183.3 L325.2,184.2 L325.1,184.9 L325,184.9 L322.6,181.9 L320.2,179.2 L317.8,176.8 L315.4,174.7 L313,173 L310.5,171.6 L308.1,170.9 L306.3,171 L304.5,171.4 L303.3,171.9 L302.1,172.6 L300.9,173.7 L300.3,174.4 L299.5,175.4 L298.8,176.7 L298.4,177.5 L297.8,179.1 L297.2,181.1 L296.9,182.2 L296.6,183.5 L296.3,184.9 L296.2,185.8 L296,186.5 L296,186.5 L293.6,183.7 L291.2,181.1 L288.8,178.9 L286.4,176.9 L283.9,175.3 L281.5,174.1 L279.1,173.3 L277.3,173.5 L275.5,173.9 L274.3,174.4 L273.1,175.2 L271.8,176.3 L271.2,177 L270.5,178.1 L269.8,179.5 L269.4,180.3 L268.8,182 L268.2,184 L267.9,185.2 L267.6,186.5 L267.3,187.9 L267.1,188.9 L267,189.6 L267,189.6 L264.6,186.9 L262.2,184.5 L259.7,182.4 L257.3,180.6 L254.9,179.1 L252.5,177.9 L250.1,177.2 L248.3,177.4 L246.4,177.9 L245.2,178.5 L244,179.3 L242.8,180.6 L242.2,181.5 L241.5,182.7 L240.8,184.3 L240.4,185.3 L239.8,187.2 L239.2,189.5 L238.9,190.9 L238.6,192.4 L238.3,194.1 L238.1,195.3 L238,196.1 L238,196.1 L235.6,193.1 L233.1,190.5 L230.7,188.1 L228.3,186.1 L225.9,184.5 L223.5,183.2 L221,182.4 L219.2,182.6 L217.4,183.1 L216.2,183.7 L215,184.6 L213.8,185.9 L213.2,186.8 L212.5,188.2 L211.7,189.8 L211.4,190.8 L210.8,192.8 L210.2,195.3 L209.9,196.7 L209.6,198.3 L209.3,200.1 L209.1,201.3 L209,202.2 L208.9,202.2 L206.5,199.2 L204.1,196.6 L201.7,194.3 L199.3,192.3 L196.9,190.7 L194.4,189.5 L192,188.7 L190.2,188.9 L188.4,189.6 L187.2,190.4 L186,191.5 L184.8,193.2 L184.2,194.4 L183.4,196.1 L182.7,198.3 L182.3,199.6 L181.7,202.1 L181.1,205.4 L180.8,207.3 L180.5,209.4 L180.2,211.8 L180,213.4 L179.9,214.6 L179.9,214.5 L177.5,211.4 L175.1,208.7 L172.7,206.2 L170.3,204.2 L167.8,202.5 L165.4,201.2 L163,200.4 L161.2,200.7 L159.4,201.7 L158.2,202.8 L156.9,204.4 L155.7,206.8 L155.1,208.5 L154.4,211 L153.7,214.1 L153.3,216.1 L152.7,219.9 L152.1,224.8 L151.8,227.7 L151.5,231 L151.2,234.8 L151,237.3 L150.9,239.1 L150.9,239.1 L148.5,235.6 L146.1,232.4 L143.6,229.6 L141.2,227.3 L138.8,225.3 L136.4,223.9 L134,223 L132.2,223.5 L130.3,224.9 L129.1,226.4 L127.9,228.7 L126.7,232.1 L126.1,234.5 L125.4,238.1 L124.7,242.7 L124.3,245.6 L123.7,251.3 L123.1,258.7 L122.8,263.3 L122.5,268.6 L122.2,274.8 L122,279.1 L121.9,282.1 L121.9,282.1 L119.5,277.7 L117,273.9 L114.6,270.5 L112.2,267.6 L109.8,265.3 L107.4,263.5 L104.9,262.4 L103.1,263.6 L101.3,266.8 L100.1,270.4 L98.9,275.9 L97.7,284.5 L97.1,290.6 L96.4,300.5 L95.6,314.3 L95.3,323.4 L94.7,343.8 L94.1,376 L93.8,400.7 L93.5,437.5 L93.2,503.9 L93,595.3 L92.9,700Z" fill="#ac64f6"/>
<path d="M92.9,700 L93,553 L93.2,461.8 L93.5,395.8 L93.8,359.3 L94.1,334.8 L94.7,303.1 L95.3,283.2 L95.6,274.5 L96.4,261.7 L97.1,253.1 L97.7,247.9 L98.9,240.8 L100.1,236.6 L101.3,234 L103.1,232.5 L104.9,233.4 L107.4,235.2 L109.8,237.6 L112.2,240.4 L114.6,243.5 L117,246.8 L119.5,250.4 L121.9,254.2 L121.9,254.2 L122,250.5 L122.2,245.6 L122.5,238.5 L122.8,232.6 L123.1,227.6 L123.7,219.7 L124.3,213.8 L124.7,211 L125.4,206.6 L126.1,203.3 L126.7,201.2 L127.9,198.2 L129.1,196.4 L130.3,195.3 L132.2,194.7 L134,195.4 L136.4,196.9 L138.8,198.7 L141.2,200.9 L143.6,203.2 L146.1,205.9 L148.5,208.7 L150.9,211.7 L150.9,211.7 L151,209.5 L151.2,206.6 L151.5,202.3 L151.8,198.6 L152.1,195.4 L152.7,190.3 L153.3,186.4 L153.7,184.5 L154.4,181.5 L155.1,179.2 L155.7,177.7 L156.9,175.7 L158.2,174.4 L159.4,173.6 L161.2,173.2 L163,173.8 L165.4,175.1 L167.8,176.7 L170.3,178.6 L172.7,180.7 L175.1,182.9 L177.5,185.4 L179.9,188 L179.9,188 L180,186.7 L180.2,184.8 L180.5,182 L180.8,179.6 L181.1,177.5 L181.7,174.1 L182.3,171.4 L182.7,170.1 L183.4,168 L184.2,166.4 L184.8,165.4 L186,163.9 L187.2,163 L188.4,162.5 L190.2,162.2 L192,162.8 L194.4,164 L196.9,165.5 L199.3,167.3 L201.7,169.2 L204.1,171.4 L206.5,173.7 L208.9,176.2 L209,176.2 L209.1,175.2 L209.3,173.8 L209.6,171.7 L209.9,169.9 L210.2,168.3 L210.8,165.7 L211.4,163.6 L211.7,162.6 L212.5,161 L213.2,159.7 L213.8,159 L215,157.8 L216.2,157.1 L217.4,156.7 L219.2,156.5 L221,157.1 L223.5,158.3 L225.9,159.8 L228.3,161.5 L230.7,163.5 L233.1,165.7 L235.6,168 L238,170.5 L238,170.5 L238.1,169.5 L238.3,168.2 L238.6,166.2 L238.9,164.5 L239.2,163 L239.8,160.4 L240.4,158.5 L240.8,157.5 L241.5,155.9 L242.2,154.7 L242.8,154 L244,152.9 L245.2,152.2 L246.4,151.8 L248.3,151.6 L250.1,152.1 L252.5,153.2 L254.9,154.6 L257.3,156.2 L259.7,158 L262.2,159.9 L264.6,162.1 L267,164.3 L267,164.3 L267.1,163.5 L267.3,162.4 L267.6,160.6 L267.9,159.1 L268.2,157.8 L268.8,155.6 L269.4,153.9 L269.8,153.1 L270.5,151.7 L271.2,150.7 L271.8,150 L273.1,149.1 L274.3,148.5 L275.5,148.1 L277.3,148 L279.1,148.5 L281.5,149.7 L283.9,151.1 L286.4,152.8 L288.8,154.6 L291.2,156.7 L293.6,158.9 L296,161.3 L296,161.3 L296.2,160.5 L296.3,159.4 L296.6,157.8 L296.9,156.4 L297.2,155.1 L297.8,153 L298.4,151.4 L298.8,150.6 L299.5,149.3 L300.3,148.3 L300.9,147.7 L302.1,146.8 L303.3,146.2 L304.5,145.9 L306.3,145.7 L308.1,146.3 L310.5,147.5 L313,149 L315.4,150.8 L317.8,152.8 L320.2,154.9 L322.6,157.2 L325,159.7 L325.1,159.7 L325.2,158.9 L325.4,157.8 L325.7,156.2 L326,154.7 L326.3,153.4 L326.9,151.3 L327.5,149.6 L327.8,148.8 L328.6,147.5 L329.3,146.5 L329.9,145.8 L331.1,144.9 L332.3,144.3 L333.5,144 L335.3,143.8 L337.1,144.5 L339.6,145.7 L342,147.3 L344.4,149.1 L346.8,151.2 L349.2,153.5 L351.7,155.9 L354.1,158.5 L354.1,158.5 L354.2,157.7 L354.4,156.6 L354.7,155 L355,153.5 L355.3,152.2 L355.9,150.1 L356.5,148.4 L356.9,147.6 L357.6,146.3 L358.3,145.3 L358.9,144.6 L360.1,143.7 L361.3,143.1 L362.5,142.8 L364.4,142.6 L366.2,143.3 L368.6,144.5 L371,146.1 L373.4,147.9 L375.8,150 L378.3,152.3 L380.7,154.7 L383.1,157.3 L383.1,157.3 L383.2,156.5 L383.4,155.4 L383.7,153.8 L384,152.3 L384.3,151 L384.9,148.9 L385.5,147.2 L385.9,146.4 L386.6,145.1 L387.3,144.1 L387.9,143.4 L389.2,142.5 L390.4,141.9 L391.6,141.6 L393.4,141.4 L395.2,142.1 L397.6,143.4 L400,145 L402.5,146.9 L404.9,149.1 L407.3,151.4 L409.7,153.9 L412.1,156.6 L412.1,156.6 L412.3,155.9 L412.4,154.8 L412.7,153.1 L413,151.7 L413.3,150.5 L413.9,148.4 L414.6,146.7 L414.9,145.9 L415.6,144.6 L416.4,143.6 L417,143 L418.2,142.1 L419.4,141.5 L420.6,141.2 L422.4,141 L424.2,141.7 L426.6,142.9 L429.1,144.5 L431.5,146.4 L433.9,148.5 L436.3,150.8 L438.7,153.3 L441.1,155.9 L441.2,155.9 L441.3,155.2 L441.5,154.1 L441.8,152.4 L442.1,151 L442.4,149.8 L443,147.7 L443.6,146 L443.9,145.2 L444.7,143.9 L445.4,142.9 L446,142.3 L447.2,141.4 L448.4,140.8 L449.6,140.5 L451.4,140.3 L453.3,141 L455.7,142.2 L458.1,143.8 L460.5,145.7 L462.9,147.8 L465.3,150 L467.8,152.5 L470.2,155.1 L470.2,155.1 L470.3,154.4 L470.5,153.4 L470.8,151.8 L471.1,150.4 L471.4,149.2 L472,147.2 L472.6,145.7 L473,144.9 L473.7,143.6 L474.4,142.7 L475,142.1 L476.2,141.2 L477.4,140.7 L478.6,140.3 L480.5,140.2 L482.3,140.7 L484.7,141.5 L487.1,142.8 L489.5,144.3 L492,146.7 L494.4,149.7 L496.8,152.7 L499.2,155.4 L501.6,158.2 L504,160.9 L506.5,163.7 L508.9,166.5 L511.3,169.4 L513.7,172.2 L516.1,175.1 L518.6,178.1 L521,181.1 L523.4,184 L525.8,186.9 L528.2,189.8 L530.7,192.7 L533.1,195.5 L535.5,198.2 L537.9,201 L540.3,203.7 L542.7,206.4 L545.2,209.1 L547.6,211.8 L550,214.6 L552.4,217.6 L554.8,220.6 L557.3,223.7 L559.7,226.8 L562.1,230 L564.5,233.3 L566.9,236.4 L569.4,239.3 L571.8,242.2 L574.2,245 L576.6,247.7 L576.6,274.7 L574.2,271.3 L571.8,267.9 L569.4,264.3 L566.9,260.7 L564.5,257 L562.1,253.2 L559.7,249.4 L557.3,245.7 L554.8,242 L552.4,238.4 L550,235 L547.6,231.7 L545.2,228.5 L542.7,225.4 L540.3,222.2 L537.9,219.1 L535.5,215.9 L533.1,212.8 L530.7,209.6 L528.2,206.4 L525.8,203.3 L523.4,200.1 L521,196.9 L518.6,193.7 L516.1,190.5 L513.7,187.4 L511.3,184.4 L508.9,181.4 L506.5,178.5 L504,175.7 L501.6,172.9 L499.2,170.2 L496.8,167.4 L494.4,164.4 L492,161.5 L489.5,159 L487.1,157.3 L484.7,155.8 L482.3,155 L480.5,154.9 L478.6,155.3 L477.4,155.7 L476.2,156.3 L475,157.2 L474.4,157.9 L473.7,158.9 L473,160.1 L472.6,160.9 L472,162.4 L471.4,164.4 L471.1,165.5 L470.8,166.8 L470.5,168.2 L470.3,169.2 L470.2,169.8 L470.2,169.8 L467.8,166.9 L465.3,164.2 L462.9,161.7 L460.5,159.5 L458.1,157.7 L455.7,156.2 L453.3,155.2 L451.4,155 L449.6,155.4 L448.4,155.8 L447.2,156.5 L446,157.4 L445.4,158.1 L444.7,159.1 L443.9,160.5 L443.6,161.3 L443,162.9 L442.4,164.9 L442.1,166.1 L441.8,167.4 L441.5,168.9 L441.3,169.9 L441.2,170.6 L441.1,170.6 L438.7,167.7 L436.3,164.9 L433.9,162.4 L431.5,160.2 L429.1,158.4 L426.6,156.9 L424.2,155.9 L422.4,155.7 L420.6,156.1 L419.4,156.5 L418.2,157.2 L417,158.1 L416.4,158.8 L415.6,159.8 L414.9,161.2 L414.6,162 L413.9,163.6 L413.3,165.6 L413,166.8 L412.7,168.1 L412.4,169.6 L412.3,170.6 L412.1,171.3 L412.1,171.3 L409.7,168.3 L407.3,165.5 L404.9,163 L402.5,160.7 L400,158.8 L397.6,157.3 L395.2,156.3 L393.4,156.1 L391.6,156.5 L390.4,156.9 L389.2,157.6 L387.9,158.6 L387.3,159.3 L386.6,160.3 L385.9,161.7 L385.5,162.5 L384.9,164.1 L384.3,166.2 L384,167.4 L383.7,168.8 L383.4,170.3 L383.2,171.3 L383.1,172 L383.1,172 L380.7,169.1 L378.3,166.4 L375.8,164 L373.4,161.8 L371,159.9 L368.6,158.5 L366.2,157.5 L364.4,157.3 L362.5,157.7 L361.3,158.1 L360.1,158.8 L358.9,159.8 L358.3,160.5 L357.6,161.5 L356.9,162.9 L356.5,163.7 L355.9,165.3 L355.3,167.4 L355,168.6 L354.7,170 L354.4,171.5 L354.2,172.5 L354.1,173.2 L354.1,173.2 L351.7,170.3 L349.2,167.6 L346.8,165.2 L344.4,163 L342,161.1 L339.6,159.7 L337.1,158.7 L335.3,158.5 L333.5,158.9 L332.3,159.3 L331.1,160 L329.9,161 L329.3,161.7 L328.6,162.7 L327.8,164.1 L327.5,164.9 L326.9,166.5 L326.3,168.6 L326,169.8 L325.7,171.2 L325.4,172.7 L325.2,173.7 L325.1,174.4 L325,174.4 L322.6,171.6 L320.2,169.1 L317.8,166.7 L315.4,164.7 L313,162.9 L310.5,161.5 L308.1,160.6 L306.3,160.4 L304.5,160.8 L303.3,161.2 L302.1,161.9 L300.9,162.8 L300.3,163.5 L299.5,164.5 L298.8,165.9 L298.4,166.7 L297.8,168.3 L297.2,170.3 L296.9,171.5 L296.6,172.8 L296.3,174.3 L296.2,175.3 L296,176 L296,176 L293.6,173.4 L291.2,170.9 L288.8,168.7 L286.4,166.8 L283.9,165.1 L281.5,163.8 L279.1,162.8 L277.3,162.7 L275.5,163.1 L274.3,163.6 L273.1,164.2 L271.8,165.3 L271.2,166 L270.5,167 L269.8,168.4 L269.4,169.3 L268.8,171 L268.2,173.1 L267.9,174.3 L267.6,175.8 L267.3,177.3 L267.1,178.4 L267,179.1 L267,179.1 L264.6,176.6 L262.2,174.3 L259.7,172.1 L257.3,170.3 L254.9,168.7 L252.5,167.4 L250.1,166.5 L248.3,166.4 L246.4,166.9 L245.2,167.4 L244,168.2 L242.8,169.3 L242.2,170.1 L241.5,171.4 L240.8,173 L240.4,174 L239.8,175.9 L239.2,178.4 L238.9,179.8 L238.6,181.5 L238.3,183.3 L238.1,184.6 L238,185.4 L238,185.4 L235.6,182.6 L233.1,180.1 L230.7,177.7 L228.3,175.7 L225.9,173.9 L223.5,172.5 L221,171.6 L219.2,171.4 L217.4,171.9 L216.2,172.4 L215,173.2 L213.8,174.5 L213.2,175.3 L212.5,176.6 L211.7,178.3 L211.4,179.3 L210.8,181.3 L210.2,183.9 L209.9,185.5 L209.6,187.2 L209.3,189.1 L209.1,190.4 L209,191.3 L208.9,191.3 L206.5,188.5 L204.1,186 L201.7,183.6 L199.3,181.6 L196.9,179.8 L194.4,178.4 L192,177.5 L190.2,177.4 L188.4,178 L187.2,178.6 L186,179.7 L184.8,181.3 L184.2,182.3 L183.4,184 L182.7,186.2 L182.3,187.5 L181.7,190.2 L181.1,193.6 L180.8,195.6 L180.5,197.9 L180.2,200.6 L180,202.3 L179.9,203.5 L179.9,203.5 L177.5,200.6 L175.1,197.8 L172.7,195.3 L170.3,193.1 L167.8,191.3 L165.4,189.8 L163,188.8 L161.2,188.7 L159.4,189.6 L158.2,190.5 L156.9,192 L155.7,194.2 L155.1,195.8 L154.4,198.2 L153.7,201.4 L153.3,203.3 L152.7,207.3 L152.1,212.5 L151.8,215.6 L151.5,219.1 L151.2,223.3 L151,226 L150.9,228 L150.9,228 L148.5,224.6 L146.1,221.4 L143.6,218.6 L141.2,216.1 L138.8,213.9 L136.4,212.2 L134,211.1 L132.2,211.1 L130.3,212.2 L129.1,213.6 L127.9,215.6 L126.7,218.8 L126.1,221.1 L125.4,224.5 L124.7,229.2 L124.3,232.1 L123.7,238 L123.1,245.9 L122.8,250.8 L122.5,256.5 L122.2,263.2 L122,267.8 L121.9,271.2 L121.9,271.2 L119.5,267 L117,263.1 L114.6,259.6 L112.2,256.5 L109.8,253.8 L107.4,251.7 L104.9,250.3 L103.1,250.6 L101.3,253.3 L100.1,256.4 L98.9,261.2 L97.7,269.1 L97.1,274.8 L96.4,284.1 L95.6,297.4 L95.3,306.2 L94.7,326.4 L94.1,358.3 L93.8,382.9 L93.5,419.5 L93.2,485.7 L93,576.9 L92.9,700Z" fill="#9a40f4"/>
<path d="M92.9,700 L93,563.9 L93.2,472.8 L93.5,406.7 L93.8,370.3 L94.1,345.9 L94.7,314.3 L95.3,294.4 L95.6,285.7 L96.4,272.8 L97.1,263.8 L97.7,258.3 L98.9,250.9 L100.1,246.3 L101.3,243.4 L103.1,241 L104.9,241.6 L107.4,243.3 L109.8,245.5 L112.2,248.1 L114.6,251.2 L117,254.5 L119.5,258.2 L121.9,262.2 L121.9,262.2 L122,258.7 L122.2,253.9 L122.5,247 L122.8,241.2 L123.1,236.2 L123.7,228.3 L124.3,222.3 L124.7,219.4 L125.4,214.9 L126.1,211.5 L126.7,209.3 L127.9,206.2 L129.1,204.3 L130.3,203.1 L132.2,202 L134,202.5 L136.4,203.8 L138.8,205.6 L141.2,207.8 L143.6,210.3 L146.1,213 L148.5,216 L150.9,219.2 L150.9,219.2 L151,217.1 L151.2,214.3 L151.5,210.1 L151.8,206.4 L152.1,203.3 L152.7,198.1 L153.3,194.1 L153.7,192.2 L154.4,189 L155.1,186.7 L155.7,185.2 L156.9,183 L158.2,181.6 L159.4,180.8 L161.2,180 L163,180.5 L165.4,181.6 L167.8,183.2 L170.3,185 L172.7,187.2 L175.1,189.6 L177.5,192.2 L179.9,195 L179.9,195 L180,193.7 L180.2,191.9 L180.5,189.2 L180.8,186.8 L181.1,184.7 L181.7,181.2 L182.3,178.5 L182.7,177.2 L183.4,175 L184.2,173.4 L184.8,172.4 L186,170.8 L187.2,169.9 L188.4,169.2 L190.2,168.7 L192,169.1 L194.4,170.2 L196.9,171.7 L199.3,173.4 L201.7,175.5 L204.1,177.7 L206.5,180.2 L208.9,182.8 L209,182.8 L209.1,181.8 L209.3,180.5 L209.6,178.5 L209.9,176.7 L210.2,175.1 L210.8,172.5 L211.4,170.4 L211.7,169.4 L212.5,167.7 L213.2,166.5 L213.8,165.7 L215,164.5 L216.2,163.7 L217.4,163.2 L219.2,162.8 L221,163.2 L223.5,164.3 L225.9,165.8 L228.3,167.5 L230.7,169.6 L233.1,171.8 L235.6,174.3 L238,176.9 L238,176.9 L238.1,176 L238.3,174.7 L238.6,172.8 L238.9,171.1 L239.2,169.6 L239.8,167.1 L240.4,165.1 L240.8,164.1 L241.5,162.5 L242.2,161.3 L242.8,160.5 L244,159.4 L245.2,158.7 L246.4,158.2 L248.3,157.8 L250.1,158.2 L252.5,159.2 L254.9,160.5 L257.3,162.1 L259.7,163.9 L262.2,166 L264.6,168.2 L267,170.6 L267,170.6 L267.1,169.8 L267.3,168.7 L267.6,167.1 L267.9,165.6 L268.2,164.3 L268.8,162.2 L269.4,160.5 L269.8,159.6 L270.5,158.2 L271.2,157.2 L271.8,156.5 L273.1,155.5 L274.3,154.9 L275.5,154.5 L277.3,154.1 L279.1,154.5 L281.5,155.5 L283.9,156.9 L286.4,158.6 L288.8,160.5 L291.2,162.7 L293.6,165 L296,167.5 L296,167.5 L296.2,166.8 L296.3,165.7 L296.6,164.2 L296.9,162.8 L297.2,161.5 L297.8,159.5 L298.4,157.9 L298.8,157.1 L299.5,155.7 L300.3,154.7 L300.9,154.1 L302.1,153.1 L303.3,152.5 L304.5,152.1 L306.3,151.8 L308.1,152.2 L310.5,153.3 L313,154.8 L315.4,156.5 L317.8,158.6 L320.2,160.8 L322.6,163.3 L325,165.9 L325.1,165.9 L325.2,165.1 L325.4,164.1 L325.7,162.5 L326,161.1 L326.3,159.8 L326.9,157.7 L327.5,156.1 L327.8,155.2 L328.6,153.9 L329.3,152.9 L329.9,152.2 L331.1,151.3 L332.3,150.6 L333.5,150.2 L335.3,149.9 L337.1,150.3 L339.6,151.5 L342,153 L344.4,154.9 L346.8,157 L349.2,159.4 L351.7,161.9 L354.1,164.7 L354.1,164.7 L354.2,163.9 L354.4,162.9 L354.7,161.3 L355,159.9 L355.3,158.6 L355.9,156.5 L356.5,154.9 L356.9,154 L357.6,152.7 L358.3,151.7 L358.9,151 L360.1,150.1 L361.3,149.4 L362.5,149 L364.4,148.7 L366.2,149.1 L368.6,150.3 L371,151.8 L373.4,153.7 L375.8,155.8 L378.3,158.2 L380.7,160.7 L383.1,163.5 L383.1,163.5 L383.2,162.7 L383.4,161.7 L383.7,160.1 L384,158.7 L384.3,157.4 L384.9,155.3 L385.5,153.7 L385.9,152.8 L386.6,151.5 L387.3,150.5 L387.9,149.8 L389.2,148.9 L390.4,148.2 L391.6,147.8 L393.4,147.5 L395.2,148 L397.6,149.1 L400,150.7 L402.5,152.6 L404.9,154.8 L407.3,157.3 L409.7,159.9 L412.1,162.8 L412.1,162.8 L412.3,162.1 L412.4,161 L412.7,159.5 L413,158.1 L413.3,156.8 L413.9,154.8 L414.6,153.2 L414.9,152.4 L415.6,151 L416.4,150 L417,149.4 L418.2,148.4 L419.4,147.8 L420.6,147.4 L422.4,147.1 L424.2,147.6 L426.6,148.7 L429.1,150.3 L431.5,152.1 L433.9,154.3 L436.3,156.7 L438.7,159.3 L441.1,162.1 L441.2,162.1 L441.3,161.4 L441.5,160.3 L441.8,158.8 L442.1,157.4 L442.4,156.1 L443,154.1 L443.6,152.5 L443.9,151.7 L444.7,150.3 L445.4,149.3 L446,148.7 L447.2,147.7 L448.4,147.1 L449.6,146.7 L451.4,146.4 L453.3,146.8 L455.7,148 L458.1,149.5 L460.5,151.4 L462.9,153.5 L465.3,155.9 L467.8,158.5 L470.2,161.3 L470.2,161.3 L470.3,160.6 L470.5,159.6 L470.8,158.1 L471.1,156.8 L471.4,155.6 L472,153.7 L472.6,152.1 L473,151.3 L473.7,150.1 L474.4,149.1 L475,148.5 L476.2,147.6 L477.4,147 L478.6,146.6 L480.5,146.3 L482.3,146.6 L484.7,147.5 L487.1,148.9 L489.5,150.5 L492,152.9 L494.4,155.9 L496.8,158.9 L499.2,161.6 L501.6,164.4 L504,167.1 L506.5,170 L508.9,172.9 L511.3,175.9 L513.7,178.9 L516.1,181.9 L518.6,185.1 L521,188.3 L523.4,191.5 L525.8,194.7 L528.2,197.8 L530.7,201 L533.1,204.1 L535.5,207.3 L537.9,210.4 L540.3,213.5 L542.7,216.6 L545.2,219.8 L547.6,222.9 L550,226.2 L552.4,229.7 L554.8,233.2 L557.3,236.9 L559.7,240.5 L562.1,244.3 L564.5,248.1 L566.9,251.8 L569.4,255.4 L571.8,258.9 L574.2,262.3 L576.6,265.7" fill="none" stroke="#0a0a0a" stroke-width="1.65" stroke-linejoin="round"/>
</g>
<line x1="68.9" y1="30.3" x2="68.9" y2="440.8" stroke="#000" stroke-width="2.1"/>
<line x1="62.3" y1="434.5" x2="602.7" y2="434.5" stroke="#000" stroke-width="1.8"/>
<line x1="601.8" y1="434.5" x2="601.8" y2="440.4" stroke="#000" stroke-width="1.8"/>
<line x1="62.3" y1="31.2" x2="68.9" y2="31.2" stroke="#000" stroke-width="1.8"/>
<line x1="65.7" y1="363" x2="68.9" y2="363" stroke="#000" stroke-width="1.5"/>
<line x1="65.7" y1="321.2" x2="68.9" y2="321.2" stroke="#000" stroke-width="1.5"/>
<line x1="65.7" y1="291.6" x2="68.9" y2="291.6" stroke="#000" stroke-width="1.5"/>
<line x1="65.7" y1="268.6" x2="68.9" y2="268.6" stroke="#000" stroke-width="1.5"/>
<line x1="65.7" y1="249.8" x2="68.9" y2="249.8" stroke="#000" stroke-width="1.5"/>
<line x1="65.7" y1="233.9" x2="68.9" y2="233.9" stroke="#000" stroke-width="1.5"/>
<line x1="65.7" y1="220.1" x2="68.9" y2="220.1" stroke="#000" stroke-width="1.5"/>
<line x1="65.7" y1="208" x2="68.9" y2="208" stroke="#000" stroke-width="1.5"/>
<line x1="64.9" y1="197.1" x2="68.9" y2="197.1" stroke="#000" stroke-width="1.5"/>
<line x1="65.7" y1="125.6" x2="68.9" y2="125.6" stroke="#000" stroke-width="1.5"/>
<line x1="65.7" y1="83.8" x2="68.9" y2="83.8" stroke="#000" stroke-width="1.5"/>
<line x1="65.7" y1="54.2" x2="68.9" y2="54.2" stroke="#000" stroke-width="1.5"/>
<line x1="92.8" y1="434.5" x2="92.8" y2="437" stroke="#000" stroke-width="1.6"/>
<text x="92.8" y="449.2" font-size="11.7" text-anchor="middle" fill="#222">0</text>
<line x1="153.3" y1="434.5" x2="153.3" y2="437" stroke="#000" stroke-width="1.6"/>
<text x="153.3" y="449.2" font-size="11.7" text-anchor="middle" fill="#222">50</text>
<line x1="213.8" y1="434.5" x2="213.8" y2="437" stroke="#000" stroke-width="1.6"/>
<text x="213.8" y="449.2" font-size="11.7" text-anchor="middle" fill="#222">100</text>
<line x1="274.3" y1="434.5" x2="274.3" y2="437" stroke="#000" stroke-width="1.6"/>
<text x="274.3" y="449.2" font-size="11.7" text-anchor="middle" fill="#222">150</text>
<line x1="334.7" y1="434.5" x2="334.7" y2="437" stroke="#000" stroke-width="1.6"/>
<text x="334.7" y="449.2" font-size="11.7" text-anchor="middle" fill="#222">200</text>
<line x1="395.2" y1="434.5" x2="395.2" y2="437" stroke="#000" stroke-width="1.6"/>
<text x="395.2" y="449.2" font-size="11.7" text-anchor="middle" fill="#222">250</text>
<line x1="455.7" y1="434.5" x2="455.7" y2="437" stroke="#000" stroke-width="1.6"/>
<text x="455.7" y="449.2" font-size="11.7" text-anchor="middle" fill="#222">300</text>
<line x1="516.1" y1="434.5" x2="516.1" y2="437" stroke="#000" stroke-width="1.6"/>
<text x="516.1" y="449.2" font-size="11.7" text-anchor="middle" fill="#222">350</text>
<line x1="576.6" y1="434.5" x2="576.6" y2="437" stroke="#000" stroke-width="1.6"/>
<text x="576.6" y="449.2" font-size="11.7" text-anchor="middle" fill="#222">400</text>
<text x="61.9" y="35.4" font-size="11.7" text-anchor="end" fill="#222">5.00e4</text>
<text x="61.9" y="201.3" font-size="11.7" text-anchor="end" fill="#222">10000</text>
<text x="61.9" y="438.7" font-size="11.7" text-anchor="end" fill="#222">1000</text>
<text x="335" y="465" font-size="13.3" text-anchor="middle" fill="#222" textLength="49.5" lengthAdjust="spacingAndGlyphs">Time (h)</text>
<text transform="translate(17.8,252.5) rotate(-90)" font-size="13.5" text-anchor="middle" fill="#222" textLength="186" lengthAdjust="spacingAndGlyphs">CBG-G concentration (µmol/L)</text>
<text x="335.2" y="16.5" font-size="13.3" text-anchor="middle" fill="#222" textLength="100.4" lengthAdjust="spacingAndGlyphs">CBG_OIL_dosing</text>
<text x="84.2" y="51" font-size="27.3" fill="#000">E</text>
</g>
<g transform="translate(1289.6,505.2)">
<rect x="68.9" y="30.2" width="532.9" height="404.3" fill="#fbfbfd"/>
<clipPath id="cp21"><rect x="68.9" y="30.2" width="533.9" height="404.3"/></clipPath>
<g clip-path="url(#cp21)">
<path d="M92.9,663.2 L93,497.3 L93.2,402.8 L93.5,331.4 L93.8,289.5 L94.1,259.9 L94.7,218.1 L95.3,215.3 L95.6,213.7 L96.4,210.6 L97.1,212 L97.7,213.2 L98.9,215.6 L100.1,218 L101.3,220.4 L103.1,223.9 L104.9,227.5 L107.4,232.3 L109.8,237 L112.2,241.8 L114.6,246.5 L117,251.3 L119.5,256 L121.9,260.8 L121.9,260.8 L122,251.2 L122.2,238.4 L122.5,220 L122.8,204.4 L123.1,190.8 L123.7,168.1 L124.3,166.5 L124.7,165.5 L125.4,163.6 L126.1,165.2 L126.7,166.5 L127.9,169 L129.1,171.6 L130.3,174.2 L132.2,178.1 L134,182 L136.4,187.2 L138.8,192.4 L141.2,197.6 L143.6,202.7 L146.1,207.9 L148.5,213.1 L150.9,218.3 L150.9,218.3 L151,211.8 L151.2,202.8 L151.5,189.3 L151.8,177.3 L152.1,166.6 L152.7,148.1 L153.3,146.7 L153.7,145.9 L154.4,144.3 L155.1,145.9 L155.7,147.2 L156.9,149.8 L158.2,152.4 L159.4,155 L161.2,159 L163,162.9 L165.4,168.1 L167.8,173.3 L170.3,178.6 L172.7,183.8 L175.1,189 L177.5,194.3 L179.9,199.5 L179.9,199.5 L180,194 L180.2,186.3 L180.5,174.7 L180.8,164.2 L181.1,154.7 L181.7,137.9 L182.3,136.7 L182.7,136 L183.4,134.5 L184.2,136.1 L184.8,137.4 L186,140 L187.2,142.7 L188.4,145.3 L190.2,149.3 L192,153.2 L194.4,158.5 L196.9,163.7 L199.3,169 L201.7,174.3 L204.1,179.6 L206.5,184.8 L208.9,190.1 L209,190.1 L209.1,185 L209.3,177.8 L209.6,166.8 L209.9,156.8 L210.2,147.8 L210.8,131.7 L211.4,130.5 L211.7,129.8 L212.5,128.4 L213.2,130 L213.8,131.3 L215,134 L216.2,136.6 L217.4,139.3 L219.2,143.2 L221,147.2 L223.5,152.5 L225.9,157.8 L228.3,163.1 L230.7,168.4 L233.1,173.7 L235.6,179 L238,184.3 L238,184.3 L238.1,179.5 L238.3,172.7 L238.6,162.3 L238.9,152.8 L239.2,144.1 L239.8,128.7 L240.4,127.5 L240.8,126.9 L241.5,125.5 L242.2,127.1 L242.8,128.4 L244,131.1 L245.2,133.7 L246.4,136.4 L248.3,140.4 L250.1,144.3 L252.5,149.7 L254.9,155 L257.3,160.3 L259.7,165.6 L262.2,170.9 L264.6,176.2 L267,181.5 L267,181.5 L267.1,176.8 L267.3,170 L267.6,159.7 L267.9,150.3 L268.2,141.7 L268.8,126.4 L269.4,125.2 L269.8,124.5 L270.5,123.2 L271.2,124.8 L271.8,126.2 L273.1,128.9 L274.3,131.6 L275.5,134.3 L277.3,138.4 L279.1,142.4 L281.5,147.8 L283.9,153.2 L286.4,158.7 L288.8,164.1 L291.2,169.5 L293.6,174.9 L296,180.3 L296,180.3 L296.2,175.5 L296.3,168.7 L296.6,158.3 L296.9,148.8 L297.2,140.1 L297.8,124.7 L298.4,123.5 L298.8,122.9 L299.5,121.5 L300.3,123.2 L300.9,124.5 L302.1,127.3 L303.3,130 L304.5,132.8 L306.3,136.9 L308.1,141.1 L310.5,146.6 L313,152.1 L315.4,157.6 L317.8,163.1 L320.2,168.6 L322.6,174.1 L325,179.6 L325.1,179.6 L325.2,174.8 L325.4,168 L325.7,157.6 L326,148.1 L326.3,139.4 L326.9,124 L327.5,122.8 L327.8,122.2 L328.6,120.8 L329.3,122.5 L329.9,123.8 L331.1,126.6 L332.3,129.4 L333.5,132.1 L335.3,136.3 L337.1,140.4 L339.6,145.9 L342,151.5 L344.4,157 L346.8,162.5 L349.2,168 L351.7,173.6 L354.1,179.1 L354.1,179.1 L354.2,174.3 L354.4,167.5 L354.7,157.1 L355,147.6 L355.3,139 L355.9,123.6 L356.5,122.4 L356.9,121.8 L357.6,120.4 L358.3,122 L358.9,123.4 L360.1,126.2 L361.3,128.9 L362.5,131.7 L364.4,135.8 L366.2,139.9 L368.6,145.4 L371,150.9 L373.4,156.4 L375.8,161.9 L378.3,167.4 L380.7,172.9 L383.1,178.4 L383.1,178.4 L383.2,173.7 L383.4,167 L383.7,156.7 L384,147.4 L384.3,138.8 L384.9,123.6 L385.5,122.4 L385.9,121.7 L386.6,120.4 L387.3,122 L387.9,123.4 L389.2,126.1 L390.4,128.9 L391.6,131.6 L393.4,135.7 L395.2,139.8 L397.6,145.2 L400,150.7 L402.5,156.2 L404.9,161.6 L407.3,167.1 L409.7,172.5 L412.1,178 L412.1,178 L412.3,173.3 L412.4,166.7 L412.7,156.5 L413,147.2 L413.3,138.7 L413.9,123.5 L414.6,122.4 L414.9,121.7 L415.6,120.4 L416.4,122 L417,123.4 L418.2,126.1 L419.4,128.8 L420.6,131.5 L422.4,135.6 L424.2,139.7 L426.6,145.1 L429.1,150.5 L431.5,156 L433.9,161.4 L436.3,166.8 L438.7,172.3 L441.1,177.7 L441.2,177.7 L441.3,173.1 L441.5,166.5 L441.8,156.3 L442.1,147.1 L442.4,138.6 L443,123.5 L443.6,122.4 L443.9,121.7 L444.7,120.4 L445.4,122 L446,123.4 L447.2,126.1 L448.4,128.8 L449.6,131.5 L451.4,135.6 L453.3,139.7 L455.7,145.1 L458.1,150.5 L460.5,156 L462.9,161.4 L465.3,166.8 L467.8,172.3 L470.2,177.7 L470.2,177.7 L470.3,173.1 L470.5,166.5 L470.8,156.3 L471.1,147.1 L471.4,138.6 L472,123.5 L472.6,122.4 L473,121.7 L473.7,120.4 L474.4,121.9 L475,123.2 L476.2,125.8 L477.4,128.3 L478.6,130.9 L480.5,134.7 L482.3,138.6 L484.7,143.7 L487.1,148.8 L489.5,153.9 L492,159.1 L494.4,164.2 L496.8,169.3 L499.2,174.4 L501.6,179.5 L504,184.7 L506.5,189.8 L508.9,194.9 L511.3,200 L513.7,205.2 L516.1,210.3 L518.6,215.4 L521,220.5 L523.4,225.6 L525.8,230.8 L528.2,235.9 L530.7,241 L533.1,246.1 L535.5,251.2 L537.9,256.4 L540.3,261.5 L542.7,266.6 L545.2,271.7 L547.6,276.8 L550,282 L552.4,287.1 L554.8,292.2 L557.3,297.3 L559.7,302.5 L562.1,307.6 L564.5,312.7 L566.9,317.8 L569.4,322.9 L571.8,328.1 L574.2,333.2 L576.6,338.3" fill="none" stroke="#e0400a" stroke-width="2" stroke-linejoin="round"/>
<path d="M92.9,700 L93,563.9 L93.2,472.8 L93.5,406.7 L93.8,370.3 L94.1,345.9 L94.7,314.3 L95.3,294.4 L95.6,285.7 L96.4,272.8 L97.1,263.8 L97.7,258.3 L98.9,250.9 L100.1,246.3 L101.3,243.4 L103.1,241 L104.9,241.6 L107.4,243.3 L109.8,245.5 L112.2,248.1 L114.6,251.2 L117,254.5 L119.5,258.2 L121.9,262.2 L121.9,262.2 L122,258.7 L122.2,253.9 L122.5,247 L122.8,241.2 L123.1,236.2 L123.7,228.3 L124.3,222.3 L124.7,219.4 L125.4,214.9 L126.1,211.5 L126.7,209.3 L127.9,206.2 L129.1,204.3 L130.3,203.1 L132.2,202 L134,202.5 L136.4,203.8 L138.8,205.6 L141.2,207.8 L143.6,210.3 L146.1,213 L148.5,216 L150.9,219.2 L150.9,219.2 L151,217.1 L151.2,214.3 L151.5,210.1 L151.8,206.4 L152.1,203.3 L152.7,198.1 L153.3,194.1 L153.7,192.2 L154.4,189 L155.1,186.7 L155.7,185.2 L156.9,183 L158.2,181.6 L159.4,180.8 L161.2,180 L163,180.5 L165.4,181.6 L167.8,183.2 L170.3,185 L172.7,187.2 L175.1,189.6 L177.5,192.2 L179.9,195 L179.9,195 L180,193.7 L180.2,191.9 L180.5,189.2 L180.8,186.8 L181.1,184.7 L181.7,181.2 L182.3,178.5 L182.7,177.2 L183.4,175 L184.2,173.4 L184.8,172.4 L186,170.8 L187.2,169.9 L188.4,169.2 L190.2,168.7 L192,169.1 L194.4,170.2 L196.9,171.7 L199.3,173.4 L201.7,175.5 L204.1,177.7 L206.5,180.2 L208.9,182.8 L209,182.8 L209.1,181.8 L209.3,180.5 L209.6,178.5 L209.9,176.7 L210.2,175.1 L210.8,172.5 L211.4,170.4 L211.7,169.4 L212.5,167.7 L213.2,166.5 L213.8,165.7 L215,164.5 L216.2,163.7 L217.4,163.2 L219.2,162.8 L221,163.2 L223.5,164.3 L225.9,165.8 L228.3,167.5 L230.7,169.6 L233.1,171.8 L235.6,174.3 L238,176.9 L238,176.9 L238.1,176 L238.3,174.7 L238.6,172.8 L238.9,171.1 L239.2,169.6 L239.8,167.1 L240.4,165.1 L240.8,164.1 L241.5,162.5 L242.2,161.3 L242.8,160.5 L244,159.4 L245.2,158.7 L246.4,158.2 L248.3,157.8 L250.1,158.2 L252.5,159.2 L254.9,160.5 L257.3,162.1 L259.7,163.9 L262.2,166 L264.6,168.2 L267,170.6 L267,170.6 L267.1,169.8 L267.3,168.7 L267.6,167.1 L267.9,165.6 L268.2,164.3 L268.8,162.2 L269.4,160.5 L269.8,159.6 L270.5,158.2 L271.2,157.2 L271.8,156.5 L273.1,155.5 L274.3,154.9 L275.5,154.5 L277.3,154.1 L279.1,154.5 L281.5,155.5 L283.9,156.9 L286.4,158.6 L288.8,160.5 L291.2,162.7 L293.6,165 L296,167.5 L296,167.5 L296.2,166.8 L296.3,165.7 L296.6,164.2 L296.9,162.8 L297.2,161.5 L297.8,159.5 L298.4,157.9 L298.8,157.1 L299.5,155.7 L300.3,154.7 L300.9,154.1 L302.1,153.1 L303.3,152.5 L304.5,152.1 L306.3,151.8 L308.1,152.2 L310.5,153.3 L313,154.8 L315.4,156.5 L317.8,158.6 L320.2,160.8 L322.6,163.3 L325,165.9 L325.1,165.9 L325.2,165.1 L325.4,164.1 L325.7,162.5 L326,161.1 L326.3,159.8 L326.9,157.7 L327.5,156.1 L327.8,155.2 L328.6,153.9 L329.3,152.9 L329.9,152.2 L331.1,151.3 L332.3,150.6 L333.5,150.2 L335.3,149.9 L337.1,150.3 L339.6,151.5 L342,153 L344.4,154.9 L346.8,157 L349.2,159.4 L351.7,161.9 L354.1,164.7 L354.1,164.7 L354.2,163.9 L354.4,162.9 L354.7,161.3 L355,159.9 L355.3,158.6 L355.9,156.5 L356.5,154.9 L356.9,154 L357.6,152.7 L358.3,151.7 L358.9,151 L360.1,150.1 L361.3,149.4 L362.5,149 L364.4,148.7 L366.2,149.1 L368.6,150.3 L371,151.8 L373.4,153.7 L375.8,155.8 L378.3,158.2 L380.7,160.7 L383.1,163.5 L383.1,163.5 L383.2,162.7 L383.4,161.7 L383.7,160.1 L384,158.7 L384.3,157.4 L384.9,155.3 L385.5,153.7 L385.9,152.8 L386.6,151.5 L387.3,150.5 L387.9,149.8 L389.2,148.9 L390.4,148.2 L391.6,147.8 L393.4,147.5 L395.2,148 L397.6,149.1 L400,150.7 L402.5,152.6 L404.9,154.8 L407.3,157.3 L409.7,159.9 L412.1,162.8 L412.1,162.8 L412.3,162.1 L412.4,161 L412.7,159.5 L413,158.1 L413.3,156.8 L413.9,154.8 L414.6,153.2 L414.9,152.4 L415.6,151 L416.4,150 L417,149.4 L418.2,148.4 L419.4,147.8 L420.6,147.4 L422.4,147.1 L424.2,147.6 L426.6,148.7 L429.1,150.3 L431.5,152.1 L433.9,154.3 L436.3,156.7 L438.7,159.3 L441.1,162.1 L441.2,162.1 L441.3,161.4 L441.5,160.3 L441.8,158.8 L442.1,157.4 L442.4,156.1 L443,154.1 L443.6,152.5 L443.9,151.7 L444.7,150.3 L445.4,149.3 L446,148.7 L447.2,147.7 L448.4,147.1 L449.6,146.7 L451.4,146.4 L453.3,146.8 L455.7,148 L458.1,149.5 L460.5,151.4 L462.9,153.5 L465.3,155.9 L467.8,158.5 L470.2,161.3 L470.2,161.3 L470.3,160.6 L470.5,159.6 L470.8,158.1 L471.1,156.8 L471.4,155.6 L472,153.7 L472.6,152.1 L473,151.3 L473.7,150.1 L474.4,149.1 L475,148.5 L476.2,147.6 L477.4,147 L478.6,146.6 L480.5,146.3 L482.3,146.6 L484.7,147.5 L487.1,148.9 L489.5,150.5 L492,152.9 L494.4,155.9 L496.8,158.9 L499.2,161.6 L501.6,164.4 L504,167.1 L506.5,170 L508.9,172.9 L511.3,175.9 L513.7,178.9 L516.1,181.9 L518.6,185.1 L521,188.3 L523.4,191.5 L525.8,194.7 L528.2,197.8 L530.7,201 L533.1,204.1 L535.5,207.3 L537.9,210.4 L540.3,213.5 L542.7,216.6 L545.2,219.8 L547.6,222.9 L550,226.2 L552.4,229.7 L554.8,233.2 L557.3,236.9 L559.7,240.5 L562.1,244.3 L564.5,248.1 L566.9,251.8 L569.4,255.4 L571.8,258.9 L574.2,262.3 L576.6,265.7" fill="none" stroke="#b400e6" stroke-width="2" stroke-linejoin="round"/>
</g>
<line x1="68.9" y1="30.3" x2="68.9" y2="440.8" stroke="#000" stroke-width="2.1"/>
<line x1="62.3" y1="434.5" x2="602.7" y2="434.5" stroke="#000" stroke-width="1.8"/>
<line x1="601.8" y1="434.5" x2="601.8" y2="440.4" stroke="#000" stroke-width="1.8"/>
<line x1="62.3" y1="31.2" x2="68.9" y2="31.2" stroke="#000" stroke-width="1.8"/>
<line x1="65.7" y1="363" x2="68.9" y2="363" stroke="#000" stroke-width="1.5"/>
<line x1="65.7" y1="321.2" x2="68.9" y2="321.2" stroke="#000" stroke-width="1.5"/>
<line x1="65.7" y1="291.6" x2="68.9" y2="291.6" stroke="#000" stroke-width="1.5"/>
<line x1="65.7" y1="268.6" x2="68.9" y2="268.6" stroke="#000" stroke-width="1.5"/>
<line x1="65.7" y1="249.8" x2="68.9" y2="249.8" stroke="#000" stroke-width="1.5"/>
<line x1="65.7" y1="233.9" x2="68.9" y2="233.9" stroke="#000" stroke-width="1.5"/>
<line x1="65.7" y1="220.1" x2="68.9" y2="220.1" stroke="#000" stroke-width="1.5"/>
<line x1="65.7" y1="208" x2="68.9" y2="208" stroke="#000" stroke-width="1.5"/>
<line x1="64.9" y1="197.1" x2="68.9" y2="197.1" stroke="#000" stroke-width="1.5"/>
<line x1="65.7" y1="125.6" x2="68.9" y2="125.6" stroke="#000" stroke-width="1.5"/>
<line x1="65.7" y1="83.8" x2="68.9" y2="83.8" stroke="#000" stroke-width="1.5"/>
<line x1="65.7" y1="54.2" x2="68.9" y2="54.2" stroke="#000" stroke-width="1.5"/>
<line x1="92.8" y1="434.5" x2="92.8" y2="437" stroke="#000" stroke-width="1.6"/>
<text x="92.8" y="449.2" font-size="11.7" text-anchor="middle" fill="#222">0</text>
<line x1="153.3" y1="434.5" x2="153.3" y2="437" stroke="#000" stroke-width="1.6"/>
<text x="153.3" y="449.2" font-size="11.7" text-anchor="middle" fill="#222">50</text>
<line x1="213.8" y1="434.5" x2="213.8" y2="437" stroke="#000" stroke-width="1.6"/>
<text x="213.8" y="449.2" font-size="11.7" text-anchor="middle" fill="#222">100</text>
<line x1="274.3" y1="434.5" x2="274.3" y2="437" stroke="#000" stroke-width="1.6"/>
<text x="274.3" y="449.2" font-size="11.7" text-anchor="middle" fill="#222">150</text>
<line x1="334.7" y1="434.5" x2="334.7" y2="437" stroke="#000" stroke-width="1.6"/>
<text x="334.7" y="449.2" font-size="11.7" text-anchor="middle" fill="#222">200</text>
<line x1="395.2" y1="434.5" x2="395.2" y2="437" stroke="#000" stroke-width="1.6"/>
<text x="395.2" y="449.2" font-size="11.7" text-anchor="middle" fill="#222">250</text>
<line x1="455.7" y1="434.5" x2="455.7" y2="437" stroke="#000" stroke-width="1.6"/>
<text x="455.7" y="449.2" font-size="11.7" text-anchor="middle" fill="#222">300</text>
<line x1="516.1" y1="434.5" x2="516.1" y2="437" stroke="#000" stroke-width="1.6"/>
<text x="516.1" y="449.2" font-size="11.7" text-anchor="middle" fill="#222">350</text>
<line x1="576.6" y1="434.5" x2="576.6" y2="437" stroke="#000" stroke-width="1.6"/>
<text x="576.6" y="449.2" font-size="11.7" text-anchor="middle" fill="#222">400</text>
<text x="61.9" y="35.4" font-size="11.7" text-anchor="end" fill="#222">5.00e4</text>
<text x="61.9" y="201.3" font-size="11.7" text-anchor="end" fill="#222">10000</text>
<text x="61.9" y="438.7" font-size="11.7" text-anchor="end" fill="#222">1000</text>
<text x="335" y="465" font-size="13.3" text-anchor="middle" fill="#222" textLength="49.5" lengthAdjust="spacingAndGlyphs">Time (h)</text>
<text transform="translate(17.8,252.5) rotate(-90)" font-size="13.5" text-anchor="middle" fill="#222" textLength="186" lengthAdjust="spacingAndGlyphs">CBG-G concentration (µmol/L)</text>
<text x="81.5" y="56.4" font-size="27.3" fill="#000">F</text>
<rect x="465.9" y="19.4" width="139.9" height="66.4" fill="#fff" stroke="#333" stroke-width="1.1"/>
<line x1="469.5" y1="29.7" x2="486.5" y2="29.7" stroke="#222" stroke-width="1.6"/>
<text x="490.8" y="33.9" font-size="10.6" fill="#222" textLength="111.6" lengthAdjust="spacingAndGlyphs">Median over individuals</text>
<text x="469.3" y="49.7" font-size="10.4" font-weight="bold" fill="#111" textLength="35.6" lengthAdjust="spacingAndGlyphs">Groups</text>
<rect x="476.3" y="58.7" width="17.4" height="9.3" fill="#f87030"/>
<rect x="476.3" y="71.4" width="17.4" height="9.3" fill="#cc33ff"/>
<text x="497.3" y="66.8" font-size="10" fill="#222" textLength="108.6" lengthAdjust="spacingAndGlyphs">CBG_MICELLAR_dosing</text>
<text x="497.3" y="79.9" font-size="10" fill="#222" textLength="76.4" lengthAdjust="spacingAndGlyphs">CBG_OIL_dosing</text>
</g>
</svg>
</body></html>
